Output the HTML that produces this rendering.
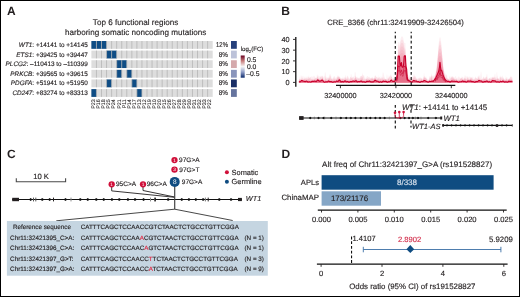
<!DOCTYPE html>
<html><head><meta charset="utf-8"><style>
html,body{margin:0;padding:0;background:#fff;}
body{width:520px;height:297px;overflow:hidden;}
svg{display:block;font-family:"Liberation Sans", sans-serif;}
svg{will-change:transform;}
text{text-rendering:geometricPrecision;}
</style></head><body>
<svg width="520" height="297" viewBox="0 0 520 297">
<rect x="0" y="0" width="520" height="297" fill="#fff"/>
<text x="7.00" y="15.30" font-size="12" text-anchor="start" fill="#231f20" font-weight="bold">A</text>
<text x="135.60" y="25.30" font-size="8.1" text-anchor="middle" fill="#231f20"  stroke="#231f20" stroke-width="0.14">Top 6 functional regions</text>
<text x="135.60" y="34.60" font-size="8.1" text-anchor="middle" fill="#231f20"  stroke="#231f20" stroke-width="0.14">harboring somatic noncoding mutations</text>
<text x="87.8" y="46.95" font-size="6.4" text-anchor="end" fill="#231f20" stroke="#231f20" stroke-width="0.14"><tspan font-style="italic">WT1</tspan>: +14141 to +14145</text>
<rect x="91.4" y="41.00" width="121.30" height="7.8" fill="#dddddd"/>
<rect x="91.40" y="41.00" width="5.05" height="7.8" fill="#0f4d85"/>
<rect x="96.45" y="41.00" width="5.05" height="7.8" fill="#0f4d85"/>
<rect x="101.51" y="41.00" width="5.05" height="7.8" fill="#0f4d85"/>
<line x1="96.45" y1="41.00" x2="96.45" y2="48.80" stroke="#b3b3b3" stroke-width="0.75"/>
<line x1="101.51" y1="41.00" x2="101.51" y2="48.80" stroke="#b3b3b3" stroke-width="0.75"/>
<line x1="106.56" y1="41.00" x2="106.56" y2="48.80" stroke="#b3b3b3" stroke-width="0.75"/>
<line x1="111.62" y1="41.00" x2="111.62" y2="48.80" stroke="#b3b3b3" stroke-width="0.75"/>
<line x1="116.67" y1="41.00" x2="116.67" y2="48.80" stroke="#b3b3b3" stroke-width="0.75"/>
<line x1="121.72" y1="41.00" x2="121.72" y2="48.80" stroke="#b3b3b3" stroke-width="0.75"/>
<line x1="126.78" y1="41.00" x2="126.78" y2="48.80" stroke="#b3b3b3" stroke-width="0.75"/>
<line x1="131.83" y1="41.00" x2="131.83" y2="48.80" stroke="#b3b3b3" stroke-width="0.75"/>
<line x1="136.89" y1="41.00" x2="136.89" y2="48.80" stroke="#b3b3b3" stroke-width="0.75"/>
<line x1="141.94" y1="41.00" x2="141.94" y2="48.80" stroke="#b3b3b3" stroke-width="0.75"/>
<line x1="146.99" y1="41.00" x2="146.99" y2="48.80" stroke="#b3b3b3" stroke-width="0.75"/>
<line x1="152.05" y1="41.00" x2="152.05" y2="48.80" stroke="#b3b3b3" stroke-width="0.75"/>
<line x1="157.10" y1="41.00" x2="157.10" y2="48.80" stroke="#b3b3b3" stroke-width="0.75"/>
<line x1="162.16" y1="41.00" x2="162.16" y2="48.80" stroke="#b3b3b3" stroke-width="0.75"/>
<line x1="167.21" y1="41.00" x2="167.21" y2="48.80" stroke="#b3b3b3" stroke-width="0.75"/>
<line x1="172.26" y1="41.00" x2="172.26" y2="48.80" stroke="#b3b3b3" stroke-width="0.75"/>
<line x1="177.32" y1="41.00" x2="177.32" y2="48.80" stroke="#b3b3b3" stroke-width="0.75"/>
<line x1="182.37" y1="41.00" x2="182.37" y2="48.80" stroke="#b3b3b3" stroke-width="0.75"/>
<line x1="187.43" y1="41.00" x2="187.43" y2="48.80" stroke="#b3b3b3" stroke-width="0.75"/>
<line x1="192.48" y1="41.00" x2="192.48" y2="48.80" stroke="#b3b3b3" stroke-width="0.75"/>
<line x1="197.53" y1="41.00" x2="197.53" y2="48.80" stroke="#b3b3b3" stroke-width="0.75"/>
<line x1="202.59" y1="41.00" x2="202.59" y2="48.80" stroke="#b3b3b3" stroke-width="0.75"/>
<line x1="207.64" y1="41.00" x2="207.64" y2="48.80" stroke="#b3b3b3" stroke-width="0.75"/>
<text x="227.90" y="46.95" font-size="7.1" text-anchor="end" fill="#231f20" textLength="11.8" lengthAdjust="spacingAndGlyphs" stroke="#231f20" stroke-width="0.14">12%</text>
<rect x="231" y="41.00" width="5.8" height="7.8" fill="#26407a"/>
<text x="87.8" y="56.57" font-size="6.4" text-anchor="end" fill="#231f20" stroke="#231f20" stroke-width="0.14"><tspan font-style="italic">ETS1</tspan>: +39425 to +39447</text>
<rect x="91.4" y="50.62" width="121.30" height="7.8" fill="#dddddd"/>
<rect x="106.56" y="50.62" width="5.05" height="7.8" fill="#0f4d85"/>
<rect x="111.62" y="50.62" width="5.05" height="7.8" fill="#0f4d85"/>
<line x1="96.45" y1="50.62" x2="96.45" y2="58.42" stroke="#b3b3b3" stroke-width="0.75"/>
<line x1="101.51" y1="50.62" x2="101.51" y2="58.42" stroke="#b3b3b3" stroke-width="0.75"/>
<line x1="106.56" y1="50.62" x2="106.56" y2="58.42" stroke="#b3b3b3" stroke-width="0.75"/>
<line x1="111.62" y1="50.62" x2="111.62" y2="58.42" stroke="#b3b3b3" stroke-width="0.75"/>
<line x1="116.67" y1="50.62" x2="116.67" y2="58.42" stroke="#b3b3b3" stroke-width="0.75"/>
<line x1="121.72" y1="50.62" x2="121.72" y2="58.42" stroke="#b3b3b3" stroke-width="0.75"/>
<line x1="126.78" y1="50.62" x2="126.78" y2="58.42" stroke="#b3b3b3" stroke-width="0.75"/>
<line x1="131.83" y1="50.62" x2="131.83" y2="58.42" stroke="#b3b3b3" stroke-width="0.75"/>
<line x1="136.89" y1="50.62" x2="136.89" y2="58.42" stroke="#b3b3b3" stroke-width="0.75"/>
<line x1="141.94" y1="50.62" x2="141.94" y2="58.42" stroke="#b3b3b3" stroke-width="0.75"/>
<line x1="146.99" y1="50.62" x2="146.99" y2="58.42" stroke="#b3b3b3" stroke-width="0.75"/>
<line x1="152.05" y1="50.62" x2="152.05" y2="58.42" stroke="#b3b3b3" stroke-width="0.75"/>
<line x1="157.10" y1="50.62" x2="157.10" y2="58.42" stroke="#b3b3b3" stroke-width="0.75"/>
<line x1="162.16" y1="50.62" x2="162.16" y2="58.42" stroke="#b3b3b3" stroke-width="0.75"/>
<line x1="167.21" y1="50.62" x2="167.21" y2="58.42" stroke="#b3b3b3" stroke-width="0.75"/>
<line x1="172.26" y1="50.62" x2="172.26" y2="58.42" stroke="#b3b3b3" stroke-width="0.75"/>
<line x1="177.32" y1="50.62" x2="177.32" y2="58.42" stroke="#b3b3b3" stroke-width="0.75"/>
<line x1="182.37" y1="50.62" x2="182.37" y2="58.42" stroke="#b3b3b3" stroke-width="0.75"/>
<line x1="187.43" y1="50.62" x2="187.43" y2="58.42" stroke="#b3b3b3" stroke-width="0.75"/>
<line x1="192.48" y1="50.62" x2="192.48" y2="58.42" stroke="#b3b3b3" stroke-width="0.75"/>
<line x1="197.53" y1="50.62" x2="197.53" y2="58.42" stroke="#b3b3b3" stroke-width="0.75"/>
<line x1="202.59" y1="50.62" x2="202.59" y2="58.42" stroke="#b3b3b3" stroke-width="0.75"/>
<line x1="207.64" y1="50.62" x2="207.64" y2="58.42" stroke="#b3b3b3" stroke-width="0.75"/>
<text x="227.90" y="56.57" font-size="7.1" text-anchor="end" fill="#231f20" textLength="9.1" lengthAdjust="spacingAndGlyphs" stroke="#231f20" stroke-width="0.14">8%</text>
<rect x="231" y="50.62" width="5.8" height="7.8" fill="#bcc2d9"/>
<text x="87.8" y="66.19" font-size="6.4" text-anchor="end" fill="#231f20" stroke="#231f20" stroke-width="0.14"><tspan font-style="italic">PLCG2</tspan>: –110413 to –110399</text>
<rect x="91.4" y="60.24" width="121.30" height="7.8" fill="#dddddd"/>
<rect x="116.67" y="60.24" width="5.05" height="7.8" fill="#0f4d85"/>
<rect x="121.72" y="60.24" width="5.05" height="7.8" fill="#0f4d85"/>
<line x1="96.45" y1="60.24" x2="96.45" y2="68.04" stroke="#b3b3b3" stroke-width="0.75"/>
<line x1="101.51" y1="60.24" x2="101.51" y2="68.04" stroke="#b3b3b3" stroke-width="0.75"/>
<line x1="106.56" y1="60.24" x2="106.56" y2="68.04" stroke="#b3b3b3" stroke-width="0.75"/>
<line x1="111.62" y1="60.24" x2="111.62" y2="68.04" stroke="#b3b3b3" stroke-width="0.75"/>
<line x1="116.67" y1="60.24" x2="116.67" y2="68.04" stroke="#b3b3b3" stroke-width="0.75"/>
<line x1="121.72" y1="60.24" x2="121.72" y2="68.04" stroke="#b3b3b3" stroke-width="0.75"/>
<line x1="126.78" y1="60.24" x2="126.78" y2="68.04" stroke="#b3b3b3" stroke-width="0.75"/>
<line x1="131.83" y1="60.24" x2="131.83" y2="68.04" stroke="#b3b3b3" stroke-width="0.75"/>
<line x1="136.89" y1="60.24" x2="136.89" y2="68.04" stroke="#b3b3b3" stroke-width="0.75"/>
<line x1="141.94" y1="60.24" x2="141.94" y2="68.04" stroke="#b3b3b3" stroke-width="0.75"/>
<line x1="146.99" y1="60.24" x2="146.99" y2="68.04" stroke="#b3b3b3" stroke-width="0.75"/>
<line x1="152.05" y1="60.24" x2="152.05" y2="68.04" stroke="#b3b3b3" stroke-width="0.75"/>
<line x1="157.10" y1="60.24" x2="157.10" y2="68.04" stroke="#b3b3b3" stroke-width="0.75"/>
<line x1="162.16" y1="60.24" x2="162.16" y2="68.04" stroke="#b3b3b3" stroke-width="0.75"/>
<line x1="167.21" y1="60.24" x2="167.21" y2="68.04" stroke="#b3b3b3" stroke-width="0.75"/>
<line x1="172.26" y1="60.24" x2="172.26" y2="68.04" stroke="#b3b3b3" stroke-width="0.75"/>
<line x1="177.32" y1="60.24" x2="177.32" y2="68.04" stroke="#b3b3b3" stroke-width="0.75"/>
<line x1="182.37" y1="60.24" x2="182.37" y2="68.04" stroke="#b3b3b3" stroke-width="0.75"/>
<line x1="187.43" y1="60.24" x2="187.43" y2="68.04" stroke="#b3b3b3" stroke-width="0.75"/>
<line x1="192.48" y1="60.24" x2="192.48" y2="68.04" stroke="#b3b3b3" stroke-width="0.75"/>
<line x1="197.53" y1="60.24" x2="197.53" y2="68.04" stroke="#b3b3b3" stroke-width="0.75"/>
<line x1="202.59" y1="60.24" x2="202.59" y2="68.04" stroke="#b3b3b3" stroke-width="0.75"/>
<line x1="207.64" y1="60.24" x2="207.64" y2="68.04" stroke="#b3b3b3" stroke-width="0.75"/>
<text x="227.90" y="66.19" font-size="7.1" text-anchor="end" fill="#231f20" textLength="9.1" lengthAdjust="spacingAndGlyphs" stroke="#231f20" stroke-width="0.14">8%</text>
<rect x="231" y="60.24" width="5.8" height="7.8" fill="#d4a9ac"/>
<text x="87.8" y="75.81" font-size="6.4" text-anchor="end" fill="#231f20" stroke="#231f20" stroke-width="0.14"><tspan font-style="italic">PRKCB</tspan>: +39565 to +39615</text>
<rect x="91.4" y="69.86" width="121.30" height="7.8" fill="#dddddd"/>
<rect x="116.67" y="69.86" width="5.05" height="7.8" fill="#0f4d85"/>
<rect x="126.78" y="69.86" width="5.05" height="7.8" fill="#0f4d85"/>
<line x1="96.45" y1="69.86" x2="96.45" y2="77.66" stroke="#b3b3b3" stroke-width="0.75"/>
<line x1="101.51" y1="69.86" x2="101.51" y2="77.66" stroke="#b3b3b3" stroke-width="0.75"/>
<line x1="106.56" y1="69.86" x2="106.56" y2="77.66" stroke="#b3b3b3" stroke-width="0.75"/>
<line x1="111.62" y1="69.86" x2="111.62" y2="77.66" stroke="#b3b3b3" stroke-width="0.75"/>
<line x1="116.67" y1="69.86" x2="116.67" y2="77.66" stroke="#b3b3b3" stroke-width="0.75"/>
<line x1="121.72" y1="69.86" x2="121.72" y2="77.66" stroke="#b3b3b3" stroke-width="0.75"/>
<line x1="126.78" y1="69.86" x2="126.78" y2="77.66" stroke="#b3b3b3" stroke-width="0.75"/>
<line x1="131.83" y1="69.86" x2="131.83" y2="77.66" stroke="#b3b3b3" stroke-width="0.75"/>
<line x1="136.89" y1="69.86" x2="136.89" y2="77.66" stroke="#b3b3b3" stroke-width="0.75"/>
<line x1="141.94" y1="69.86" x2="141.94" y2="77.66" stroke="#b3b3b3" stroke-width="0.75"/>
<line x1="146.99" y1="69.86" x2="146.99" y2="77.66" stroke="#b3b3b3" stroke-width="0.75"/>
<line x1="152.05" y1="69.86" x2="152.05" y2="77.66" stroke="#b3b3b3" stroke-width="0.75"/>
<line x1="157.10" y1="69.86" x2="157.10" y2="77.66" stroke="#b3b3b3" stroke-width="0.75"/>
<line x1="162.16" y1="69.86" x2="162.16" y2="77.66" stroke="#b3b3b3" stroke-width="0.75"/>
<line x1="167.21" y1="69.86" x2="167.21" y2="77.66" stroke="#b3b3b3" stroke-width="0.75"/>
<line x1="172.26" y1="69.86" x2="172.26" y2="77.66" stroke="#b3b3b3" stroke-width="0.75"/>
<line x1="177.32" y1="69.86" x2="177.32" y2="77.66" stroke="#b3b3b3" stroke-width="0.75"/>
<line x1="182.37" y1="69.86" x2="182.37" y2="77.66" stroke="#b3b3b3" stroke-width="0.75"/>
<line x1="187.43" y1="69.86" x2="187.43" y2="77.66" stroke="#b3b3b3" stroke-width="0.75"/>
<line x1="192.48" y1="69.86" x2="192.48" y2="77.66" stroke="#b3b3b3" stroke-width="0.75"/>
<line x1="197.53" y1="69.86" x2="197.53" y2="77.66" stroke="#b3b3b3" stroke-width="0.75"/>
<line x1="202.59" y1="69.86" x2="202.59" y2="77.66" stroke="#b3b3b3" stroke-width="0.75"/>
<line x1="207.64" y1="69.86" x2="207.64" y2="77.66" stroke="#b3b3b3" stroke-width="0.75"/>
<text x="227.90" y="75.81" font-size="7.1" text-anchor="end" fill="#231f20" textLength="9.1" lengthAdjust="spacingAndGlyphs" stroke="#231f20" stroke-width="0.14">8%</text>
<rect x="231" y="69.86" width="5.8" height="7.8" fill="#8a95bb"/>
<text x="87.8" y="85.43" font-size="6.4" text-anchor="end" fill="#231f20" stroke="#231f20" stroke-width="0.14"><tspan font-style="italic">PDGFA</tspan>: +51941 to +51950</text>
<rect x="91.4" y="79.48" width="121.30" height="7.8" fill="#dddddd"/>
<rect x="106.56" y="79.48" width="5.05" height="7.8" fill="#0f4d85"/>
<rect x="131.83" y="79.48" width="5.05" height="7.8" fill="#0f4d85"/>
<line x1="96.45" y1="79.48" x2="96.45" y2="87.28" stroke="#b3b3b3" stroke-width="0.75"/>
<line x1="101.51" y1="79.48" x2="101.51" y2="87.28" stroke="#b3b3b3" stroke-width="0.75"/>
<line x1="106.56" y1="79.48" x2="106.56" y2="87.28" stroke="#b3b3b3" stroke-width="0.75"/>
<line x1="111.62" y1="79.48" x2="111.62" y2="87.28" stroke="#b3b3b3" stroke-width="0.75"/>
<line x1="116.67" y1="79.48" x2="116.67" y2="87.28" stroke="#b3b3b3" stroke-width="0.75"/>
<line x1="121.72" y1="79.48" x2="121.72" y2="87.28" stroke="#b3b3b3" stroke-width="0.75"/>
<line x1="126.78" y1="79.48" x2="126.78" y2="87.28" stroke="#b3b3b3" stroke-width="0.75"/>
<line x1="131.83" y1="79.48" x2="131.83" y2="87.28" stroke="#b3b3b3" stroke-width="0.75"/>
<line x1="136.89" y1="79.48" x2="136.89" y2="87.28" stroke="#b3b3b3" stroke-width="0.75"/>
<line x1="141.94" y1="79.48" x2="141.94" y2="87.28" stroke="#b3b3b3" stroke-width="0.75"/>
<line x1="146.99" y1="79.48" x2="146.99" y2="87.28" stroke="#b3b3b3" stroke-width="0.75"/>
<line x1="152.05" y1="79.48" x2="152.05" y2="87.28" stroke="#b3b3b3" stroke-width="0.75"/>
<line x1="157.10" y1="79.48" x2="157.10" y2="87.28" stroke="#b3b3b3" stroke-width="0.75"/>
<line x1="162.16" y1="79.48" x2="162.16" y2="87.28" stroke="#b3b3b3" stroke-width="0.75"/>
<line x1="167.21" y1="79.48" x2="167.21" y2="87.28" stroke="#b3b3b3" stroke-width="0.75"/>
<line x1="172.26" y1="79.48" x2="172.26" y2="87.28" stroke="#b3b3b3" stroke-width="0.75"/>
<line x1="177.32" y1="79.48" x2="177.32" y2="87.28" stroke="#b3b3b3" stroke-width="0.75"/>
<line x1="182.37" y1="79.48" x2="182.37" y2="87.28" stroke="#b3b3b3" stroke-width="0.75"/>
<line x1="187.43" y1="79.48" x2="187.43" y2="87.28" stroke="#b3b3b3" stroke-width="0.75"/>
<line x1="192.48" y1="79.48" x2="192.48" y2="87.28" stroke="#b3b3b3" stroke-width="0.75"/>
<line x1="197.53" y1="79.48" x2="197.53" y2="87.28" stroke="#b3b3b3" stroke-width="0.75"/>
<line x1="202.59" y1="79.48" x2="202.59" y2="87.28" stroke="#b3b3b3" stroke-width="0.75"/>
<line x1="207.64" y1="79.48" x2="207.64" y2="87.28" stroke="#b3b3b3" stroke-width="0.75"/>
<text x="227.90" y="85.43" font-size="7.1" text-anchor="end" fill="#231f20" textLength="9.1" lengthAdjust="spacingAndGlyphs" stroke="#231f20" stroke-width="0.14">8%</text>
<rect x="231" y="79.48" width="5.8" height="7.8" fill="#1a2f66"/>
<text x="87.8" y="95.05" font-size="6.4" text-anchor="end" fill="#231f20" stroke="#231f20" stroke-width="0.14"><tspan font-style="italic">CD247</tspan>: +83274 to +83313</text>
<rect x="91.4" y="89.10" width="121.30" height="7.8" fill="#dddddd"/>
<rect x="91.40" y="89.10" width="5.05" height="7.8" fill="#0f4d85"/>
<rect x="136.89" y="89.10" width="5.05" height="7.8" fill="#0f4d85"/>
<line x1="96.45" y1="89.10" x2="96.45" y2="96.90" stroke="#b3b3b3" stroke-width="0.75"/>
<line x1="101.51" y1="89.10" x2="101.51" y2="96.90" stroke="#b3b3b3" stroke-width="0.75"/>
<line x1="106.56" y1="89.10" x2="106.56" y2="96.90" stroke="#b3b3b3" stroke-width="0.75"/>
<line x1="111.62" y1="89.10" x2="111.62" y2="96.90" stroke="#b3b3b3" stroke-width="0.75"/>
<line x1="116.67" y1="89.10" x2="116.67" y2="96.90" stroke="#b3b3b3" stroke-width="0.75"/>
<line x1="121.72" y1="89.10" x2="121.72" y2="96.90" stroke="#b3b3b3" stroke-width="0.75"/>
<line x1="126.78" y1="89.10" x2="126.78" y2="96.90" stroke="#b3b3b3" stroke-width="0.75"/>
<line x1="131.83" y1="89.10" x2="131.83" y2="96.90" stroke="#b3b3b3" stroke-width="0.75"/>
<line x1="136.89" y1="89.10" x2="136.89" y2="96.90" stroke="#b3b3b3" stroke-width="0.75"/>
<line x1="141.94" y1="89.10" x2="141.94" y2="96.90" stroke="#b3b3b3" stroke-width="0.75"/>
<line x1="146.99" y1="89.10" x2="146.99" y2="96.90" stroke="#b3b3b3" stroke-width="0.75"/>
<line x1="152.05" y1="89.10" x2="152.05" y2="96.90" stroke="#b3b3b3" stroke-width="0.75"/>
<line x1="157.10" y1="89.10" x2="157.10" y2="96.90" stroke="#b3b3b3" stroke-width="0.75"/>
<line x1="162.16" y1="89.10" x2="162.16" y2="96.90" stroke="#b3b3b3" stroke-width="0.75"/>
<line x1="167.21" y1="89.10" x2="167.21" y2="96.90" stroke="#b3b3b3" stroke-width="0.75"/>
<line x1="172.26" y1="89.10" x2="172.26" y2="96.90" stroke="#b3b3b3" stroke-width="0.75"/>
<line x1="177.32" y1="89.10" x2="177.32" y2="96.90" stroke="#b3b3b3" stroke-width="0.75"/>
<line x1="182.37" y1="89.10" x2="182.37" y2="96.90" stroke="#b3b3b3" stroke-width="0.75"/>
<line x1="187.43" y1="89.10" x2="187.43" y2="96.90" stroke="#b3b3b3" stroke-width="0.75"/>
<line x1="192.48" y1="89.10" x2="192.48" y2="96.90" stroke="#b3b3b3" stroke-width="0.75"/>
<line x1="197.53" y1="89.10" x2="197.53" y2="96.90" stroke="#b3b3b3" stroke-width="0.75"/>
<line x1="202.59" y1="89.10" x2="202.59" y2="96.90" stroke="#b3b3b3" stroke-width="0.75"/>
<line x1="207.64" y1="89.10" x2="207.64" y2="96.90" stroke="#b3b3b3" stroke-width="0.75"/>
<text x="227.90" y="95.05" font-size="7.1" text-anchor="end" fill="#231f20" textLength="9.1" lengthAdjust="spacingAndGlyphs" stroke="#231f20" stroke-width="0.14">8%</text>
<rect x="231" y="89.10" width="5.8" height="7.8" fill="#66749e"/>
<text transform="translate(95.23,99.3) rotate(-90)" font-size="5.3" text-anchor="end" fill="#231f20" stroke="#231f20" stroke-width="0.08">P23</text>
<text transform="translate(100.28,99.3) rotate(-90)" font-size="5.3" text-anchor="end" fill="#231f20" stroke="#231f20" stroke-width="0.08">P16</text>
<text transform="translate(105.34,99.3) rotate(-90)" font-size="5.3" text-anchor="end" fill="#231f20" stroke="#231f20" stroke-width="0.08">P18</text>
<text transform="translate(110.39,99.3) rotate(-90)" font-size="5.3" text-anchor="end" fill="#231f20" stroke="#231f20" stroke-width="0.08">P25</text>
<text transform="translate(115.44,99.3) rotate(-90)" font-size="5.3" text-anchor="end" fill="#231f20" stroke="#231f20" stroke-width="0.08">P24</text>
<text transform="translate(120.50,99.3) rotate(-90)" font-size="5.3" text-anchor="end" fill="#231f20" stroke="#231f20" stroke-width="0.08">P21</text>
<text transform="translate(125.55,99.3) rotate(-90)" font-size="5.3" text-anchor="end" fill="#231f20" stroke="#231f20" stroke-width="0.08">P11</text>
<text transform="translate(130.61,99.3) rotate(-90)" font-size="5.3" text-anchor="end" fill="#231f20" stroke="#231f20" stroke-width="0.08">P14</text>
<text transform="translate(135.66,99.3) rotate(-90)" font-size="5.3" text-anchor="end" fill="#231f20" stroke="#231f20" stroke-width="0.08">P17</text>
<text transform="translate(140.71,99.3) rotate(-90)" font-size="5.3" text-anchor="end" fill="#231f20" stroke="#231f20" stroke-width="0.08">P13</text>
<text transform="translate(145.77,99.3) rotate(-90)" font-size="5.3" text-anchor="end" fill="#231f20" stroke="#231f20" stroke-width="0.08">P12</text>
<text transform="translate(150.82,99.3) rotate(-90)" font-size="5.3" text-anchor="end" fill="#231f20" stroke="#231f20" stroke-width="0.08">P19</text>
<text transform="translate(155.88,99.3) rotate(-90)" font-size="5.3" text-anchor="end" fill="#231f20" stroke="#231f20" stroke-width="0.08">P10</text>
<text transform="translate(160.93,99.3) rotate(-90)" font-size="5.3" text-anchor="end" fill="#231f20" stroke="#231f20" stroke-width="0.08">P20</text>
<text transform="translate(165.98,99.3) rotate(-90)" font-size="5.3" text-anchor="end" fill="#231f20" stroke="#231f20" stroke-width="0.08">P15</text>
<text transform="translate(171.04,99.3) rotate(-90)" font-size="5.3" text-anchor="end" fill="#231f20" stroke="#231f20" stroke-width="0.08">P26</text>
<text transform="translate(176.09,99.3) rotate(-90)" font-size="5.3" text-anchor="end" fill="#231f20" stroke="#231f20" stroke-width="0.08">P27</text>
<text transform="translate(181.15,99.3) rotate(-90)" font-size="5.3" text-anchor="end" fill="#231f20" stroke="#231f20" stroke-width="0.08">P28</text>
<text transform="translate(186.20,99.3) rotate(-90)" font-size="5.3" text-anchor="end" fill="#231f20" stroke="#231f20" stroke-width="0.08">P29</text>
<text transform="translate(191.25,99.3) rotate(-90)" font-size="5.3" text-anchor="end" fill="#231f20" stroke="#231f20" stroke-width="0.08">P30</text>
<text transform="translate(196.31,99.3) rotate(-90)" font-size="5.3" text-anchor="end" fill="#231f20" stroke="#231f20" stroke-width="0.08">P31</text>
<text transform="translate(201.36,99.3) rotate(-90)" font-size="5.3" text-anchor="end" fill="#231f20" stroke="#231f20" stroke-width="0.08">P32</text>
<text transform="translate(206.42,99.3) rotate(-90)" font-size="5.3" text-anchor="end" fill="#231f20" stroke="#231f20" stroke-width="0.08">P33</text>
<text transform="translate(211.47,99.3) rotate(-90)" font-size="5.3" text-anchor="end" fill="#231f20" stroke="#231f20" stroke-width="0.08">P22</text>
<text x="240.7" y="51.4" font-size="6.1" fill="#231f20" stroke="#231f20" stroke-width="0.14">log<tspan font-size="4.2" dy="1.3">2</tspan><tspan dy="-1.3">(FC)</tspan></text>
<defs><linearGradient id="cb" x1="0" y1="0" x2="0" y2="1"><stop offset="0" stop-color="#67001f"/><stop offset="0.25" stop-color="#c9807f"/><stop offset="0.5" stop-color="#f7f7f7"/><stop offset="0.75" stop-color="#8e9cc6"/><stop offset="1" stop-color="#0c2a6b"/></linearGradient></defs>
<rect x="240.7" y="55.5" width="4" height="22.2" fill="url(#cb)"/>
<text x="246.90" y="61.60" font-size="6.8" text-anchor="start" fill="#231f20"  stroke="#231f20" stroke-width="0.14">0.5</text>
<text x="246.90" y="69.00" font-size="6.8" text-anchor="start" fill="#231f20"  stroke="#231f20" stroke-width="0.14">0.0</text>
<text x="246.30" y="76.40" font-size="6.8" text-anchor="start" fill="#231f20"  stroke="#231f20" stroke-width="0.14">–0.5</text>
<text x="281.30" y="15.30" font-size="12" text-anchor="start" fill="#231f20" font-weight="bold">B</text>
<text x="327.20" y="24.50" font-size="7.7" text-anchor="start" fill="#231f20"  stroke="#231f20" stroke-width="0.14">CRE_8366 (chr11:32419909-32426504)</text>
<line x1="295.8" y1="37" x2="295.8" y2="86.7" stroke="#111" stroke-width="1.3"/>
<line x1="293" y1="82.40" x2="295.8" y2="82.40" stroke="#231f20" stroke-width="0.9"/>
<text x="289.50" y="85.00" font-size="7.3" text-anchor="end" fill="#231f20"  stroke="#231f20" stroke-width="0.14">0</text>
<line x1="293" y1="71.65" x2="295.8" y2="71.65" stroke="#231f20" stroke-width="0.9"/>
<text x="289.50" y="74.25" font-size="7.3" text-anchor="end" fill="#231f20"  stroke="#231f20" stroke-width="0.14">10</text>
<line x1="293" y1="60.90" x2="295.8" y2="60.90" stroke="#231f20" stroke-width="0.9"/>
<text x="289.50" y="63.50" font-size="7.3" text-anchor="end" fill="#231f20"  stroke="#231f20" stroke-width="0.14">20</text>
<line x1="293" y1="50.15" x2="295.8" y2="50.15" stroke="#231f20" stroke-width="0.9"/>
<text x="289.50" y="52.75" font-size="7.3" text-anchor="end" fill="#231f20"  stroke="#231f20" stroke-width="0.14">30</text>
<line x1="293" y1="39.40" x2="295.8" y2="39.40" stroke="#231f20" stroke-width="0.9"/>
<text x="289.50" y="42.00" font-size="7.3" text-anchor="end" fill="#231f20"  stroke="#231f20" stroke-width="0.14">40</text>
<line x1="336" y1="85.4" x2="455.3" y2="85.4" stroke="#111" stroke-width="1.2"/>
<line x1="340.4" y1="85.5" x2="340.4" y2="88.2" stroke="#231f20" stroke-width="0.9"/>
<text x="340.40" y="97.60" font-size="7.3" text-anchor="middle" fill="#231f20"  stroke="#231f20" stroke-width="0.14">32400000</text>
<line x1="395.9" y1="85.5" x2="395.9" y2="88.2" stroke="#231f20" stroke-width="0.9"/>
<text x="395.90" y="97.60" font-size="7.3" text-anchor="middle" fill="#231f20"  stroke="#231f20" stroke-width="0.14">32420000</text>
<line x1="451.3" y1="85.5" x2="451.3" y2="88.2" stroke="#231f20" stroke-width="0.9"/>
<text x="451.30" y="97.60" font-size="7.3" text-anchor="middle" fill="#231f20"  stroke="#231f20" stroke-width="0.14">32440000</text>
<polygon points="298.9,82.70 298.90,81.58 299.15,81.56 299.40,81.49 299.65,81.46 299.90,81.39 300.15,81.38 300.40,81.39 300.65,81.37 300.90,81.30 301.15,81.14 301.40,80.88 301.65,80.75 301.90,80.67 302.15,80.78 302.40,81.02 302.65,81.32 302.90,81.56 303.15,81.58 303.40,81.55 303.65,81.47 303.90,81.40 304.15,81.40 304.40,81.49 304.65,81.53 304.90,81.58 305.15,81.60 305.40,81.54 305.65,81.44 305.90,81.35 306.15,81.35 306.40,81.42 306.65,81.55 306.90,81.72 307.15,81.75 307.40,81.74 307.65,81.70 307.90,81.62 308.15,81.66 308.40,81.80 308.65,81.86 308.90,81.91 309.15,81.91 309.40,81.84 309.65,81.80 309.90,81.79 310.15,81.86 310.40,81.96 310.65,81.99 310.90,82.03 311.15,81.95 311.40,81.76 311.65,81.57 311.90,81.42 312.15,81.39 312.40,81.45 312.65,81.57 312.90,81.68 313.15,81.64 313.40,81.49 313.65,81.33 313.90,81.14 314.15,81.10 314.40,81.20 314.65,81.27 314.90,81.39 315.15,81.41 315.40,81.33 315.65,81.27 315.90,81.16 316.15,81.16 316.40,81.13 316.65,81.06 316.90,80.93 317.15,80.72 317.40,80.44 317.65,80.29 317.90,80.19 318.15,80.22 318.40,80.37 318.65,80.56 318.90,80.67 319.15,80.81 319.40,80.89 319.65,80.90 319.90,80.86 320.15,80.90 320.40,80.87 320.65,80.84 320.90,80.77 321.15,80.76 321.40,80.68 321.65,80.66 321.90,80.66 322.15,80.64 322.40,80.59 322.65,80.61 322.90,80.68 323.15,80.91 323.40,81.23 323.65,81.58 323.90,81.89 324.15,81.98 324.40,81.98 324.65,81.94 324.90,81.83 325.15,81.80 325.40,81.82 325.65,81.82 325.90,81.85 326.15,81.83 326.40,81.73 326.65,81.63 326.90,81.58 327.15,81.58 327.40,81.64 327.65,81.67 327.90,81.69 328.15,81.36 328.40,80.88 328.65,80.47 328.90,80.07 329.15,80.25 329.40,80.76 329.65,81.26 329.90,81.70 330.15,81.83 330.40,81.70 330.65,81.57 330.90,81.45 331.15,81.46 331.40,81.56 331.65,81.70 331.90,81.81 332.15,81.88 332.40,81.90 332.65,81.89 332.90,81.80 333.15,81.74 333.40,81.68 333.65,81.55 333.90,81.44 334.15,81.30 334.40,81.13 334.65,80.99 334.90,80.89 335.15,81.00 335.40,81.19 335.65,81.32 335.90,81.43 336.15,81.37 336.40,81.18 336.65,81.05 336.90,81.03 337.15,81.06 337.40,81.20 337.65,81.35 337.90,81.41 338.15,81.34 338.40,81.19 338.65,80.96 338.90,80.72 339.15,80.62 339.40,80.61 339.65,80.77 339.90,81.03 340.15,81.36 340.40,81.67 340.65,81.91 340.90,82.03 341.15,81.88 341.40,81.49 341.65,81.05 341.90,80.66 342.15,80.73 342.40,81.06 342.65,81.44 342.90,81.85 343.15,81.96 343.40,81.81 343.65,81.63 343.90,81.38 344.15,81.25 344.40,81.28 344.65,81.32 344.90,81.39 345.15,81.42 345.40,81.45 345.65,81.48 345.90,81.55 346.15,81.67 346.40,81.81 346.65,81.84 346.90,81.82 347.15,81.65 347.40,81.44 347.65,81.25 347.90,81.11 348.15,81.21 348.40,81.36 348.65,81.46 348.90,81.53 349.15,81.52 349.40,81.41 349.65,81.31 349.90,81.19 350.15,81.12 350.40,81.07 350.65,81.04 350.90,81.05 351.15,81.21 351.40,81.36 351.65,81.53 351.90,81.71 352.15,81.62 352.40,81.37 352.65,81.12 352.90,80.89 353.15,80.88 353.40,80.99 353.65,81.13 353.90,81.35 354.15,81.51 354.40,81.54 354.65,81.59 354.90,81.61 355.15,81.49 355.40,81.35 355.65,81.27 355.90,81.19 356.15,81.23 356.40,81.39 356.65,81.55 356.90,81.73 357.15,81.78 357.40,81.66 357.65,81.52 357.90,81.32 358.15,81.27 358.40,81.34 358.65,81.46 358.90,81.56 359.15,81.58 359.40,81.47 359.65,81.35 359.90,81.16 360.15,81.19 360.40,81.23 360.65,81.30 360.90,81.39 361.15,81.38 361.40,81.31 361.65,81.29 361.90,81.30 362.15,81.47 362.40,81.66 362.65,81.82 362.90,81.95 363.15,81.95 363.40,81.89 363.65,81.90 363.90,81.88 364.15,81.83 364.40,81.78 364.65,81.77 364.90,81.72 365.15,81.71 365.40,81.68 365.65,81.58 365.90,81.41 366.15,81.31 366.40,81.23 366.65,81.17 366.90,81.22 367.15,81.30 367.40,81.44 367.65,81.60 367.90,81.74 368.15,81.71 368.40,81.56 368.65,81.38 368.90,81.17 369.15,81.05 369.40,80.97 369.65,80.94 369.90,81.00 370.15,81.10 370.40,81.16 370.65,81.21 370.90,81.28 371.15,81.36 371.40,81.48 371.65,81.62 371.90,81.75 372.15,81.78 372.40,81.74 372.65,81.74 372.90,81.70 373.15,81.52 373.40,81.10 373.65,80.68 373.90,80.23 374.15,80.15 374.40,80.30 374.65,80.56 374.90,80.83 375.15,80.85 375.40,80.76 375.65,80.70 375.90,80.62 376.15,80.75 376.40,80.89 376.65,80.98 376.90,81.08 377.15,81.14 377.40,81.15 377.65,81.18 377.90,81.30 378.15,81.39 378.40,81.48 378.65,81.60 378.90,81.70 379.15,81.71 379.40,81.73 379.65,81.73 379.90,81.64 380.15,81.62 380.40,81.67 380.65,81.79 380.90,81.91 381.15,81.94 381.40,81.79 381.65,81.65 381.90,81.42 382.15,81.34 382.40,81.31 382.65,81.34 382.90,81.39 383.15,81.38 383.40,81.34 383.65,81.40 383.90,81.46 384.15,81.50 384.40,81.49 384.65,81.46 384.90,81.39 385.15,81.41 385.40,81.39 385.65,81.41 385.90,81.51 386.15,81.59 386.40,81.59 386.65,81.71 386.90,81.74 387.15,81.75 387.40,81.66 387.65,81.56 387.90,81.34 388.15,81.37 388.40,81.50 388.65,81.61 388.90,81.78 389.15,81.82 389.40,81.71 389.65,81.56 389.90,81.37 390.15,81.16 390.40,80.95 390.65,80.70 390.90,80.51 391.15,80.32 391.40,80.20 391.65,80.15 391.90,80.21 392.15,80.42 392.40,80.78 392.65,81.03 392.90,81.26 393.15,81.33 393.40,81.29 393.65,81.20 393.90,81.22 394.15,81.21 394.40,81.21 394.65,80.94 394.90,80.72 395.15,80.62 395.40,79.75 395.65,78.22 395.90,76.77 396.15,75.40 396.40,74.13 396.65,72.93 396.90,71.82 397.15,70.78 397.40,69.82 397.65,68.94 397.90,68.13 398.15,66.29 398.40,66.37 398.65,66.12 398.90,65.58 399.15,65.10 399.40,64.68 399.65,64.31 399.90,64.00 400.15,63.74 400.40,63.53 400.65,63.37 400.90,63.24 401.15,63.15 401.40,63.09 401.65,63.06 401.90,63.05 402.15,63.05 402.40,63.07 402.65,63.10 402.90,63.16 403.15,63.26 403.40,63.40 403.65,63.57 403.90,63.79 404.15,64.06 404.40,64.38 404.65,64.76 404.90,65.19 405.15,65.68 405.40,66.23 405.65,66.85 405.90,67.53 406.15,68.29 406.40,69.11 406.65,70.01 406.90,70.98 407.15,72.03 407.40,73.16 407.65,74.38 407.90,75.67 408.15,77.05 408.40,78.52 408.65,80.07 408.90,80.76 409.15,80.77 409.40,80.83 409.65,80.90 409.90,80.96 410.15,81.31 410.40,81.44 410.65,81.56 410.90,81.76 411.15,81.80 411.40,81.68 411.65,81.61 411.90,81.46 412.15,81.37 412.40,81.28 412.65,81.16 412.90,80.98 413.15,80.81 413.40,80.63 413.65,80.54 413.90,80.51 414.15,80.65 414.40,80.87 414.65,81.11 414.90,81.30 415.15,81.38 415.40,81.31 415.65,81.23 415.90,81.19 416.15,81.19 416.40,81.23 416.65,81.34 416.90,81.46 417.15,81.50 417.40,81.51 417.65,81.50 417.90,81.45 418.15,81.42 418.40,81.53 418.65,81.64 418.90,81.80 419.15,81.97 419.40,82.13 419.65,82.21 419.90,82.33 420.15,82.27 420.40,82.10 420.65,81.95 420.90,81.81 421.15,81.59 421.40,81.38 421.65,81.22 421.90,81.07 422.15,81.10 422.40,81.28 422.65,81.43 422.90,81.54 423.15,81.48 423.40,81.36 423.65,81.19 423.90,81.07 424.15,80.93 424.40,80.82 424.65,80.72 424.90,80.67 425.15,80.71 425.40,80.85 425.65,80.97 425.90,81.09 426.15,81.13 426.40,81.14 426.65,81.08 426.90,81.10 427.15,81.15 427.40,81.25 427.65,81.38 427.90,81.51 428.15,81.50 428.40,81.47 428.65,81.42 428.90,81.29 429.15,81.21 429.40,81.13 429.65,81.16 429.90,81.17 430.15,81.27 430.40,81.38 430.65,81.50 430.90,81.60 431.15,81.55 431.40,81.40 431.65,81.23 431.90,81.12 432.15,81.02 432.40,80.97 432.65,80.98 432.90,81.08 433.15,81.11 433.40,81.12 433.65,81.13 433.90,81.15 434.15,80.91 434.40,80.28 434.65,79.04 434.90,77.88 435.15,76.77 435.40,75.74 435.65,74.77 435.90,73.86 436.15,73.02 436.40,72.24 436.65,71.53 436.90,70.87 437.15,70.28 437.40,69.74 437.65,69.26 437.90,68.84 438.15,68.48 438.40,68.17 438.65,67.92 438.90,67.71 439.15,67.55 439.40,67.44 439.65,67.38 439.90,67.35 440.15,67.35 440.40,67.39 440.65,67.46 440.90,67.58 441.15,67.75 441.40,67.96 441.65,68.23 441.90,68.55 442.15,68.92 442.40,69.35 442.65,69.84 442.90,70.39 443.15,71.00 443.40,71.66 443.65,72.39 443.90,73.18 444.15,74.04 444.40,74.96 444.65,75.94 444.90,76.99 445.15,78.10 445.40,79.29 445.65,80.08 445.90,80.41 446.15,80.60 446.40,80.69 446.65,80.78 446.90,80.88 447.15,81.19 447.40,81.32 447.65,81.42 447.90,81.53 448.15,81.55 448.40,81.60 448.65,81.65 448.90,81.72 449.15,81.81 449.40,81.90 449.65,81.93 449.90,81.93 450.15,81.85 450.40,81.63 450.65,81.33 450.90,81.05 451.15,80.96 451.40,81.02 451.65,81.11 451.90,81.27 452.15,81.35 452.40,81.38 452.65,81.42 452.90,81.45 453.15,81.37 453.40,81.22 453.65,81.07 453.90,80.91 454.15,80.86 454.40,80.90 454.65,80.94 454.90,81.05 455.15,81.23 455.40,81.42 455.65,81.57 455.90,81.78 456.15,81.75 456.40,81.64 456.65,81.55 456.90,81.51 457.15,81.50 457.40,81.59 457.65,81.68 457.90,81.83 458.15,81.91 458.40,81.91 458.65,81.84 458.90,81.76 459.15,81.59 459.40,81.45 459.65,81.37 459.90,81.30 460.15,81.28 460.40,81.31 460.65,81.28 460.90,81.30 461.15,81.41 461.40,81.54 461.65,81.63 461.90,81.71 462.15,81.56 462.40,81.32 462.65,81.14 462.90,81.02 463.15,81.14 463.40,81.41 463.65,81.67 463.90,81.84 464.15,81.87 464.40,81.70 464.65,81.55 464.90,81.42 465.15,81.48 465.40,81.61 465.65,81.78 465.90,81.93 466.15,82.00 466.40,81.97 466.65,81.86 466.90,81.72 467.15,81.59 467.40,81.46 467.65,81.33 467.90,81.32 468.15,81.35 468.40,81.39 468.65,81.42 468.90,81.49 469.15,81.43 469.40,81.33 469.65,81.22 469.90,81.12 470.15,81.07 470.40,81.17 470.65,81.31 470.90,81.50 471.15,81.62 471.40,81.74 471.65,81.85 471.90,81.92 472.15,81.82 472.40,81.64 472.65,81.51 472.90,81.37 473.15,81.32 473.40,81.39 473.65,81.49 473.90,81.61 474.15,81.69 474.40,81.79 474.65,81.86 474.90,81.92 475.15,81.75 475.40,81.58 475.65,81.38 475.90,81.22 476.15,81.06 476.40,80.94 476.65,80.84 476.90,80.73 477.15,80.83 477.40,81.06 477.65,81.28 477.90,81.42 478.15,81.37 478.40,81.15 478.65,80.99 478.90,80.86 479.15,80.78 479.40,80.69 479.65,80.71 479.90,80.69 480.15,80.80 480.40,80.92 480.65,81.06 480.90,81.15 481.15,81.16 481.40,81.12 481.65,81.13 481.90,81.23 482.15,81.40 482.40,81.52 482.65,81.63 482.90,81.73 483.15,81.72 483.40,81.69 483.65,81.69 483.90,81.69 484.15,81.57 484.40,81.47 484.65,81.37 484.90,81.29 485.15,81.25 485.40,81.29 485.65,81.23 485.90,81.20 486.15,81.17 486.40,81.16 486.65,81.12 486.90,81.20 487.15,81.25 487.40,81.29 487.65,81.39 487.90,81.47 488.15,81.57 488.40,81.63 488.65,81.63 488.90,81.65 489.15,81.69 489.40,81.67 489.65,81.69 489.90,81.83 490.15,81.90 490.40,81.98 490.65,82.00 490.90,82.03 491.15,81.85 491.40,81.56 491.65,81.26 491.90,80.99 492.15,80.82 492.40,80.84 492.65,80.96 492.90,81.07 493.15,81.15 493.40,81.22 493.65,81.30 493.90,81.28 494.15,81.29 494.40,81.31 494.65,81.29 494.90,81.33 495.15,81.42 495.40,81.52 495.65,81.60 495.90,81.72 496.15,81.74 496.40,81.71 496.65,81.64 496.90,81.55 497.15,81.44 497.40,81.36 497.65,81.24 497.90,81.17 498.15,81.24 498.40,81.43 498.65,81.60 498.90,81.80 499.15,81.84 499.40,81.74 499.65,81.57 499.90,81.40 500.15,81.31 500.40,81.26 500.65,81.29 500.90,81.40 501.15,81.44 501.40,81.42 501.65,81.45 501.90,81.37 502.15,81.35 502.40,81.33 502.65,81.38 502.90,81.43 503.15,81.53 503.40,81.61 503.65,81.74 503.90,81.87 504.15,81.89 504.40,81.82 504.65,81.72 504.90,81.58 505.15,81.52 505.40,81.49 505.65,81.49 505.90,81.55 506.15,81.56 506.40,81.63 506.65,81.71 506.90,81.79 507.15,81.77 507.40,81.77 507.65,81.69 507.90,81.58 508.15,81.45 508.40,81.30 508.65,81.16 508.90,81.08 509.15,81.10 509.40,81.16 509.65,81.31 509.90,81.45 510.15,81.43 510.40,81.33 510.65,81.22 510.90,81.13 511.15,81.11 511.40,81.22 511.65,81.36 511.90,81.56 512.15,81.52 512.40,81.41 512.5,82.70" fill="#e0304f" fill-opacity="0.07"/>
<polygon points="298.9,82.70 298.90,80.49 299.15,80.42 299.40,80.46 299.65,80.55 299.90,80.59 300.15,80.71 300.40,80.87 300.65,80.99 300.90,81.06 301.15,81.01 301.40,80.84 301.65,80.82 301.90,80.86 302.15,80.78 302.40,80.64 302.65,80.56 302.90,80.42 303.15,80.48 303.40,80.79 303.65,81.04 303.90,81.30 304.15,81.28 304.40,81.14 304.65,80.94 304.90,80.75 305.15,80.65 305.40,80.56 305.65,80.43 305.90,80.30 306.15,80.25 306.40,80.25 306.65,80.34 306.90,80.47 307.15,80.55 307.40,80.64 307.65,80.71 307.90,80.72 308.15,80.46 308.40,80.79 308.65,80.46 308.90,80.40 309.15,80.72 309.40,80.76 309.65,80.84 309.90,80.96 310.15,81.05 310.40,81.08 310.65,81.05 310.90,81.02 311.15,80.92 311.40,80.73 311.65,80.55 311.90,80.43 312.15,80.49 312.40,80.69 312.65,80.96 312.90,81.22 313.15,81.36 313.40,81.41 313.65,81.44 313.90,81.45 314.15,81.41 314.40,81.41 314.65,81.37 314.90,81.40 315.15,81.46 315.40,81.51 315.65,81.60 315.90,81.63 316.15,81.53 316.40,81.25 316.65,80.92 316.90,80.53 317.15,79.92 317.40,79.17 317.65,78.57 317.90,78.02 318.15,78.21 318.40,78.93 318.65,79.70 318.90,80.37 319.15,80.70 319.40,80.69 319.65,80.61 319.90,80.47 320.15,80.53 320.40,80.60 320.65,80.67 320.90,80.69 321.15,80.52 321.40,80.12 321.65,79.78 321.90,79.23 322.15,79.22 322.40,79.39 322.65,79.87 322.90,79.95 323.15,80.59 323.40,81.04 323.65,81.51 323.90,81.95 324.15,81.99 324.40,81.81 324.65,81.58 324.90,81.28 325.15,80.77 325.40,81.27 325.65,80.87 325.90,81.37 326.15,81.41 326.40,81.37 326.65,81.34 326.90,81.36 327.15,80.99 327.40,80.38 327.65,79.74 327.90,79.09 328.15,79.01 328.40,79.43 328.65,79.92 328.90,80.43 329.15,80.68 329.40,80.70 329.65,80.69 329.90,80.63 330.15,80.45 330.40,80.80 330.65,80.91 330.90,81.03 331.15,81.03 331.40,80.97 331.65,80.97 331.90,80.92 332.15,81.05 332.40,81.27 332.65,81.45 332.90,81.54 333.15,81.54 333.40,81.44 333.65,81.27 333.90,81.11 334.15,81.13 334.40,81.24 334.65,81.39 334.90,81.58 335.15,81.65 335.40,81.59 335.65,81.43 335.90,81.26 336.15,81.15 336.40,81.05 336.65,81.02 336.90,81.12 337.15,81.00 337.40,80.81 337.65,80.64 337.90,80.36 338.15,80.19 338.40,80.09 338.65,79.90 338.90,79.70 339.15,79.67 339.40,79.76 339.65,79.77 339.90,80.42 340.15,80.52 340.40,81.03 340.65,81.19 340.90,81.22 341.15,80.95 341.40,80.44 341.65,79.88 341.90,79.36 342.15,79.38 342.40,79.72 342.65,79.64 342.90,80.52 343.15,80.92 343.40,81.23 343.65,81.07 343.90,81.73 344.15,81.68 344.40,81.55 344.65,81.42 344.90,81.35 345.15,81.15 345.40,80.92 345.65,80.69 345.90,80.07 346.15,80.13 346.40,80.32 346.65,80.40 346.90,80.84 347.15,80.74 347.40,80.61 347.65,80.51 347.90,80.47 348.15,80.67 348.40,80.91 348.65,81.09 348.90,81.24 349.15,81.26 349.40,81.14 349.65,81.04 349.90,80.91 350.15,80.84 350.40,80.78 350.65,80.74 350.90,80.75 351.15,80.82 351.40,80.81 351.65,80.81 351.90,80.83 352.15,80.74 352.40,80.61 352.65,80.47 352.90,80.36 353.15,80.23 353.40,80.06 353.65,79.91 353.90,79.86 354.15,79.96 354.40,80.04 354.65,80.15 354.90,79.75 355.15,79.77 355.40,80.33 355.65,79.98 355.90,80.62 356.15,80.65 356.40,80.64 356.65,80.63 356.90,80.64 357.15,80.86 357.40,81.12 357.65,81.36 357.90,81.52 358.15,81.48 358.40,81.34 358.65,81.25 358.90,81.14 359.15,81.17 359.40,81.20 359.65,81.21 359.90,81.14 360.15,81.01 360.40,80.69 360.65,80.40 360.90,80.13 361.15,80.03 361.40,80.06 361.65,80.15 361.90,79.86 362.15,80.47 362.40,80.63 362.65,80.75 362.90,80.84 363.15,80.78 363.40,80.66 363.65,80.61 363.90,80.53 364.15,80.75 364.40,81.15 364.65,81.62 364.90,82.04 365.15,82.12 365.40,81.92 365.65,81.64 365.90,81.28 366.15,80.98 366.40,80.66 366.65,80.38 366.90,80.21 367.15,80.28 367.40,80.53 367.65,80.82 367.90,81.08 368.15,81.10 368.40,80.97 368.65,80.81 368.90,80.61 369.15,80.55 369.40,80.57 369.65,80.66 369.90,80.84 370.15,80.97 370.40,81.00 370.65,81.02 370.90,81.06 371.15,80.98 371.40,80.85 371.65,80.76 371.90,80.64 372.15,80.61 372.40,80.61 372.65,80.67 372.90,80.69 373.15,80.93 373.40,81.17 373.65,81.40 373.90,81.61 374.15,81.49 374.40,81.13 374.65,80.90 374.90,80.68 375.15,80.62 375.40,80.72 375.65,80.85 375.90,80.96 376.15,81.01 376.40,80.86 376.65,80.67 376.90,80.48 377.15,80.39 377.40,80.34 377.65,80.31 377.90,80.17 378.15,80.66 378.40,80.85 378.65,81.04 378.90,81.95 379.15,81.67 379.40,81.43 379.65,81.43 379.90,81.06 380.15,80.82 380.40,80.69 380.65,80.66 380.90,80.61 381.15,80.71 381.40,80.75 381.65,80.80 381.90,80.74 382.15,80.64 382.40,80.47 382.65,80.36 382.90,80.27 383.15,80.23 383.40,80.22 383.65,80.31 383.90,80.41 384.15,80.62 384.40,80.86 384.65,81.07 384.90,81.24 385.15,81.34 385.40,81.27 385.65,81.26 385.90,81.34 386.15,81.39 386.40,81.33 386.65,81.41 386.90,81.39 387.15,81.48 387.40,81.53 387.65,81.57 387.90,81.49 388.15,81.45 388.40,81.37 388.65,81.28 388.90,81.25 389.15,81.35 389.40,81.45 389.65,81.51 389.90,81.54 390.15,81.36 390.40,81.06 390.65,80.73 390.90,80.46 391.15,80.25 391.40,80.16 391.65,80.14 391.90,80.25 392.15,80.45 392.40,80.76 392.65,80.94 392.90,81.10 393.15,81.02 393.40,80.78 393.65,80.48 393.90,80.32 394.15,80.35 394.40,80.57 394.65,80.22 394.90,80.17 395.15,80.43 395.40,80.43 395.65,79.55 395.90,77.66 396.15,75.88 396.40,74.20 396.65,72.64 396.90,71.18 397.15,69.83 397.40,68.58 397.65,67.42 397.90,66.36 398.15,63.57 398.40,63.33 398.65,63.08 398.90,62.83 399.15,62.39 399.40,61.85 399.65,61.37 399.90,60.97 400.15,60.63 400.40,60.35 400.65,60.13 400.90,59.97 401.15,59.85 401.40,59.77 401.65,59.73 401.90,59.72 402.15,59.72 402.40,59.74 402.65,59.78 402.90,59.87 403.15,59.99 403.40,60.17 403.65,60.40 403.90,60.69 404.15,61.04 404.40,61.46 404.65,61.95 404.90,62.51 405.15,63.16 405.40,63.82 405.65,64.69 405.90,65.58 406.15,66.57 406.40,67.64 406.65,68.82 406.90,70.09 407.15,71.47 407.40,72.95 407.65,74.53 407.90,76.22 408.15,78.03 408.40,79.95 408.65,80.28 408.90,80.06 409.15,80.07 409.40,80.24 409.65,80.40 409.90,80.57 410.15,80.87 410.40,80.79 410.65,80.68 410.90,80.68 411.15,80.78 411.40,80.89 411.65,81.07 411.90,81.15 412.15,81.18 412.40,81.16 412.65,81.09 412.90,80.95 413.15,80.75 413.40,80.49 413.65,80.33 413.90,80.24 414.15,80.37 414.40,80.62 414.65,80.89 414.90,81.10 415.15,81.05 415.40,80.72 415.65,80.40 415.90,80.11 416.15,80.11 416.40,80.29 416.65,80.56 416.90,80.85 417.15,81.01 417.40,81.10 417.65,81.17 417.90,81.19 418.15,81.18 418.40,81.29 418.65,81.39 418.90,81.54 419.15,81.58 419.40,81.51 419.65,81.34 419.90,81.22 420.15,81.25 420.40,81.38 420.65,81.52 420.90,81.69 421.15,81.52 421.40,81.19 421.65,80.92 421.90,80.67 422.15,80.62 422.40,80.74 422.65,80.84 422.90,80.88 423.15,80.71 423.40,80.46 423.65,79.83 423.90,79.89 424.15,79.87 424.40,80.04 424.65,80.22 424.90,80.46 425.15,80.66 425.40,80.88 425.65,81.07 425.90,80.93 426.15,81.04 426.40,81.46 426.65,81.47 426.90,81.23 427.15,81.59 427.40,81.60 427.65,81.65 427.90,81.69 428.15,81.64 428.40,81.59 428.65,81.52 428.90,81.36 429.15,81.03 429.40,80.55 429.65,80.19 429.90,79.81 430.15,79.93 430.40,80.32 430.65,80.73 430.90,81.11 431.15,81.14 431.40,80.55 431.65,80.34 431.90,80.19 432.15,80.61 432.40,80.81 432.65,81.07 432.90,81.44 433.15,81.40 433.40,81.13 433.65,80.85 433.90,80.57 434.15,80.13 434.40,79.56 434.65,79.00 434.90,78.43 435.15,77.03 435.40,75.56 435.65,74.17 435.90,72.88 436.15,71.68 436.40,70.57 436.65,69.54 436.90,68.61 437.15,67.76 437.40,67.00 437.65,66.32 437.90,65.72 438.15,65.20 438.40,64.76 438.65,64.39 438.90,64.10 439.15,63.88 439.40,63.72 439.65,63.63 439.90,63.59 440.15,63.59 440.40,63.64 440.65,63.75 440.90,63.92 441.15,64.15 441.40,64.46 441.65,64.84 441.90,65.30 442.15,65.83 442.40,66.45 442.65,67.14 442.90,67.92 443.15,68.79 443.40,69.74 443.65,70.78 443.90,71.91 444.15,73.13 444.40,74.44 444.65,75.84 444.90,77.34 445.15,78.93 445.40,79.62 445.65,80.18 445.90,80.74 446.15,80.96 446.40,80.94 446.65,80.93 446.90,80.91 447.15,81.01 447.40,80.81 447.65,80.58 447.90,80.36 448.15,80.31 448.40,80.46 448.65,80.63 448.90,80.81 449.15,80.88 449.40,80.86 449.65,80.78 449.90,80.65 450.15,80.77 450.40,80.96 450.65,81.04 450.90,81.15 451.15,81.15 451.40,81.11 451.65,81.11 451.90,81.18 452.15,81.05 452.40,80.79 452.65,80.53 452.90,80.28 453.15,80.38 453.40,80.71 453.65,81.05 453.90,81.38 454.15,81.44 454.40,81.34 454.65,81.24 454.90,81.21 455.15,81.11 455.40,80.91 455.65,80.68 455.90,80.50 456.15,80.56 456.40,80.86 456.65,81.18 456.90,81.56 457.15,81.56 457.40,81.39 457.65,81.22 457.90,81.12 458.15,81.06 458.40,81.00 458.65,80.86 458.90,80.71 459.15,80.73 459.40,80.98 459.65,81.28 459.90,81.60 460.15,81.55 460.40,81.28 460.65,80.93 460.90,80.63 461.15,80.66 461.40,80.86 461.65,81.00 461.90,81.14 462.15,80.99 462.40,80.72 462.65,80.53 462.90,80.40 463.15,80.54 463.40,80.82 463.65,81.10 463.90,81.28 464.15,81.41 464.40,81.02 464.65,81.44 464.90,81.49 465.15,81.59 465.40,81.64 465.65,81.74 465.90,81.82 466.15,81.90 466.40,81.91 466.65,81.84 466.90,81.72 467.15,81.62 467.40,81.49 467.65,81.37 467.90,81.39 468.15,81.13 468.40,80.68 468.65,80.22 468.90,79.81 469.15,79.85 469.40,80.27 469.65,80.67 469.90,81.07 470.15,81.00 470.40,80.72 470.65,80.48 470.90,80.31 471.15,80.45 471.40,80.86 471.65,81.26 471.90,81.60 472.15,81.70 472.40,81.66 472.65,81.68 472.90,81.69 473.15,81.52 473.40,81.29 473.65,81.11 473.90,80.94 474.15,80.98 474.40,81.18 474.65,81.36 474.90,81.51 475.15,81.35 475.40,81.14 475.65,80.88 475.90,80.67 476.15,80.62 476.40,80.71 476.65,80.81 476.90,80.91 477.15,81.02 477.40,81.14 477.65,81.24 477.90,81.25 478.15,81.06 478.40,80.68 478.65,80.36 478.90,80.08 479.15,80.12 479.40,80.34 479.65,80.67 479.90,80.97 480.15,81.12 480.40,81.11 480.65,81.12 480.90,81.07 481.15,81.09 481.40,81.16 481.65,81.28 481.90,81.52 482.15,81.58 482.40,81.44 482.65,81.28 482.90,81.10 483.15,81.08 483.40,80.92 483.65,81.40 483.90,81.58 484.15,81.55 484.40,81.51 484.65,81.46 484.90,81.45 485.15,81.46 485.40,81.56 485.65,81.54 485.90,81.56 486.15,81.51 486.40,81.45 486.65,81.35 486.90,81.38 487.15,81.30 487.40,81.15 487.65,81.07 487.90,80.96 488.15,81.03 488.40,81.13 488.65,81.18 488.90,81.25 489.15,81.33 489.40,81.33 489.65,81.38 489.90,81.57 490.15,81.65 490.40,81.71 490.65,81.72 490.90,81.72 491.15,81.44 491.40,81.00 491.65,80.55 491.90,80.14 492.15,80.00 492.40,80.20 492.65,80.51 492.90,80.81 493.15,80.81 493.40,80.63 493.65,80.45 493.90,80.17 494.15,80.09 494.40,80.13 494.65,80.14 494.90,80.21 495.15,80.03 495.40,79.67 495.65,79.28 495.90,78.94 496.15,79.24 496.40,79.97 496.65,80.21 496.90,80.87 497.15,81.61 497.40,81.26 497.65,81.76 497.90,81.86 498.15,81.81 498.40,81.69 498.65,81.54 498.90,81.43 499.15,81.41 499.40,81.44 499.65,81.38 499.90,81.11 500.15,81.05 500.40,81.20 500.65,81.01 500.90,81.14 501.15,81.44 501.40,81.50 501.65,81.61 501.90,81.61 502.15,81.40 502.40,81.03 502.65,80.74 502.90,80.46 503.15,80.53 503.40,80.80 503.65,81.12 503.90,81.45 504.15,81.69 504.40,81.83 504.65,81.95 504.90,82.02 505.15,81.90 505.40,81.64 505.65,81.41 505.90,81.25 506.15,81.23 506.40,81.41 506.65,81.60 506.90,81.80 507.15,81.72 507.40,81.57 507.65,81.32 507.90,81.04 508.15,80.87 508.40,80.78 508.65,80.70 508.90,80.69 509.15,80.82 509.40,81.01 509.65,81.30 509.90,81.58 510.15,81.58 510.40,81.41 510.65,81.24 510.90,81.08 511.15,81.04 511.40,81.17 511.65,81.33 511.90,81.57 512.15,81.56 512.40,81.49 512.5,82.70" fill="#e0304f" fill-opacity="0.07"/>
<polygon points="298.9,82.70 298.90,81.14 299.15,80.97 299.40,80.67 299.65,80.42 299.90,80.11 300.15,80.15 300.40,80.40 300.65,80.60 300.90,80.74 301.15,80.62 301.40,80.28 301.65,80.12 301.90,80.02 302.15,80.08 302.40,80.27 302.65,80.54 302.90,80.73 303.15,80.66 303.40,80.55 303.65,80.36 303.90,80.18 304.15,80.16 304.40,80.31 304.65,80.38 304.90,80.47 305.15,80.54 305.40,80.53 305.65,80.46 305.90,80.41 306.15,80.37 306.40,80.35 306.65,80.42 306.90,80.55 307.15,80.76 307.40,81.10 307.65,81.40 307.90,81.63 308.15,81.17 308.40,81.21 308.65,81.14 308.90,81.63 309.15,81.53 309.40,81.37 309.65,81.24 309.90,81.16 310.15,81.24 310.40,81.39 310.65,81.46 310.90,81.54 311.15,81.41 311.40,81.09 311.65,80.79 311.90,80.54 312.15,80.38 312.40,80.31 312.65,80.31 312.90,80.30 313.15,80.30 313.40,80.28 313.65,80.24 313.90,80.17 314.15,80.06 314.40,79.99 314.65,79.87 314.90,79.84 315.15,79.96 315.40,80.14 315.65,80.36 315.90,80.52 316.15,80.59 316.40,80.47 316.65,80.29 316.90,80.04 317.15,79.87 317.40,79.76 317.65,79.81 317.90,79.93 318.15,79.98 318.40,80.01 318.65,80.12 318.90,80.09 319.15,80.00 319.40,79.73 319.65,79.39 319.90,78.97 320.15,78.95 320.40,79.06 320.65,79.16 320.90,79.22 321.15,79.29 321.40,79.25 321.65,79.28 321.90,78.89 322.15,79.51 322.40,79.71 322.65,80.00 322.90,79.91 323.15,80.66 323.40,80.90 323.65,81.17 323.90,81.40 324.15,81.55 324.40,81.70 324.65,81.81 324.90,80.96 325.15,80.68 325.40,80.21 325.65,80.58 325.90,80.11 326.15,80.25 326.40,80.73 326.65,81.22 326.90,81.76 327.15,81.77 327.40,81.45 327.65,81.09 327.90,80.72 328.15,80.58 328.40,80.71 328.65,80.92 328.90,81.15 329.15,81.08 329.40,80.23 329.65,80.36 329.90,79.93 330.15,80.02 330.40,80.42 330.65,80.81 330.90,81.22 331.15,81.34 331.40,81.30 331.65,81.31 331.90,81.28 332.15,81.25 332.40,81.21 332.65,81.13 332.90,80.94 333.15,80.79 333.40,80.62 333.65,80.36 333.90,80.12 334.15,80.08 334.40,80.14 334.65,80.24 334.90,80.39 335.15,80.46 335.40,80.43 335.65,80.29 335.90,80.13 336.15,79.98 336.40,79.79 336.65,79.69 336.90,79.73 337.15,79.70 337.40,79.72 337.65,79.76 337.90,79.68 338.15,79.25 338.40,78.59 338.65,77.84 338.90,77.07 339.15,77.08 339.40,77.62 339.65,78.37 339.90,78.72 340.15,79.25 340.40,79.43 340.65,79.53 340.90,80.00 341.15,80.14 341.40,80.36 341.65,80.51 341.90,80.72 342.15,80.69 342.40,80.45 342.65,80.27 342.90,80.13 343.15,79.39 343.40,79.65 343.65,80.79 343.90,80.93 344.15,80.80 344.40,80.59 344.65,80.39 344.90,80.24 345.15,80.29 345.40,80.51 345.65,80.74 345.90,81.01 346.15,80.25 346.40,81.07 346.65,80.90 346.90,80.66 347.15,80.59 347.40,80.67 347.65,80.79 347.90,80.99 348.15,81.06 348.40,80.91 348.65,80.70 348.90,80.46 349.15,80.47 349.40,80.59 349.65,80.74 349.90,80.84 350.15,80.90 350.40,80.91 350.65,80.93 350.90,81.02 351.15,81.03 351.40,80.86 351.65,80.71 351.90,80.57 352.15,80.59 352.40,80.76 352.65,80.91 352.90,81.09 353.15,81.10 353.40,80.95 353.65,80.84 353.90,80.83 354.15,80.72 354.40,80.42 354.65,80.15 354.90,78.87 355.15,78.81 355.40,79.98 355.65,79.28 355.90,80.53 356.15,80.39 356.40,79.99 356.65,79.61 356.90,79.25 357.15,79.43 357.40,79.85 357.65,80.25 357.90,80.56 358.15,80.49 358.40,80.20 358.65,79.98 358.90,79.74 359.15,79.85 359.40,80.09 359.65,80.32 359.90,80.45 360.15,80.53 360.40,80.40 360.65,80.29 360.90,80.22 361.15,80.15 361.40,80.11 361.65,80.14 361.90,79.38 362.15,80.47 362.40,79.92 362.65,81.00 362.90,81.20 363.15,81.21 363.40,81.12 363.65,81.12 363.90,81.08 364.15,81.00 364.40,80.90 364.65,80.86 364.90,80.76 365.15,80.96 365.40,81.30 365.65,81.55 365.90,81.72 366.15,81.59 366.40,81.25 366.65,80.92 366.90,80.73 367.15,80.61 367.40,80.56 367.65,80.54 367.90,80.50 368.15,80.32 368.40,80.06 368.65,79.76 368.90,79.41 369.15,79.43 369.40,79.66 369.65,79.96 369.90,80.37 370.15,80.48 370.40,80.31 370.65,80.13 370.90,79.96 371.15,80.02 371.40,80.25 371.65,80.52 371.90,80.77 372.15,80.97 372.40,81.14 372.65,81.35 372.90,81.53 373.15,81.37 373.40,80.84 373.65,80.29 373.90,79.72 374.15,79.46 374.40,79.41 374.65,79.51 374.90,79.61 375.15,79.54 375.40,79.42 375.65,79.34 375.90,79.23 376.15,79.37 376.40,79.49 376.65,79.56 376.90,79.65 377.15,79.67 377.40,79.60 377.65,79.13 377.90,79.21 378.15,80.00 378.40,80.54 378.65,81.12 378.90,81.66 379.15,81.19 379.40,81.00 379.65,81.30 379.90,80.95 380.15,80.89 380.40,81.01 380.65,81.25 380.90,81.47 381.15,81.55 381.40,81.36 381.65,81.19 381.90,80.89 382.15,80.77 382.40,80.70 382.65,80.69 382.90,80.72 383.15,80.41 383.40,79.87 383.65,79.46 383.90,79.05 384.15,79.09 384.40,79.39 384.65,79.66 384.90,79.88 385.15,79.83 385.40,79.47 385.65,79.16 385.90,78.95 386.15,79.10 386.40,79.37 386.65,79.80 386.90,80.12 387.15,80.38 387.40,80.48 387.65,80.57 387.90,80.52 388.15,80.57 388.40,80.60 388.65,80.62 388.90,80.72 389.15,80.88 389.40,80.99 389.65,81.06 389.90,81.09 390.15,80.86 390.40,80.47 390.65,80.05 390.90,79.69 391.15,79.49 391.40,79.47 391.65,79.54 391.90,79.76 392.15,80.11 392.40,80.60 392.65,80.95 392.90,81.27 393.15,81.17 393.40,80.79 393.65,80.35 393.90,80.06 394.15,80.17 394.40,80.62 394.65,80.18 394.90,80.33 395.15,80.66 395.40,79.69 395.65,79.78 395.90,79.33 396.15,77.17 396.40,75.02 396.65,73.01 396.90,71.13 397.15,69.39 397.40,67.78 397.65,66.29 397.90,64.24 398.15,59.97 398.40,60.32 398.65,60.66 398.90,60.63 399.15,59.83 399.40,59.12 399.65,58.51 399.90,57.99 400.15,57.55 400.40,57.20 400.65,56.92 400.90,56.70 401.15,56.55 401.40,56.46 401.65,56.40 401.90,56.39 402.15,56.39 402.40,56.41 402.65,56.47 402.90,56.58 403.15,56.74 403.40,56.97 403.65,57.26 403.90,57.63 404.15,58.09 404.40,58.63 404.65,59.26 404.90,59.85 405.15,59.71 405.40,59.68 405.65,62.78 405.90,63.93 406.15,65.19 406.40,66.58 406.65,68.09 406.90,69.73 407.15,71.50 407.40,73.40 407.65,75.44 407.90,77.61 408.15,79.93 408.40,79.98 408.65,79.69 408.90,79.33 409.15,79.22 409.40,79.28 409.65,79.34 409.90,79.40 410.15,79.95 410.40,80.31 410.65,80.64 410.90,81.08 411.15,81.12 411.40,80.81 411.65,80.57 411.90,80.24 412.15,80.02 412.40,79.85 412.65,79.63 412.90,79.34 413.15,79.29 413.40,79.39 413.65,79.61 413.90,79.90 414.15,80.17 414.40,80.39 414.65,80.63 414.90,80.81 415.15,80.70 415.40,80.29 415.65,79.89 415.90,79.51 416.15,79.44 416.40,79.55 416.65,79.76 416.90,79.99 417.15,80.30 417.40,80.69 417.65,81.05 417.90,81.35 418.15,81.38 418.40,81.41 418.65,81.42 418.90,81.50 419.15,81.61 419.40,81.70 419.65,81.69 419.90,81.73 420.15,81.71 420.40,81.65 420.65,81.60 420.90,81.59 421.15,81.39 421.40,81.17 421.65,81.01 421.90,80.87 422.15,80.93 422.40,81.16 422.65,81.36 422.90,81.50 423.15,80.55 423.40,79.98 423.65,79.96 423.90,78.78 424.15,78.72 424.40,79.68 424.65,80.02 424.90,80.44 425.15,80.64 425.40,80.73 425.65,80.81 425.90,80.21 426.15,80.36 426.40,81.26 426.65,80.72 426.90,81.64 427.15,81.67 427.40,81.59 427.65,81.56 427.90,81.51 428.15,81.30 428.40,81.06 428.65,80.80 428.90,80.44 429.15,80.38 429.40,80.49 429.65,80.72 429.90,80.94 430.15,81.13 430.40,81.23 430.65,81.35 430.90,81.44 431.15,81.18 431.40,79.89 431.65,79.38 431.90,79.72 432.15,79.74 432.40,80.13 432.65,80.59 432.90,81.17 433.15,81.06 433.40,80.52 433.65,79.98 433.90,79.44 434.15,78.99 434.40,78.59 434.65,78.20 434.90,77.80 435.15,77.49 435.40,76.36 435.65,74.44 435.90,72.66 436.15,71.00 436.40,69.47 436.65,68.05 436.90,66.76 437.15,65.59 437.40,64.54 437.65,63.60 437.90,62.77 438.15,62.05 438.40,61.44 438.65,60.94 438.90,60.54 439.15,60.23 439.40,60.01 439.65,59.88 439.90,59.83 440.15,59.83 440.40,59.90 440.65,60.05 440.90,60.28 441.15,60.61 441.40,61.03 441.65,61.56 441.90,62.19 442.15,62.93 442.40,63.78 442.65,64.74 442.90,65.82 443.15,67.01 443.40,68.33 443.65,69.76 443.90,71.32 444.15,73.01 444.40,74.82 444.65,76.75 444.90,78.09 445.15,78.38 445.40,78.69 445.65,79.01 445.90,79.32 446.15,79.64 446.40,79.95 446.65,80.27 446.90,80.59 447.15,81.05 447.40,81.19 447.65,81.30 447.90,81.41 448.15,81.15 448.40,80.73 448.65,80.33 448.90,79.95 449.15,79.96 449.40,80.20 449.65,80.38 449.90,80.51 450.15,80.65 450.40,80.66 450.65,80.58 450.90,80.50 451.15,80.39 451.40,80.29 451.65,80.21 451.90,80.22 452.15,80.41 452.40,80.72 452.65,81.02 452.90,81.33 453.15,81.38 453.40,81.26 453.65,81.14 453.90,81.01 454.15,80.81 454.40,80.56 454.65,80.31 454.90,80.15 455.15,80.22 455.40,80.41 455.65,80.56 455.90,80.77 456.15,80.65 456.40,80.42 456.65,80.21 456.90,80.07 457.15,79.98 457.40,80.02 457.65,80.07 457.90,80.19 458.15,80.22 458.40,80.14 458.65,79.97 458.90,79.79 459.15,79.74 459.40,79.89 459.65,80.11 459.90,80.34 460.15,80.53 460.40,80.69 460.65,80.78 460.90,80.93 461.15,80.89 461.40,80.68 461.65,80.40 461.90,80.13 462.15,79.85 462.40,79.67 462.65,79.57 462.90,79.54 463.15,79.71 463.40,79.96 463.65,80.21 463.90,80.34 464.15,80.58 464.40,80.78 464.65,80.22 464.90,80.46 465.15,80.46 465.40,80.99 465.65,80.78 465.90,80.55 466.15,80.60 466.40,80.77 466.65,80.84 466.90,80.86 467.15,80.84 467.40,80.77 467.65,80.72 467.90,80.81 468.15,80.66 468.40,80.34 468.65,80.00 468.90,79.71 469.15,79.63 469.40,79.77 469.65,79.89 469.90,80.01 470.15,79.89 470.40,79.75 470.65,79.65 470.90,79.62 471.15,79.70 471.40,79.92 471.65,80.12 471.90,80.27 472.15,80.36 472.40,80.46 472.65,80.61 472.90,80.76 473.15,80.53 473.40,80.13 473.65,79.77 473.90,79.43 474.15,79.48 474.40,79.82 474.65,80.14 474.90,80.43 475.15,80.63 475.40,80.95 475.65,81.22 475.90,81.55 476.15,81.32 476.40,80.77 476.65,80.24 476.90,79.70 477.15,79.78 477.40,80.27 477.65,80.74 477.90,81.10 478.15,81.12 478.40,80.85 478.65,80.65 478.90,80.49 479.15,80.27 479.40,79.98 479.65,79.81 479.90,79.60 480.15,79.61 480.40,79.69 480.65,79.77 480.90,79.80 481.15,79.81 481.40,79.81 481.65,79.87 481.90,80.06 482.15,80.43 482.40,80.82 482.65,81.19 482.90,81.54 483.15,81.35 483.40,80.86 483.65,79.79 483.90,79.33 484.15,79.09 484.40,79.72 484.65,79.75 484.90,79.80 485.15,79.86 485.40,79.99 485.65,79.98 485.90,80.02 486.15,79.99 486.40,79.96 486.65,79.88 486.90,79.96 487.15,80.23 487.40,80.63 487.65,81.12 487.90,81.57 488.15,81.71 488.40,81.54 488.65,81.31 488.90,81.10 489.15,80.85 489.40,80.49 489.65,80.18 489.90,80.02 490.15,79.77 490.40,79.52 490.65,79.20 490.90,78.88 491.15,78.86 491.40,79.07 491.65,79.27 491.90,79.51 492.15,79.49 492.40,79.47 492.65,79.57 492.90,79.67 493.15,79.75 493.40,79.84 493.65,79.93 493.90,79.91 494.15,80.03 494.40,80.21 494.65,80.36 494.90,80.58 495.15,80.72 495.40,80.80 495.65,80.86 495.90,80.97 496.15,81.12 496.40,81.31 496.65,81.45 496.90,80.69 497.15,80.70 497.40,80.70 497.65,80.64 497.90,81.54 498.15,81.40 498.40,81.19 498.65,80.95 498.90,80.77 499.15,80.84 499.40,81.07 499.65,81.19 499.90,80.90 500.15,81.21 500.40,80.94 500.65,80.76 500.90,80.70 501.15,80.72 501.40,80.81 501.65,80.95 501.90,80.97 502.15,80.72 502.40,80.29 502.65,79.94 502.90,79.60 503.15,79.63 503.40,79.87 503.65,80.16 503.90,80.46 504.15,80.59 504.40,80.56 504.65,80.51 504.90,80.41 505.15,80.32 505.40,80.24 505.65,80.18 505.90,80.20 506.15,80.22 506.40,80.35 506.65,80.11 506.90,80.64 507.15,80.72 507.40,80.88 507.65,80.93 507.90,80.94 508.15,80.73 508.40,80.36 508.65,80.02 508.90,79.75 509.15,79.85 509.40,80.13 509.65,80.53 509.90,80.93 510.15,81.06 510.40,81.07 510.65,81.07 510.90,81.08 511.15,81.00 511.40,80.95 511.65,80.94 511.90,81.02 512.15,80.87 512.40,80.68 512.5,82.70" fill="#e0304f" fill-opacity="0.07"/>
<polygon points="298.9,82.70 298.90,79.72 299.15,80.00 299.40,80.28 299.65,80.61 299.90,80.88 300.15,81.05 300.40,81.15 300.65,81.19 300.90,81.16 301.15,80.73 301.40,80.01 301.65,79.47 301.90,79.00 302.15,79.13 302.40,79.68 302.65,80.31 302.90,80.86 303.15,80.93 303.40,80.82 303.65,80.62 303.90,80.44 304.15,80.39 304.40,80.49 304.65,80.50 304.90,80.54 305.15,80.50 305.40,80.32 305.65,80.10 305.90,79.88 306.15,79.95 306.40,80.22 306.65,80.60 306.90,81.04 307.15,80.94 307.40,80.56 307.65,80.15 307.90,79.66 308.15,78.96 308.40,79.54 308.65,80.02 308.90,81.32 309.15,81.47 309.40,81.36 309.65,81.28 309.90,81.26 310.15,81.20 310.40,81.07 310.65,80.85 310.90,80.64 311.15,80.50 311.40,80.36 311.65,80.24 311.90,80.17 312.15,80.22 312.40,80.37 312.65,80.60 312.90,80.81 313.15,80.97 313.40,81.05 313.65,81.11 313.90,81.14 314.15,80.87 314.40,80.49 314.65,80.06 314.90,79.72 315.15,79.75 315.40,79.98 315.65,80.26 315.90,80.47 316.15,80.51 316.40,80.30 316.65,80.03 316.90,79.69 317.15,79.34 317.40,78.99 317.65,78.84 317.90,78.75 318.15,78.73 318.40,78.79 318.65,78.92 318.90,78.91 319.15,78.94 319.40,78.86 319.65,78.70 319.90,78.44 320.15,78.79 320.40,79.37 320.65,79.95 320.90,80.48 321.15,80.51 321.40,80.08 321.65,79.72 321.90,79.39 322.15,78.39 322.40,78.73 322.65,77.79 322.90,78.30 323.15,78.50 323.40,78.90 323.65,79.34 323.90,79.74 324.15,79.91 324.40,79.99 324.65,80.03 324.90,79.96 325.15,78.81 325.40,80.41 325.65,79.37 325.90,80.98 326.15,81.25 326.40,81.45 326.65,81.66 326.90,81.93 327.15,81.86 327.40,81.60 327.65,81.28 327.90,80.96 328.15,80.50 328.40,80.09 328.65,79.77 328.90,79.47 329.15,79.41 329.40,79.41 329.65,79.38 329.90,79.29 330.15,79.26 330.40,79.23 330.65,79.18 330.90,79.16 331.15,79.16 331.40,79.20 331.65,79.30 331.90,79.35 332.15,79.78 332.40,80.43 332.65,81.03 332.90,81.52 333.15,81.63 333.40,81.45 333.65,81.15 333.90,80.89 334.15,80.67 334.40,80.44 334.65,80.26 334.90,80.14 335.15,80.35 335.40,80.72 335.65,80.97 335.90,81.21 336.15,80.95 336.40,80.32 336.65,79.78 336.90,79.40 337.15,78.95 337.40,78.55 337.65,78.18 337.90,77.67 338.15,77.90 338.40,78.64 338.65,79.27 338.90,79.89 339.15,79.76 339.40,79.14 339.65,77.96 339.90,78.51 340.15,78.70 340.40,78.25 340.65,79.30 340.90,79.37 341.15,79.68 341.40,80.06 341.65,80.38 341.90,80.76 342.15,80.87 342.40,80.75 342.65,79.33 342.90,80.67 343.15,80.66 343.40,80.56 343.65,79.08 343.90,80.18 344.15,80.15 344.40,80.36 344.65,80.59 344.90,80.88 345.15,80.71 345.40,80.30 345.65,79.89 345.90,79.53 346.15,78.30 346.40,79.88 346.65,78.74 346.90,80.10 347.15,80.01 347.40,79.87 347.65,79.76 347.90,79.74 348.15,80.15 348.40,80.70 348.65,81.17 348.90,81.61 349.15,81.60 349.40,81.20 349.65,80.83 349.90,80.42 350.15,80.11 350.40,79.84 350.65,79.58 350.90,79.40 351.15,79.75 351.40,80.29 351.65,80.86 351.90,81.44 352.15,81.52 352.40,81.30 352.65,81.08 352.90,80.88 353.15,80.51 353.40,79.98 353.65,79.48 353.90,79.09 354.15,79.37 354.40,79.95 354.65,80.56 354.90,79.67 355.15,80.86 355.40,80.13 355.65,78.03 355.90,78.86 356.15,78.87 356.40,79.35 356.65,79.85 356.90,80.38 357.15,80.80 357.40,81.04 357.65,81.25 357.90,81.36 358.15,81.23 358.40,80.96 358.65,80.76 358.90,80.54 359.15,80.45 359.40,80.33 359.65,80.19 359.90,79.96 360.15,80.00 360.40,80.04 360.65,80.11 360.90,80.21 361.15,80.03 361.40,79.69 361.65,79.42 361.90,77.95 362.15,78.37 362.40,80.33 362.65,81.02 362.90,81.65 363.15,81.69 363.40,81.36 363.65,81.12 363.90,80.85 364.15,80.70 364.40,80.62 364.65,80.62 364.90,80.55 365.15,80.38 365.40,80.07 365.65,79.66 365.90,79.16 366.15,78.90 366.40,78.78 366.65,78.68 366.90,78.74 367.15,78.59 367.40,78.34 367.65,78.13 367.90,77.89 368.15,78.06 368.40,78.49 368.65,78.88 368.90,79.22 369.15,79.51 369.40,79.73 369.65,80.03 369.90,80.45 370.15,80.77 370.40,80.92 370.65,81.07 370.90,81.23 371.15,81.15 371.40,80.93 371.65,80.75 371.90,80.56 372.15,79.97 372.40,79.12 372.65,78.32 372.90,77.48 373.15,77.57 373.40,78.12 373.65,78.64 373.90,79.14 374.15,79.14 374.40,78.80 374.65,78.62 374.90,78.45 375.15,78.45 375.40,78.65 375.65,78.89 375.90,79.10 376.15,79.51 376.40,79.86 376.65,80.15 376.90,80.45 377.15,80.32 377.40,79.87 377.65,79.46 377.90,79.17 378.15,79.21 378.40,78.06 378.65,79.17 378.90,80.14 379.15,80.16 379.40,80.10 379.65,80.02 379.90,79.79 380.15,79.77 380.40,79.89 380.65,80.14 380.90,80.37 381.15,80.68 381.40,80.86 381.65,81.05 381.90,81.11 382.15,80.99 382.40,80.71 382.65,80.49 382.90,80.31 383.15,80.24 383.40,80.23 383.65,80.35 383.90,80.50 384.15,80.33 384.40,79.93 384.65,79.49 384.90,78.99 385.15,79.05 385.40,79.35 385.65,79.71 385.90,80.18 386.15,80.54 386.40,80.72 386.65,81.07 386.90,81.30 387.15,81.12 387.40,80.55 387.65,79.95 387.90,79.20 388.15,79.18 388.40,79.54 388.65,79.89 388.90,80.31 389.15,80.50 389.40,80.40 389.65,80.25 389.90,80.05 390.15,79.98 390.40,79.99 390.65,79.96 390.90,80.02 391.15,79.93 391.40,79.84 391.65,79.85 391.90,80.02 392.15,80.04 392.40,80.00 392.65,79.82 392.90,79.59 393.15,79.39 393.40,79.21 393.65,78.95 393.90,78.87 394.15,78.85 394.40,78.96 394.65,78.67 394.90,77.66 395.15,77.79 395.40,78.95 395.65,79.32 395.90,79.69 396.15,79.48 396.40,76.75 396.65,74.19 396.90,71.81 397.15,69.59 397.40,67.54 397.65,65.66 397.90,63.31 398.15,58.44 398.40,58.38 398.65,58.33 398.90,58.28 399.15,57.43 399.40,56.53 399.65,55.76 399.90,55.09 400.15,54.54 400.40,54.09 400.65,53.73 400.90,53.46 401.15,53.27 401.40,53.14 401.65,53.08 401.90,53.05 402.15,53.06 402.40,53.08 402.65,53.16 402.90,53.30 403.15,53.51 403.40,53.79 403.65,54.17 403.90,54.64 404.15,55.22 404.40,55.90 404.65,56.70 404.90,57.63 405.15,58.44 405.40,57.97 405.65,61.18 405.90,62.64 406.15,64.26 406.40,66.02 406.65,67.94 406.90,70.02 407.15,72.27 407.40,74.69 407.65,77.28 407.90,77.51 408.15,77.95 408.40,78.86 408.65,79.66 408.90,80.39 409.15,80.39 409.40,79.92 409.65,79.44 409.90,78.96 410.15,79.47 410.40,80.02 410.65,80.55 410.90,81.21 411.15,81.39 411.40,81.16 411.65,81.02 411.90,80.76 412.15,80.51 412.40,80.24 412.65,79.92 412.90,79.51 413.15,79.40 413.40,79.47 413.65,79.68 413.90,79.97 414.15,79.97 414.40,79.73 414.65,79.51 414.90,79.22 415.15,79.30 415.40,79.48 415.65,79.68 415.90,79.90 416.15,80.08 416.40,80.20 416.65,80.44 416.90,80.69 417.15,80.46 417.40,79.94 417.65,79.38 417.90,78.76 418.15,78.77 418.40,79.39 418.65,79.99 418.90,80.66 419.15,80.94 419.40,80.92 419.65,80.78 419.90,80.70 420.15,80.21 420.40,79.45 420.65,78.70 420.90,77.99 421.15,77.96 421.40,78.49 421.65,79.09 421.90,79.71 422.15,80.19 422.40,80.62 422.65,81.01 422.90,81.33 423.15,80.09 423.40,79.44 423.65,78.71 423.90,78.07 424.15,78.06 424.40,79.46 424.65,79.94 424.90,80.50 425.15,80.76 425.40,80.86 425.65,80.92 425.90,81.00 426.15,81.09 426.40,80.22 426.65,80.26 426.90,80.42 427.15,81.38 427.40,81.24 427.65,81.15 427.90,81.06 428.15,80.86 428.40,80.70 428.65,80.52 428.90,80.22 429.15,80.00 429.40,79.81 429.65,79.75 429.90,79.68 430.15,79.85 430.40,80.11 430.65,80.39 430.90,80.64 431.15,80.70 431.40,79.44 431.65,79.35 431.90,80.52 432.15,80.27 432.40,79.93 432.65,79.67 432.90,79.54 433.15,79.51 433.40,79.58 433.65,79.64 433.90,79.71 434.15,79.27 434.40,78.50 434.65,77.73 434.90,76.95 435.15,76.77 435.40,76.97 435.65,75.88 435.90,73.46 436.15,71.21 436.40,69.13 436.65,67.22 436.90,65.47 437.15,63.88 437.40,62.45 437.65,61.18 437.90,60.06 438.15,59.08 438.40,58.26 438.65,57.57 438.90,57.03 439.15,56.61 439.40,56.32 439.65,56.14 439.90,56.07 440.15,56.07 440.40,56.17 440.65,56.37 440.90,56.68 441.15,57.12 441.40,57.70 441.65,58.41 441.90,59.27 442.15,60.27 442.40,61.42 442.65,62.72 442.90,64.19 443.15,65.81 443.40,67.59 443.65,69.54 443.90,71.65 444.15,73.93 444.40,76.39 444.65,76.70 444.90,76.85 445.15,77.41 445.40,78.26 445.65,79.11 445.90,79.95 446.15,80.12 446.40,79.84 446.65,79.56 446.90,79.28 447.15,79.34 447.40,79.17 447.65,78.96 447.90,78.76 448.15,78.94 448.40,79.49 448.65,80.06 448.90,80.65 449.15,80.88 449.40,80.86 449.65,80.76 449.90,80.61 450.15,80.67 450.40,80.74 450.65,80.69 450.90,80.65 451.15,80.48 451.40,80.24 451.65,80.03 451.90,79.93 452.15,79.74 452.40,79.50 452.65,79.25 452.90,79.02 453.15,78.97 453.40,79.06 453.65,79.15 453.90,79.22 454.15,79.30 454.40,79.38 454.65,79.47 454.90,79.65 455.15,79.67 455.40,79.53 455.65,79.35 455.90,79.23 456.15,79.23 456.40,79.41 456.65,79.62 456.90,79.90 457.15,79.86 457.40,79.70 457.65,79.56 457.90,79.49 458.15,79.66 458.40,79.92 458.65,80.08 458.90,80.24 459.15,80.32 459.40,80.49 459.65,80.74 459.90,81.00 460.15,81.04 460.40,80.95 460.65,80.76 460.90,80.64 461.15,80.69 461.40,80.79 461.65,80.83 461.90,80.86 462.15,80.55 462.40,80.13 462.65,79.79 462.90,79.54 463.15,79.40 463.40,79.30 463.65,79.19 463.90,78.95 464.15,79.06 464.40,79.27 464.65,78.33 464.90,79.78 465.15,78.69 465.40,79.75 465.65,79.69 465.90,79.60 466.15,79.87 466.40,80.31 466.65,80.62 466.90,80.89 467.15,80.65 467.40,80.03 467.65,79.42 467.90,78.98 468.15,79.06 468.40,79.48 468.65,79.88 468.90,80.34 469.15,80.23 469.40,79.83 469.65,79.40 469.90,78.97 470.15,78.78 470.40,78.89 470.65,79.06 470.90,79.29 471.15,79.54 471.40,79.87 471.65,80.19 471.90,80.44 472.15,80.29 472.40,79.92 472.65,79.61 472.90,79.30 473.15,79.16 473.40,79.24 473.65,79.37 473.90,79.52 474.15,79.63 474.40,79.77 474.65,79.88 474.90,79.97 475.15,80.08 475.40,80.42 475.65,80.70 475.90,81.04 476.15,80.81 476.40,80.25 476.65,79.70 476.90,79.15 477.15,79.32 477.40,79.97 477.65,80.60 477.90,81.11 478.15,80.40 478.40,78.80 478.65,77.28 478.90,75.80 479.15,76.00 479.40,77.27 479.65,78.68 479.90,80.04 480.15,80.69 480.40,80.78 480.65,80.89 480.90,80.92 481.15,80.70 481.40,80.31 481.65,80.00 481.90,79.82 482.15,80.06 482.40,80.45 482.65,80.82 482.90,81.18 483.15,80.11 483.40,79.70 483.65,79.33 483.90,78.96 484.15,78.43 484.40,78.87 484.65,78.39 484.90,77.94 485.15,78.00 485.40,78.47 485.65,78.79 485.90,79.16 486.15,79.54 486.40,79.97 486.65,80.36 486.90,80.92 487.15,81.11 487.40,81.07 487.65,81.13 487.90,81.14 488.15,80.86 488.40,80.27 488.65,79.61 488.90,78.98 489.15,79.06 489.40,79.53 489.65,80.06 489.90,80.76 490.15,81.16 490.40,81.43 490.65,81.63 490.90,81.83 491.15,81.73 491.40,81.46 491.65,81.18 491.90,80.96 492.15,80.62 492.40,80.41 492.65,80.34 492.90,80.26 493.15,80.31 493.40,80.50 493.65,80.68 493.90,80.72 494.15,80.59 494.40,80.31 494.65,79.99 494.90,79.74 495.15,79.81 495.40,80.07 495.65,80.31 495.90,80.60 496.15,80.53 496.40,80.25 496.65,78.58 496.90,79.54 497.15,78.31 497.40,78.76 497.65,80.50 497.90,80.97 498.15,80.91 498.40,80.53 498.65,80.11 498.90,79.75 499.15,79.88 499.40,80.30 499.65,80.62 499.90,80.30 500.15,80.32 500.40,80.15 500.65,80.72 500.90,80.14 501.15,80.92 501.40,81.12 501.65,81.38 501.90,81.50 502.15,81.31 502.40,80.89 502.65,80.56 502.90,80.25 503.15,79.88 503.40,79.42 503.65,79.03 503.90,78.64 504.15,78.80 504.40,79.27 504.65,79.71 504.90,80.10 505.15,80.23 505.40,80.18 505.65,80.15 505.90,80.22 506.15,80.04 506.40,79.24 506.65,79.03 506.90,79.41 507.15,79.39 507.40,79.63 507.65,79.74 507.90,79.82 508.15,79.92 508.40,80.02 508.65,80.15 508.90,80.37 509.15,80.20 509.40,79.71 509.65,79.36 509.90,79.00 510.15,79.06 510.40,79.44 510.65,79.80 510.90,80.18 511.15,80.37 511.40,80.54 511.65,80.75 511.90,81.05 512.15,81.18 512.40,81.33 512.5,82.70" fill="#e0304f" fill-opacity="0.07"/>
<polygon points="298.9,82.70 298.90,80.51 299.15,80.42 299.40,80.18 299.65,80.00 299.90,79.74 300.15,79.72 300.40,79.83 300.65,79.89 300.90,79.87 301.15,79.60 301.40,79.11 301.65,78.83 301.90,78.63 302.15,78.82 302.40,79.30 302.65,79.87 302.90,80.35 303.15,80.23 303.40,79.87 303.65,79.42 303.90,78.99 304.15,78.89 304.40,79.08 304.65,79.17 304.90,79.28 305.15,79.65 305.40,80.10 305.65,80.49 305.90,80.89 306.15,80.86 306.40,80.53 306.65,80.31 306.90,80.17 307.15,80.12 307.40,80.21 307.65,80.26 307.90,80.23 308.15,79.74 308.40,78.94 308.65,76.89 308.90,77.08 309.15,76.12 309.40,78.09 309.65,78.98 309.90,79.93 310.15,80.18 310.40,79.92 310.65,79.57 310.90,79.22 311.15,79.19 311.40,79.33 311.65,79.48 311.90,79.70 312.15,79.76 312.40,79.75 312.65,79.82 312.90,79.88 313.15,79.89 313.40,79.83 313.65,79.74 313.90,79.62 314.15,79.41 314.40,79.22 314.65,78.98 314.90,78.84 315.15,78.63 315.40,78.33 315.65,78.08 315.90,77.75 316.15,77.90 316.40,78.21 316.65,78.46 316.90,78.62 317.15,78.40 317.40,77.91 317.65,77.64 317.90,77.44 318.15,77.76 318.40,78.47 318.65,79.26 318.90,79.90 319.15,79.99 319.40,79.56 319.65,79.03 319.90,78.41 320.15,78.63 320.40,79.21 320.65,79.79 320.90,80.32 321.15,80.21 321.40,79.54 321.65,78.95 321.90,78.40 322.15,77.28 322.40,78.14 322.65,78.21 322.90,78.37 323.15,78.74 323.40,79.22 323.65,79.73 323.90,80.19 324.15,80.28 324.40,80.19 324.65,80.05 324.90,79.79 325.15,77.96 325.40,79.69 325.65,79.64 325.90,79.65 326.15,79.59 326.40,79.43 326.65,79.29 326.90,79.20 327.15,79.42 327.40,79.88 327.65,80.28 327.90,80.67 328.15,79.99 328.40,78.75 328.65,77.60 328.90,76.48 329.15,76.82 329.40,78.03 329.65,78.21 329.90,79.32 330.15,80.75 330.40,80.66 330.65,80.56 330.90,80.49 331.15,80.20 331.40,79.80 331.65,79.47 331.90,79.08 332.15,79.20 332.40,79.64 332.65,80.02 332.90,80.27 333.15,80.61 333.40,80.94 333.65,81.16 333.90,81.41 334.15,81.11 334.40,80.41 334.65,79.76 334.90,79.17 335.15,78.97 335.40,78.95 335.65,78.80 335.90,78.63 336.15,78.81 336.40,79.17 336.65,79.64 336.90,80.28 337.15,80.36 337.40,80.17 337.65,80.02 337.90,79.71 338.15,79.48 338.40,79.31 338.65,79.01 338.90,78.70 339.15,78.43 339.40,78.20 339.65,78.22 339.90,77.35 340.15,77.68 340.40,79.02 340.65,79.21 340.90,79.19 341.15,79.11 341.40,78.90 341.65,78.62 341.90,78.41 342.15,78.83 342.40,79.61 342.65,78.65 342.90,81.35 343.15,79.72 343.40,79.29 343.65,78.83 343.90,80.04 344.15,79.59 344.40,79.35 344.65,79.14 344.90,78.98 345.15,79.13 345.40,79.55 345.65,78.26 345.90,78.74 346.15,80.74 346.40,80.85 346.65,79.08 346.90,80.66 347.15,80.27 347.40,79.77 347.65,79.31 347.90,78.95 348.15,79.18 348.40,79.67 348.65,80.07 348.90,80.43 349.15,80.56 349.40,80.44 349.65,80.35 349.90,80.22 350.15,80.34 350.40,80.59 350.65,80.86 350.90,81.22 351.15,80.68 351.40,79.37 351.65,78.08 351.90,76.81 352.15,76.96 352.40,78.10 352.65,79.23 352.90,80.40 353.15,80.82 353.40,80.71 353.65,80.63 353.90,80.68 354.15,80.58 354.40,80.22 354.65,77.95 354.90,79.54 355.15,77.29 355.40,77.16 355.65,77.12 355.90,79.05 356.15,79.04 356.40,79.08 356.65,79.13 356.90,79.22 357.15,79.63 357.40,80.12 357.65,80.57 357.90,80.92 358.15,81.01 358.40,80.95 358.65,80.98 358.90,80.98 359.15,81.04 359.40,81.03 359.65,81.00 359.90,80.85 360.15,80.87 360.40,80.79 360.65,80.75 360.90,80.74 361.15,80.31 361.40,79.62 361.65,79.01 361.90,76.80 362.15,76.88 362.40,77.27 362.65,77.61 362.90,79.56 363.15,79.45 363.40,79.11 363.65,78.89 363.90,78.62 364.15,78.96 364.40,79.71 364.65,80.55 364.90,81.31 365.15,80.93 365.40,79.73 365.65,78.42 365.90,77.00 366.15,76.99 366.40,77.88 366.65,78.79 366.90,79.87 367.15,80.16 367.40,79.96 367.65,79.80 367.90,79.61 368.15,79.51 368.40,79.47 368.65,79.38 368.90,79.24 369.15,78.97 369.40,78.60 369.65,78.30 369.90,78.15 370.15,78.28 370.40,78.50 370.65,78.72 370.90,78.95 371.15,79.03 371.40,79.03 371.65,79.08 371.90,79.12 372.15,79.05 372.40,78.91 372.65,78.83 372.90,78.70 373.15,78.85 373.40,78.98 373.65,79.09 373.90,79.17 374.15,79.03 374.40,78.74 374.65,78.62 374.90,78.52 375.15,78.53 375.40,78.72 375.65,78.95 375.90,79.14 376.15,79.43 376.40,79.57 376.65,79.64 376.90,79.72 377.15,79.93 377.40,80.17 377.65,80.46 377.90,80.00 378.15,80.25 378.40,80.41 378.65,81.51 378.90,81.68 379.15,80.19 379.40,79.42 379.65,79.66 379.90,78.70 380.15,78.52 380.40,78.87 380.65,79.36 380.90,79.83 381.15,80.27 381.40,80.50 381.65,80.75 381.90,80.84 382.15,80.67 382.40,80.27 382.65,79.95 382.90,79.66 383.15,79.73 383.40,80.01 383.65,80.46 383.90,80.91 384.15,80.76 384.40,80.14 384.65,79.49 384.90,78.77 385.15,78.66 385.40,78.78 385.65,78.97 385.90,79.28 386.15,79.75 386.40,80.19 386.65,80.83 386.90,81.33 387.15,81.22 387.40,80.57 387.65,79.90 387.90,79.05 388.15,79.08 388.40,79.60 388.65,80.09 388.90,80.68 389.15,81.09 389.40,81.24 389.65,81.34 389.90,81.39 390.15,80.72 390.40,79.60 390.65,78.43 390.90,77.35 391.15,76.87 391.40,76.90 391.65,77.04 391.90,77.35 392.15,78.09 392.40,79.18 392.65,80.09 392.90,80.97 393.15,81.09 393.40,80.70 393.65,80.23 393.90,79.95 394.15,79.70 394.40,79.55 394.65,78.96 394.90,77.38 395.15,78.06 395.40,77.76 395.65,77.46 395.90,77.16 396.15,77.27 396.40,77.64 396.65,76.43 396.90,73.41 397.15,70.62 397.40,68.03 397.65,65.64 397.90,62.21 398.15,56.41 398.40,55.80 398.65,55.19 398.90,54.58 399.15,54.18 399.40,53.92 399.65,53.13 399.90,52.30 400.15,51.60 400.40,51.03 400.65,50.57 400.90,50.23 401.15,49.99 401.40,49.83 401.65,49.75 401.90,49.72 402.15,49.72 402.40,49.76 402.65,49.86 402.90,50.03 403.15,50.29 403.40,50.66 403.65,51.13 403.90,51.73 404.15,52.45 404.40,53.32 404.65,54.33 404.90,55.50 405.15,56.23 405.40,56.08 405.65,59.99 405.90,61.84 406.15,63.87 406.40,66.10 406.65,67.48 406.90,71.16 407.15,74.00 407.40,76.63 407.65,78.07 407.90,79.02 408.15,79.20 408.40,78.86 408.65,78.41 408.90,77.87 409.15,77.91 409.40,78.35 409.65,78.80 409.90,79.24 410.15,80.03 410.40,80.39 410.65,80.73 410.90,81.21 411.15,81.47 411.40,81.49 411.65,81.60 411.90,81.59 412.15,81.30 412.40,80.78 412.65,80.20 412.90,79.53 413.15,79.28 413.40,79.30 413.65,79.46 413.90,79.72 414.15,79.94 414.40,80.10 414.65,80.27 414.90,80.37 415.15,80.44 415.40,80.34 415.65,80.25 415.90,80.20 416.15,80.11 416.40,79.95 416.65,79.93 416.90,79.92 417.15,80.20 417.40,80.68 417.65,81.13 417.90,81.52 418.15,81.32 418.40,80.94 418.65,80.55 418.90,80.24 419.15,80.21 419.40,80.32 419.65,80.30 419.90,80.35 420.15,80.43 420.40,80.54 420.65,80.66 420.90,80.83 421.15,80.81 421.40,80.78 421.65,80.84 421.90,80.91 422.15,81.02 422.40,81.20 422.65,81.34 422.90,81.40 423.15,79.76 423.40,79.15 423.65,79.68 423.90,79.07 424.15,77.36 424.40,78.30 424.65,78.00 424.90,77.79 425.15,77.93 425.40,78.35 425.65,78.74 425.90,79.14 426.15,77.98 426.40,79.43 426.65,78.07 426.90,79.54 427.15,79.56 427.40,79.57 427.65,79.63 427.90,79.68 428.15,79.86 428.40,80.22 428.65,80.56 428.90,80.77 429.15,80.02 429.40,78.59 429.65,77.32 429.90,76.03 430.15,76.10 430.40,77.01 430.65,77.93 430.90,78.82 431.15,77.69 431.40,79.45 431.65,78.02 431.90,78.25 432.15,79.84 432.40,79.75 432.65,79.76 432.90,79.91 433.15,80.01 433.40,80.13 433.65,80.24 433.90,80.36 434.15,79.99 434.40,79.31 434.65,78.63 434.90,77.95 435.15,77.65 435.40,77.61 435.65,77.47 435.90,75.67 436.15,72.65 436.40,69.85 436.65,67.28 436.90,64.93 437.15,62.80 437.40,60.88 437.65,59.17 437.90,57.66 438.15,56.36 438.40,55.25 438.65,54.33 438.90,53.59 439.15,53.03 439.40,52.64 439.65,52.40 439.90,52.31 440.15,52.32 440.40,52.44 440.65,52.71 440.90,53.13 441.15,53.73 441.40,54.50 441.65,55.45 441.90,56.60 442.15,57.95 442.40,59.49 442.65,61.25 442.90,63.21 443.15,65.39 443.40,67.78 443.65,70.39 443.90,73.23 444.15,74.67 444.40,75.37 444.65,76.07 444.90,76.78 445.15,77.25 445.40,77.57 445.65,77.89 445.90,78.21 446.15,78.35 446.40,78.36 446.65,78.37 446.90,78.38 447.15,78.75 447.40,78.83 447.65,78.87 447.90,78.92 448.15,79.17 448.40,79.66 448.65,80.17 448.90,80.71 449.15,80.77 449.40,80.50 449.65,80.14 449.90,79.73 450.15,79.90 450.40,80.33 450.65,80.63 450.90,80.94 451.15,80.52 451.40,79.64 451.65,78.80 451.90,78.07 452.15,77.92 452.40,78.18 452.65,78.43 452.90,78.68 453.15,78.73 453.40,78.64 453.65,78.55 453.90,78.45 454.15,78.61 454.40,78.96 454.65,79.31 454.90,79.77 455.15,79.81 455.40,79.52 455.65,79.18 455.90,78.92 456.15,78.98 456.40,79.37 456.65,79.79 456.90,80.29 457.15,80.37 457.40,80.27 457.65,80.18 457.90,80.19 458.15,80.48 458.40,80.91 458.65,81.22 458.90,81.53 459.15,81.14 459.40,80.45 459.65,79.83 459.90,79.23 460.15,78.98 460.40,78.97 460.65,78.87 460.90,78.83 461.15,79.16 461.40,79.65 461.65,80.07 461.90,80.49 462.15,80.49 462.40,80.34 462.65,80.28 462.90,80.31 463.15,80.09 463.40,79.67 463.65,79.23 463.90,78.66 464.15,78.55 464.40,77.05 464.65,78.73 464.90,78.86 465.15,79.00 465.40,77.46 465.65,79.14 465.90,79.20 466.15,79.34 466.40,79.44 466.65,79.41 466.90,79.33 467.15,79.09 467.40,78.72 467.65,78.36 467.90,78.19 468.15,78.56 468.40,79.29 468.65,79.99 468.90,80.76 469.15,80.62 469.40,79.95 469.65,79.26 469.90,78.57 470.15,78.30 470.40,78.47 470.65,78.70 470.90,79.01 471.15,78.77 471.40,78.25 471.65,77.72 471.90,77.11 472.15,77.52 472.40,78.66 472.65,79.87 472.90,81.08 473.15,81.14 473.40,80.52 473.65,79.96 473.90,79.42 474.15,79.33 474.40,79.59 474.65,79.81 474.90,80.00 475.15,80.03 475.40,80.16 475.65,80.24 475.90,80.39 476.15,80.41 476.40,80.42 476.65,80.44 476.90,80.46 477.15,80.30 477.40,80.01 477.65,79.71 477.90,79.27 478.15,79.26 478.40,79.46 478.65,79.75 478.90,80.09 479.15,79.93 479.40,79.39 479.65,79.01 479.90,78.58 480.15,78.51 480.40,78.61 480.65,78.72 480.90,78.74 481.15,79.06 481.40,79.57 481.65,80.17 481.90,80.91 482.15,81.43 482.40,81.66 482.65,81.87 482.90,82.06 483.15,81.91 483.40,80.41 483.65,80.18 483.90,81.15 484.15,80.57 484.40,79.90 484.65,79.24 484.90,78.61 485.15,78.72 485.40,79.39 485.65,79.90 485.90,80.47 486.15,80.39 486.40,79.93 486.65,79.42 486.90,79.10 487.15,79.15 487.40,79.45 487.65,79.86 487.90,80.22 488.15,80.16 488.40,79.71 488.65,79.19 488.90,78.69 489.15,78.46 489.40,78.32 489.65,78.25 489.90,78.37 490.15,78.54 490.40,78.82 490.65,79.03 490.90,79.22 491.15,79.08 491.40,78.74 491.65,78.38 491.90,78.09 492.15,77.69 492.40,77.45 492.65,77.36 492.90,77.27 493.15,77.39 493.40,77.69 493.65,77.98 493.90,78.13 494.15,78.43 494.40,78.80 494.65,79.12 494.90,79.53 495.15,79.71 495.40,79.70 495.65,79.67 495.90,79.69 496.15,79.79 496.40,79.96 496.65,80.07 496.90,80.14 497.15,79.89 497.40,77.70 497.65,79.00 497.90,78.60 498.15,78.61 498.40,78.96 498.65,79.25 498.90,79.61 499.15,79.79 499.40,79.81 499.65,79.72 499.90,79.63 500.15,78.44 500.40,77.95 500.65,78.43 500.90,77.34 501.15,78.28 501.40,78.58 501.65,78.96 501.90,79.17 502.15,79.32 502.40,79.40 502.65,79.58 502.90,79.77 503.15,79.77 503.40,79.58 503.65,79.45 503.90,79.34 504.15,79.50 504.40,79.80 504.65,80.06 504.90,80.26 505.15,80.01 505.40,79.45 505.65,78.92 505.90,77.72 506.15,78.37 506.40,78.59 506.65,78.83 506.90,79.07 507.15,79.25 507.40,79.55 507.65,79.72 507.90,79.84 508.15,79.67 508.40,79.30 508.65,78.95 508.90,78.71 509.15,78.65 509.40,78.65 509.65,78.80 509.90,78.94 510.15,79.30 510.40,79.87 510.65,80.42 510.90,80.99 511.15,81.09 511.40,80.99 511.65,80.94 511.90,80.99 512.15,80.56 512.40,79.94 512.5,82.70" fill="#e0304f" fill-opacity="0.07"/>
<polygon points="298.9,82.70 298.90,79.58 299.15,79.37 299.40,79.27 299.65,79.24 299.90,79.13 300.15,79.16 300.40,79.28 300.65,79.33 300.90,79.30 301.15,79.21 301.40,79.03 301.65,79.08 301.90,79.22 302.15,79.02 302.40,78.63 302.65,78.34 302.90,77.96 303.15,78.17 303.40,78.94 303.65,79.62 303.90,80.32 304.15,80.26 304.40,79.79 304.65,79.22 304.90,78.66 305.15,78.36 305.40,78.13 305.65,77.83 305.90,77.55 306.15,77.50 306.40,77.60 306.65,77.82 306.90,78.12 307.15,78.38 307.40,78.69 307.65,78.96 307.90,79.14 308.15,78.13 308.40,78.71 308.65,80.57 308.90,79.57 309.15,79.41 309.40,80.21 309.65,79.65 309.90,79.14 310.15,79.29 310.40,79.82 310.65,80.25 310.90,80.68 311.15,80.56 311.40,80.01 311.65,79.48 311.90,79.02 312.15,79.00 312.40,79.30 312.65,79.69 312.90,80.07 313.15,80.28 313.40,80.33 313.65,80.36 313.90,80.35 314.15,79.97 314.40,79.45 314.65,78.86 314.90,78.38 315.15,78.22 315.40,78.22 315.65,78.27 315.90,78.23 316.15,78.24 316.40,78.13 316.65,77.94 316.90,77.65 317.15,77.26 317.40,76.79 317.65,76.56 317.90,76.40 318.15,76.99 318.40,78.11 318.65,79.32 318.90,80.37 319.15,80.86 319.40,80.82 319.65,80.68 319.90,80.43 320.15,80.47 320.40,80.49 320.65,80.50 320.90,80.46 321.15,80.06 321.40,79.27 321.65,78.56 321.90,76.77 322.15,76.90 322.40,77.51 322.65,78.23 322.90,79.06 323.15,80.70 323.40,80.95 323.65,81.25 323.90,81.49 324.15,81.28 324.40,80.83 324.65,80.34 324.90,77.54 325.15,77.42 325.40,77.63 325.65,79.95 325.90,80.17 326.15,80.40 326.40,80.57 326.65,80.75 326.90,81.00 327.15,81.00 327.40,80.86 327.65,80.66 327.90,80.45 328.15,79.85 328.40,79.15 328.65,78.56 328.90,78.00 329.15,78.42 329.40,79.40 329.65,79.09 329.90,79.95 330.15,81.55 330.40,81.49 330.65,81.42 330.90,81.38 331.15,81.15 331.40,80.83 331.65,80.57 331.90,80.26 332.15,80.11 332.40,80.03 332.65,79.90 332.90,79.62 333.15,79.53 333.40,79.50 333.65,79.34 333.90,79.23 334.15,79.25 334.40,79.35 334.65,79.50 334.90,79.72 335.15,80.02 335.40,80.28 335.65,80.41 335.90,80.52 336.15,79.96 336.40,78.92 336.65,77.99 336.90,77.26 337.15,76.99 337.40,77.14 337.65,77.33 337.90,77.36 338.15,77.19 338.40,76.90 338.65,76.48 338.90,76.05 339.15,76.10 339.40,76.50 339.65,77.17 339.90,78.02 340.15,78.78 340.40,78.01 340.65,79.77 340.90,79.99 341.15,79.90 341.40,79.52 341.65,79.06 341.90,78.67 342.15,78.80 342.40,79.20 342.65,79.67 342.90,77.95 343.15,78.19 343.40,80.37 343.65,78.02 343.90,80.02 344.15,79.84 344.40,79.84 344.65,79.85 344.90,79.93 345.15,79.82 345.40,79.66 345.65,77.36 345.90,77.26 346.15,79.68 346.40,78.01 346.65,80.45 346.90,80.66 347.15,80.67 347.40,80.61 347.65,80.60 347.90,80.69 348.15,80.72 348.40,80.54 348.65,80.26 348.90,79.94 349.15,79.52 349.40,78.95 349.65,78.42 349.90,77.82 350.15,77.57 350.40,77.50 350.65,77.45 350.90,77.49 351.15,77.75 351.40,77.95 351.65,78.19 351.90,78.44 352.15,78.84 352.40,79.39 352.65,79.93 352.90,80.50 353.15,80.79 353.40,80.81 353.65,80.88 353.90,81.10 354.15,80.82 354.40,80.06 354.65,76.90 354.90,76.12 355.15,75.89 355.40,76.17 355.65,78.99 355.90,79.38 356.15,79.70 356.40,80.02 356.65,80.36 356.90,80.73 357.15,80.50 357.40,79.72 357.65,78.90 357.90,77.97 358.15,78.09 358.40,78.96 358.65,79.92 358.90,80.85 359.15,81.13 359.40,80.85 359.65,80.55 359.90,80.12 360.15,79.69 360.40,79.03 360.65,78.40 360.90,77.81 361.15,78.04 361.40,78.85 361.65,79.75 361.90,78.63 362.15,79.14 362.40,81.30 362.65,79.27 362.90,81.32 363.15,81.01 363.40,80.55 363.65,80.21 363.90,79.82 364.15,79.45 364.40,79.08 364.65,78.81 364.90,78.45 365.15,78.65 365.40,79.14 365.65,79.51 365.90,79.76 366.15,79.96 366.40,80.08 366.65,80.23 366.90,80.57 367.15,80.44 367.40,80.04 367.65,79.69 367.90,79.30 368.15,79.33 368.40,79.64 368.65,79.89 368.90,80.09 369.15,80.26 369.40,80.38 369.65,80.60 369.90,80.96 370.15,80.84 370.40,80.30 370.65,79.74 370.90,79.21 371.15,78.78 371.40,78.46 371.65,78.20 371.90,77.91 372.15,77.93 372.40,78.14 372.65,78.43 372.90,78.66 373.15,78.76 373.40,78.56 373.65,78.33 373.90,78.07 374.15,77.91 374.40,77.80 374.65,77.88 374.90,77.98 375.15,78.00 375.40,78.06 375.65,78.16 375.90,78.23 376.15,78.83 376.40,79.55 376.65,80.20 376.90,80.86 377.15,80.65 377.40,79.80 377.65,77.88 377.90,77.23 378.15,78.64 378.40,78.49 378.65,79.33 378.90,81.59 379.15,80.31 379.40,79.79 379.65,80.54 379.90,79.82 380.15,79.62 380.40,79.77 380.65,80.07 380.90,80.35 381.15,80.29 381.40,79.78 381.65,79.29 381.90,78.63 382.15,78.38 382.40,78.34 382.65,78.39 382.90,78.48 383.15,78.72 383.40,79.07 383.65,79.58 383.90,80.10 384.15,80.30 384.40,80.22 384.65,80.11 384.90,79.92 385.15,79.72 385.40,79.32 385.65,79.00 385.90,78.81 386.15,79.13 386.40,79.63 386.65,80.35 386.90,80.92 387.15,81.01 387.40,80.62 387.65,80.20 387.90,79.60 388.15,79.30 388.40,79.09 388.65,78.87 388.90,78.74 389.15,79.16 389.40,79.81 389.65,80.40 389.90,80.94 390.15,80.96 390.40,80.64 390.65,80.28 390.90,80.01 391.15,79.63 391.40,79.27 391.65,79.04 391.90,78.99 392.15,78.94 392.40,78.93 392.65,78.75 392.90,78.51 393.15,78.44 393.40,78.46 393.65,78.40 393.90,78.55 394.15,78.74 394.40,79.04 394.65,78.86 394.90,78.77 395.15,76.96 395.40,77.54 395.65,76.80 395.90,76.06 396.15,76.13 396.40,76.73 396.65,76.78 396.90,76.21 397.15,72.68 397.40,69.43 397.65,64.72 397.90,56.92 398.15,50.98 398.40,51.61 398.65,52.23 398.90,52.85 399.15,52.83 399.40,51.92 399.65,50.69 399.90,49.63 400.15,48.75 400.40,48.03 400.65,47.46 400.90,47.03 401.15,46.73 401.40,46.53 401.65,46.42 401.90,46.39 402.15,46.39 402.40,46.44 402.65,46.56 402.90,46.78 403.15,47.11 403.40,47.56 403.65,48.16 403.90,48.91 404.15,49.83 404.40,50.92 404.65,51.32 404.90,51.59 405.15,51.72 405.40,51.76 405.65,57.93 405.90,61.64 406.15,64.20 406.40,65.40 406.65,67.06 406.90,72.39 407.15,75.69 407.40,77.64 407.65,78.78 407.90,79.38 408.15,79.76 408.40,80.01 408.65,80.13 408.90,80.15 409.15,79.85 409.40,79.32 409.65,78.80 409.90,78.28 410.15,78.46 410.40,78.39 410.65,78.30 410.90,78.35 411.15,78.66 411.40,79.04 411.65,79.52 411.90,79.86 412.15,79.70 412.40,79.18 412.65,78.59 412.90,77.90 413.15,76.86 413.40,75.56 413.65,74.42 413.90,73.38 414.15,73.86 414.40,75.29 414.65,76.75 414.90,78.13 415.15,78.76 415.40,78.75 415.65,78.74 415.90,78.78 416.15,78.80 416.40,78.79 416.65,78.92 416.90,79.07 417.15,79.48 417.40,80.08 417.65,80.65 417.90,81.14 418.15,80.93 418.40,80.49 418.65,80.02 418.90,79.65 419.15,79.26 419.40,78.81 419.65,78.22 419.90,77.70 420.15,78.08 420.40,79.07 420.65,80.07 420.90,81.12 421.15,80.90 421.40,79.98 421.65,79.14 421.90,78.32 422.15,78.45 422.40,79.25 422.65,80.00 422.90,80.68 423.15,80.71 423.40,80.42 423.65,78.47 423.90,79.74 424.15,78.10 424.40,79.78 424.65,79.91 424.90,80.15 425.15,80.03 425.40,79.73 425.65,79.40 425.90,77.39 426.15,79.28 426.40,79.87 426.65,78.67 426.90,79.29 427.15,80.78 427.40,80.11 427.65,79.50 427.90,78.88 428.15,79.00 428.40,79.73 428.65,80.43 428.90,81.00 429.15,81.02 429.40,80.63 429.65,80.42 429.90,80.17 430.15,80.25 430.40,80.44 430.65,80.66 430.90,78.87 431.15,78.33 431.40,77.31 431.65,76.27 431.90,77.29 432.15,77.49 432.40,78.54 432.65,79.68 432.90,80.97 433.15,81.21 433.40,80.79 433.65,80.37 433.90,79.95 434.15,79.26 434.40,78.39 434.65,77.53 434.90,76.66 435.15,76.19 435.40,75.98 435.65,75.66 435.90,75.27 436.15,74.68 436.40,72.04 436.65,68.60 436.90,65.45 437.15,62.60 437.40,60.02 437.65,57.73 437.90,55.72 438.15,53.97 438.40,52.49 438.65,51.25 438.90,50.27 439.15,49.52 439.40,48.99 439.65,48.68 439.90,48.55 440.15,48.56 440.40,48.72 440.65,49.08 440.90,49.65 441.15,50.45 441.40,51.48 441.65,52.76 441.90,54.30 442.15,56.10 442.40,58.17 442.65,60.52 442.90,63.14 443.15,66.06 443.40,69.26 443.65,72.22 443.90,72.80 444.15,73.48 444.40,74.24 444.65,74.99 444.90,75.75 445.15,76.51 445.40,77.27 445.65,78.04 445.90,78.80 446.15,79.19 446.40,79.34 446.65,79.48 446.90,79.63 447.15,79.96 447.40,79.86 447.65,79.72 447.90,79.58 448.15,79.32 448.40,79.10 448.65,78.90 448.90,78.73 449.15,78.73 449.40,78.81 449.65,78.80 449.90,78.72 450.15,78.61 450.40,78.32 450.65,77.88 450.90,77.46 451.15,77.62 451.40,78.18 451.65,78.79 451.90,79.51 452.15,79.51 452.40,79.04 452.65,78.57 452.90,78.09 453.15,77.84 453.40,77.72 453.65,77.60 453.90,77.47 454.15,77.77 454.40,78.38 454.65,79.00 454.90,79.73 455.15,79.79 455.40,79.34 455.65,78.84 455.90,78.42 456.15,78.14 456.40,78.08 456.65,78.05 456.90,78.11 457.15,78.57 457.40,79.41 457.65,80.26 457.90,81.21 458.15,81.54 458.40,81.38 458.65,81.11 458.90,80.83 459.15,80.51 459.40,80.34 459.65,80.26 459.90,80.20 460.15,79.81 460.40,79.22 460.65,78.53 460.90,77.91 461.15,77.94 461.40,78.32 461.65,78.62 461.90,78.91 462.15,78.87 462.40,78.73 462.65,78.69 462.90,78.76 463.15,79.00 463.40,79.32 463.65,79.63 463.90,79.78 464.15,79.70 464.40,79.28 464.65,78.92 464.90,76.60 465.15,78.95 465.40,77.71 465.65,80.50 465.90,81.27 466.15,81.51 466.40,81.32 466.65,80.98 466.90,80.59 467.15,80.46 467.40,80.48 467.65,80.51 467.90,80.75 468.15,80.46 468.40,79.81 468.65,79.13 468.90,78.52 469.15,78.56 469.40,79.12 469.65,79.64 469.90,80.18 470.15,79.94 470.40,79.36 470.65,78.84 470.90,78.41 471.15,78.27 471.40,78.41 471.65,78.53 471.90,78.58 472.15,78.83 472.40,79.27 472.65,79.79 472.90,80.30 473.15,80.64 473.40,80.96 473.65,81.35 473.90,81.76 474.15,81.82 474.40,81.72 474.65,81.57 474.90,81.39 475.15,80.63 475.40,79.73 475.65,78.76 475.90,77.87 476.15,77.72 476.40,78.14 476.65,78.57 476.90,79.00 477.15,79.13 477.40,79.07 477.65,78.99 477.90,78.76 478.15,78.73 478.40,78.74 478.65,78.85 478.90,79.02 479.15,78.96 479.40,78.69 479.65,78.60 479.90,78.44 480.15,78.74 480.40,79.24 480.65,79.76 480.90,80.19 481.15,80.17 481.40,79.84 481.65,79.60 481.90,79.52 482.15,79.56 482.40,79.53 482.65,79.49 482.90,79.42 483.15,79.18 483.40,77.39 483.65,77.19 483.90,78.50 484.15,78.75 484.40,79.47 484.65,80.19 484.90,80.95 485.15,81.03 485.40,80.73 485.65,80.26 485.90,79.85 486.15,79.56 486.40,79.39 486.65,79.16 486.90,79.15 487.15,79.43 487.40,79.92 487.65,80.52 487.90,81.07 488.15,81.24 488.40,81.04 488.65,80.74 488.90,80.48 489.15,80.56 489.40,80.77 489.65,81.05 489.90,81.53 490.15,81.64 490.40,81.60 490.65,81.47 490.90,81.32 491.15,80.70 491.40,79.79 491.65,78.86 491.90,78.01 492.15,77.48 492.40,77.42 492.65,77.53 492.90,77.63 493.15,77.60 493.40,77.53 493.65,77.45 493.90,77.21 494.15,77.27 494.40,77.49 494.65,77.66 494.90,77.93 495.15,78.16 495.40,78.35 495.65,78.50 495.90,78.72 496.15,79.21 496.40,79.90 496.65,78.30 496.90,81.11 497.15,80.74 497.40,77.59 497.65,78.81 497.90,77.90 498.15,77.77 498.40,78.25 498.65,78.66 498.90,79.15 499.15,79.63 499.40,80.06 499.65,80.36 499.90,79.62 500.15,80.80 500.40,79.74 500.65,79.87 500.90,81.21 501.15,81.28 501.40,81.20 501.65,81.21 501.90,81.04 502.15,80.72 502.40,80.29 502.65,79.97 502.90,79.66 503.15,79.76 503.40,80.08 503.65,80.47 503.90,80.87 504.15,81.09 504.40,81.12 504.65,81.11 504.90,81.04 505.15,80.76 505.40,80.32 505.65,79.91 505.90,78.66 506.15,78.69 506.40,79.08 506.65,80.46 506.90,80.87 507.15,80.95 507.40,80.98 507.65,80.85 507.90,80.68 508.15,80.18 508.40,79.46 508.65,78.76 508.90,78.18 509.15,78.33 509.40,78.91 509.65,79.65 509.90,80.38 510.15,80.49 510.40,80.24 510.65,79.97 510.90,79.73 511.15,79.39 511.40,79.10 511.65,78.88 511.90,78.77 512.15,78.52 512.40,78.33 512.5,82.70" fill="#e0304f" fill-opacity="0.07"/>
<polygon points="298.9,82.70 298.90,80.30 299.15,80.03 299.40,79.74 299.65,79.53 299.90,79.23 300.15,79.32 300.40,79.66 300.65,79.94 300.90,80.12 301.15,80.03 301.40,79.71 301.65,79.64 301.90,79.65 302.15,79.72 302.40,79.85 302.65,80.09 302.90,80.22 303.15,79.96 303.40,79.62 303.65,79.18 303.90,78.76 304.15,78.38 304.40,78.11 304.65,77.73 304.90,77.37 305.15,77.72 305.40,78.42 305.65,79.05 305.90,79.70 306.15,79.66 306.40,79.17 306.65,78.81 306.90,78.53 307.15,78.63 307.40,79.08 307.65,79.48 307.90,79.78 308.15,79.73 308.40,79.47 308.65,79.05 308.90,78.61 309.15,78.25 309.40,77.88 309.65,77.55 309.90,77.30 310.15,77.29 310.40,77.40 310.65,77.39 310.90,77.39 311.15,77.95 311.40,78.81 311.65,79.69 311.90,80.64 312.15,80.62 312.40,79.98 312.65,79.44 312.90,78.89 313.15,78.87 313.40,79.18 313.65,79.45 313.90,79.69 314.15,79.26 314.40,78.50 314.65,77.68 314.90,76.96 315.15,77.05 315.40,77.60 315.65,78.21 315.90,78.73 316.15,78.69 316.40,78.12 316.65,77.45 316.90,76.69 317.15,76.40 317.40,76.40 317.65,76.66 317.90,77.01 318.15,77.47 318.40,78.07 318.65,78.76 318.90,79.27 319.15,79.40 319.40,79.10 319.65,78.69 319.90,78.15 320.15,77.81 320.40,77.36 320.65,76.90 320.90,76.38 321.15,76.62 321.40,77.18 321.65,77.83 321.90,78.54 322.15,77.02 322.40,77.60 322.65,76.94 322.90,75.04 323.15,76.94 323.40,78.17 323.65,79.44 323.90,80.65 324.15,81.10 324.40,81.12 324.65,81.08 324.90,80.90 325.15,78.09 325.40,77.83 325.65,77.53 325.90,79.90 326.15,79.65 326.40,79.33 326.65,79.02 326.90,78.79 327.15,78.52 327.40,78.29 327.65,77.98 327.90,77.66 328.15,77.58 328.40,77.84 328.65,78.20 328.90,78.60 329.15,78.29 329.40,77.38 329.65,74.93 329.90,73.90 330.15,73.99 330.40,74.76 330.65,77.01 330.90,77.80 331.15,78.17 331.40,78.30 331.65,78.52 331.90,78.66 332.15,78.61 332.40,78.38 332.65,78.09 332.90,77.65 333.15,77.99 333.40,78.79 333.65,79.45 333.90,80.15 334.15,79.94 334.40,79.08 334.65,78.28 334.90,77.55 335.15,77.69 335.40,78.32 335.65,78.80 335.90,79.26 336.15,78.96 336.40,78.11 336.65,77.38 336.90,76.86 337.15,76.78 337.40,77.11 337.65,77.48 337.90,77.66 338.15,77.61 338.40,77.42 338.65,77.08 338.90,76.73 339.15,76.87 339.40,77.37 339.65,78.18 339.90,79.17 340.15,78.36 340.40,78.82 340.65,80.75 340.90,80.86 341.15,81.01 341.40,81.10 341.65,81.11 341.90,81.20 342.15,81.02 342.40,80.59 342.65,77.53 342.90,79.94 343.15,80.14 343.40,77.83 343.65,80.88 343.90,81.09 344.15,80.31 344.40,79.01 344.65,77.73 344.90,76.53 345.15,76.55 345.40,77.46 345.65,78.37 345.90,79.34 346.15,79.79 346.40,79.85 346.65,77.13 346.90,79.47 347.15,78.75 347.40,77.78 347.65,76.86 347.90,76.05 348.15,76.71 348.40,78.17 348.65,79.52 348.90,80.83 349.15,80.74 349.40,79.62 349.65,78.53 349.90,77.39 350.15,76.98 350.40,77.04 350.65,77.11 350.90,77.28 351.15,77.60 351.40,77.81 351.65,78.05 351.90,78.31 352.15,78.05 352.40,77.49 352.65,76.92 352.90,76.39 353.15,76.35 353.40,76.57 353.65,76.83 353.90,77.25 354.15,77.88 354.40,78.48 354.65,79.12 354.90,79.70 355.15,76.54 355.40,78.82 355.65,75.37 355.90,77.78 356.15,77.48 356.40,77.38 356.65,77.30 356.90,77.26 357.15,77.45 357.40,77.63 357.65,77.77 357.90,77.79 358.15,77.74 358.40,77.70 358.65,77.76 358.90,77.79 359.15,78.13 359.40,78.55 359.65,78.94 359.90,79.20 360.15,78.84 360.40,77.82 360.65,76.85 360.90,75.91 361.15,76.16 361.40,77.24 361.65,78.42 361.90,77.16 362.15,77.09 362.40,78.47 362.65,77.31 362.90,76.09 363.15,75.76 363.40,76.07 363.65,76.50 363.90,76.88 364.15,77.67 364.40,78.73 364.65,79.89 364.90,80.96 365.15,81.19 365.40,80.77 365.65,80.22 365.90,79.55 366.15,79.22 366.40,79.08 366.65,78.98 366.90,79.07 367.15,79.24 367.40,79.50 367.65,79.80 367.90,80.07 368.15,80.26 368.40,80.40 368.65,80.49 368.90,80.51 369.15,80.49 369.40,80.40 369.65,80.41 369.90,80.58 370.15,80.39 370.40,79.85 370.65,79.29 370.90,78.76 371.15,78.44 371.40,78.28 371.65,78.19 371.90,78.06 372.15,78.32 372.40,78.82 372.65,79.39 372.90,79.91 373.15,80.29 373.40,80.34 373.65,80.37 373.90,80.37 374.15,79.83 374.40,78.93 374.65,78.25 374.90,77.58 375.15,77.62 375.40,78.25 375.65,78.92 375.90,79.56 376.15,79.88 376.40,79.73 376.65,79.49 376.90,79.27 377.15,79.31 377.40,79.46 377.65,78.32 377.90,78.69 378.15,79.85 378.40,78.02 378.65,77.59 378.90,76.89 379.15,76.78 379.40,77.04 379.65,78.82 379.90,78.86 380.15,78.73 380.40,78.51 380.65,78.45 380.90,78.36 381.15,78.47 381.40,78.45 381.65,78.45 381.90,78.27 382.15,78.56 382.40,79.09 382.65,79.71 382.90,80.37 383.15,80.25 383.40,79.60 383.65,79.13 383.90,78.68 384.15,78.85 384.40,79.38 384.65,79.86 384.90,80.27 385.15,80.50 385.40,80.41 385.65,80.40 385.90,80.53 386.15,80.65 386.40,80.59 386.65,80.76 386.90,80.78 387.15,80.76 387.40,80.55 387.65,80.32 387.90,79.88 388.15,78.97 388.40,77.62 388.65,76.25 388.90,74.99 389.15,75.47 389.40,76.95 389.65,78.37 389.90,79.74 390.15,79.75 390.40,78.89 390.65,77.97 390.90,77.16 391.15,76.78 391.40,76.82 391.65,76.99 391.90,77.37 392.15,77.99 392.40,78.84 392.65,79.49 392.90,80.09 393.15,79.97 393.40,79.37 393.65,78.68 393.90,78.21 394.15,78.41 394.40,79.15 394.65,79.37 394.90,78.09 395.15,77.58 395.40,76.53 395.65,75.47 395.90,76.01 396.15,75.44 396.40,75.21 396.65,74.36 396.90,73.12 397.15,71.77 397.40,67.49 397.65,62.50 397.90,54.99 398.15,48.86 398.40,49.45 398.65,50.03 398.90,50.61 399.15,51.03 399.40,50.01 399.65,48.46 399.90,47.13 400.15,46.03 400.40,45.12 400.65,44.41 400.90,43.86 401.15,43.48 401.40,43.23 401.65,43.10 401.90,43.06 402.15,43.06 402.40,43.12 402.65,43.27 402.90,43.55 403.15,43.96 403.40,44.53 403.65,45.29 403.90,46.23 404.15,47.38 404.40,48.75 404.65,50.19 404.90,49.82 405.15,49.77 405.40,49.95 405.65,56.79 405.90,61.72 406.15,63.59 406.40,64.08 406.65,65.25 406.90,70.41 407.15,73.89 407.40,76.24 407.65,77.71 407.90,78.59 408.15,78.96 408.40,78.99 408.65,78.86 408.90,78.65 409.15,78.73 409.40,79.02 409.65,79.30 409.90,79.59 410.15,80.22 410.40,80.29 410.65,80.33 410.90,80.54 411.15,80.55 411.40,80.31 411.65,80.19 411.90,79.91 412.15,79.46 412.40,78.85 412.65,78.16 412.90,77.37 413.15,77.12 413.40,77.21 413.65,77.47 413.90,77.85 414.15,77.79 414.40,77.38 414.65,77.01 414.90,76.54 415.15,77.01 415.40,77.94 415.65,78.88 415.90,79.86 416.15,79.95 416.40,79.39 416.65,78.99 416.90,78.61 417.15,78.92 417.40,79.72 417.65,80.47 417.90,81.15 418.15,80.66 418.40,79.65 418.65,78.62 418.90,77.69 419.15,77.80 419.40,78.56 419.65,79.16 419.90,79.84 420.15,80.09 420.40,80.07 420.65,80.06 420.90,80.10 421.15,79.64 421.40,78.98 421.65,78.42 421.90,77.88 422.15,77.91 422.40,78.38 422.65,78.79 422.90,79.12 423.15,77.22 423.40,77.05 423.65,78.64 423.90,76.61 424.15,76.10 424.40,77.30 424.65,76.64 424.90,76.10 425.15,76.43 425.40,77.43 425.65,78.39 425.90,77.33 426.15,79.90 426.40,78.20 426.65,80.41 426.90,78.74 427.15,80.98 427.40,81.19 427.65,81.46 427.90,81.72 428.15,81.39 428.40,80.77 428.65,80.12 428.90,79.32 429.15,79.18 429.40,79.43 429.65,79.86 429.90,80.27 430.15,80.08 430.40,79.39 430.65,78.73 430.90,75.66 431.15,77.96 431.40,75.95 431.65,76.28 431.90,76.71 432.15,79.29 432.40,79.43 432.65,79.68 432.90,80.10 433.15,80.13 433.40,79.95 433.65,79.76 433.90,79.58 434.15,78.82 434.40,77.67 434.65,76.52 434.90,75.38 435.15,74.57 435.40,73.98 435.65,73.27 435.90,72.48 436.15,71.77 436.40,71.12 436.65,70.46 436.90,67.48 437.15,63.65 437.40,60.19 437.65,57.12 437.90,54.41 438.15,52.07 438.40,50.07 438.65,48.42 438.90,47.10 439.15,46.09 439.40,45.39 439.65,44.96 439.90,44.79 440.15,44.80 440.40,45.03 440.65,45.51 440.90,46.27 441.15,47.34 441.40,48.73 441.65,50.45 441.90,52.51 442.15,54.93 442.40,57.71 442.65,60.85 442.90,64.38 443.15,68.29 443.40,72.60 443.65,73.63 443.90,74.06 444.15,74.80 444.40,75.74 444.65,76.68 444.90,77.63 445.15,78.10 445.40,78.25 445.65,78.41 445.90,78.57 446.15,78.43 446.40,78.10 446.65,77.77 446.90,77.44 447.15,78.10 447.40,78.80 447.65,79.46 447.90,80.12 448.15,79.84 448.40,79.07 448.65,78.33 448.90,77.62 449.15,77.10 449.40,76.68 449.65,76.16 449.90,75.57 450.15,75.94 450.40,76.77 450.65,77.45 450.90,78.16 451.15,78.04 451.40,77.41 451.65,76.83 451.90,76.39 452.15,76.33 452.40,76.56 452.65,76.78 452.90,77.01 453.15,77.50 453.40,78.16 453.65,78.82 453.90,79.47 454.15,79.66 454.40,79.56 454.65,79.45 454.90,79.48 455.15,79.54 455.40,79.56 455.65,79.52 455.90,79.57 456.15,79.59 456.40,79.73 456.65,79.90 456.90,80.18 457.15,80.15 457.40,80.05 457.65,79.97 457.90,79.99 458.15,79.74 458.40,79.23 458.65,78.60 458.90,77.95 459.15,77.97 459.40,78.63 459.65,79.38 459.90,80.16 460.15,80.07 460.40,79.43 460.65,78.69 460.90,78.01 461.15,77.80 461.40,77.81 461.65,77.73 461.90,77.66 462.15,77.39 462.40,77.14 462.65,77.01 462.90,76.98 463.15,77.24 463.40,77.62 463.65,78.00 463.90,78.21 464.15,78.19 464.40,77.84 464.65,77.54 464.90,74.90 465.15,75.16 465.40,75.64 465.65,78.57 465.90,79.09 466.15,79.16 466.40,78.83 466.65,78.35 466.90,77.80 467.15,77.41 467.40,77.09 467.65,76.78 467.90,76.71 468.15,76.71 468.40,76.76 468.65,76.78 468.90,76.88 469.15,76.81 469.40,76.72 469.65,76.61 469.90,76.51 470.15,76.51 470.40,76.78 470.65,77.12 470.90,77.55 471.15,78.26 471.40,79.24 471.65,80.20 471.90,81.08 472.15,80.98 472.40,80.29 472.65,79.68 472.90,79.06 473.15,78.96 473.40,79.31 473.65,79.74 473.90,80.18 474.15,80.05 474.40,79.61 474.65,79.11 474.90,78.59 475.15,78.56 475.40,79.13 475.65,79.63 475.90,80.21 476.15,80.39 476.40,80.37 476.65,80.38 476.90,80.37 477.15,79.71 477.40,78.60 477.65,77.46 477.90,76.17 478.15,76.16 478.40,76.92 478.65,77.79 478.90,78.71 479.15,79.24 479.40,79.43 479.65,79.82 479.90,80.14 480.15,80.27 480.40,80.18 480.65,80.11 480.90,79.94 481.15,79.75 481.40,79.54 481.65,79.44 481.90,79.51 482.15,79.34 482.40,78.86 482.65,78.36 482.90,77.83 483.15,75.85 483.40,77.89 483.65,76.32 483.90,76.57 484.15,78.52 484.40,78.74 484.65,78.96 484.90,79.22 485.15,79.10 485.40,78.81 485.65,78.33 485.90,77.92 486.15,77.53 486.40,77.22 486.65,76.84 486.90,76.70 487.15,77.27 487.40,78.34 487.65,79.53 487.90,80.66 488.15,80.70 488.40,79.88 488.65,78.96 488.90,78.08 489.15,77.97 489.40,78.26 489.65,78.63 489.90,79.22 490.15,79.21 490.40,78.90 490.65,78.50 490.90,78.09 491.15,78.19 491.40,78.67 491.65,79.14 491.90,79.68 492.15,79.48 492.40,79.06 492.65,78.81 492.90,78.56 493.15,78.31 493.40,78.12 493.65,77.92 493.90,77.55 494.15,76.78 494.40,75.69 494.65,74.54 494.90,73.51 495.15,74.05 495.40,75.62 495.65,77.16 495.90,78.77 496.15,79.50 496.40,79.66 496.65,79.75 496.90,77.14 497.15,79.67 497.40,79.50 497.65,76.60 497.90,79.10 498.15,78.89 498.40,78.70 498.65,78.45 498.90,78.29 499.15,78.64 499.40,79.32 499.65,79.84 499.90,80.38 500.15,80.03 500.40,77.82 500.65,77.02 500.90,76.39 501.15,77.38 501.40,77.32 501.65,77.36 501.90,77.21 502.15,77.37 502.40,77.71 502.65,78.17 502.90,78.65 503.15,78.73 503.40,78.48 503.65,78.31 503.90,78.16 504.15,78.60 504.40,79.38 504.65,80.12 504.90,80.79 505.15,80.87 505.40,80.55 505.65,80.27 505.90,80.11 506.15,80.12 506.40,80.40 506.65,80.71 506.90,81.02 507.15,80.85 507.40,80.53 507.65,80.06 507.90,79.53 508.15,79.44 508.40,79.64 508.65,79.86 508.90,80.21 509.15,79.75 509.40,78.69 509.65,77.81 509.90,76.91 510.15,76.63 510.40,76.82 510.65,77.00 510.90,77.20 511.15,77.11 511.40,76.95 511.65,76.86 511.90,76.89 512.15,76.95 512.40,77.19 512.5,82.70" fill="#e0304f" fill-opacity="0.07"/>
<polygon points="298.9,82.70 298.90,79.33 299.15,79.38 299.40,79.18 299.65,79.06 299.90,78.84 300.15,78.96 300.40,79.28 300.65,79.52 300.90,79.67 301.15,78.95 301.40,77.59 301.65,76.51 301.90,75.51 302.15,75.93 302.40,77.30 302.65,78.80 302.90,80.18 303.15,80.32 303.40,79.82 303.65,79.21 303.90,78.62 304.15,78.53 304.40,78.88 304.65,79.11 304.90,79.36 305.15,79.49 305.40,79.41 305.65,79.26 305.90,79.12 306.15,78.54 306.40,77.67 306.65,76.94 306.90,76.30 307.15,76.51 307.40,77.38 307.65,78.20 307.90,78.93 308.15,79.30 308.40,77.48 308.65,77.49 308.90,77.47 309.15,79.16 309.40,78.59 309.65,78.08 309.90,77.64 310.15,77.90 310.40,78.57 310.65,79.11 310.90,79.67 311.15,79.79 311.40,79.57 311.65,79.36 311.90,79.23 312.15,78.99 312.40,78.69 312.65,78.50 312.90,78.30 313.15,78.41 313.40,78.70 313.65,78.95 313.90,79.17 314.15,79.29 314.40,79.47 314.65,79.58 314.90,79.81 315.15,80.15 315.40,80.49 315.65,80.89 315.90,81.19 316.15,81.24 316.40,80.93 316.65,80.53 316.90,80.02 317.15,79.52 317.40,79.02 317.65,78.79 317.90,78.66 318.15,78.82 318.40,79.23 318.65,79.75 318.90,80.08 319.15,79.84 319.40,79.02 319.65,78.09 319.90,77.03 320.15,76.57 320.40,76.24 320.65,75.92 320.90,75.53 321.15,75.58 321.40,75.76 321.65,76.04 321.90,76.37 322.15,75.38 322.40,77.68 322.65,76.95 322.90,79.51 323.15,79.87 323.40,79.78 323.65,79.74 323.90,79.63 324.15,79.35 324.40,79.04 324.65,78.65 324.90,75.09 325.15,78.14 325.40,75.49 325.65,75.81 325.90,79.23 326.15,79.06 326.40,78.45 326.65,77.85 326.90,77.34 327.15,77.22 327.40,77.43 327.65,77.57 327.90,77.69 328.15,78.04 328.40,78.73 328.65,79.55 328.90,80.40 329.15,80.26 329.40,77.60 329.65,78.38 329.90,77.33 330.15,77.09 330.40,75.56 330.65,77.52 330.90,77.75 331.15,78.28 331.40,79.02 331.65,79.86 331.90,80.62 332.15,80.68 332.40,80.23 332.65,79.71 332.90,79.02 333.15,78.43 333.40,77.85 333.65,77.11 333.90,76.42 334.15,76.17 334.40,76.18 334.65,76.25 334.90,76.41 335.15,76.99 335.40,77.76 335.65,78.37 335.90,78.96 336.15,79.19 336.40,79.14 336.65,79.21 336.90,79.52 337.15,79.01 337.40,78.09 337.65,77.22 337.90,76.15 338.15,76.21 338.40,77.05 338.65,77.71 338.90,78.37 339.15,78.54 339.40,78.41 339.65,78.61 339.90,79.02 340.15,77.31 340.40,77.12 340.65,78.65 340.90,78.06 341.15,77.98 341.40,78.14 341.65,78.20 341.90,78.34 342.15,78.87 342.40,79.58 342.65,77.21 342.90,78.07 343.15,77.87 343.40,79.96 343.65,78.87 343.90,77.61 344.15,77.14 344.40,77.34 344.65,77.57 344.90,77.88 345.15,77.95 345.40,77.95 345.65,74.96 345.90,78.03 346.15,78.36 346.40,78.81 346.65,79.05 346.90,79.18 347.15,78.77 347.40,78.06 347.65,77.41 347.90,76.88 348.15,77.17 348.40,77.81 348.65,78.34 348.90,78.83 349.15,79.31 349.40,79.67 349.65,80.09 349.90,80.44 350.15,79.46 350.40,77.57 350.65,75.69 350.90,73.91 351.15,73.89 351.40,74.80 351.65,75.74 351.90,76.70 352.15,77.59 352.40,78.51 352.65,79.40 352.90,80.35 353.15,80.41 353.40,79.82 353.65,79.28 353.90,78.90 354.15,78.72 354.40,78.48 354.65,78.29 354.90,78.03 355.15,77.83 355.40,77.81 355.65,74.50 355.90,78.03 356.15,77.75 356.40,77.25 356.65,76.76 356.90,76.32 357.15,76.59 357.40,77.16 357.65,77.69 357.90,78.08 358.15,78.32 358.40,78.51 358.65,78.80 358.90,79.05 359.15,78.84 359.40,78.17 359.65,77.47 359.90,76.62 360.15,76.40 360.40,76.34 360.65,76.31 360.90,76.33 361.15,76.21 361.40,76.01 361.65,75.92 361.90,75.89 362.15,73.74 362.40,74.83 362.65,75.87 362.90,79.73 363.15,80.05 363.40,79.98 363.65,80.05 363.90,80.06 364.15,80.22 364.40,80.48 364.65,80.84 364.90,81.10 365.15,81.02 365.40,80.60 365.65,80.04 365.90,79.34 366.15,78.57 366.40,77.68 366.65,76.83 366.90,76.20 367.15,75.94 367.40,76.01 367.65,76.11 367.90,76.19 368.15,76.82 368.40,77.82 368.65,78.76 368.90,79.64 369.15,79.60 369.40,78.93 369.65,78.37 369.90,77.98 370.15,78.01 370.40,78.20 370.65,78.38 370.90,78.58 371.15,78.32 371.40,77.80 371.65,77.34 371.90,76.86 372.15,76.76 372.40,76.93 372.65,77.17 372.90,77.36 373.15,77.91 373.40,78.46 373.65,78.98 373.90,79.47 374.15,78.89 374.40,77.58 374.65,76.51 374.90,75.45 375.15,75.16 375.40,75.51 375.65,75.91 375.90,76.26 376.15,76.66 376.40,76.79 376.65,76.83 376.90,76.89 377.15,77.45 377.40,78.28 377.65,79.17 377.90,80.24 378.15,78.69 378.40,77.80 378.65,77.46 378.90,78.39 379.15,76.30 379.40,78.19 379.65,78.26 379.90,78.11 380.15,78.23 380.40,78.54 380.65,79.03 380.90,79.49 381.15,79.41 381.40,78.71 381.65,78.03 381.90,77.16 382.15,77.08 382.40,77.44 382.65,77.91 382.90,78.42 383.15,78.27 383.40,77.66 383.65,77.24 383.90,76.84 384.15,77.06 384.40,77.63 384.65,78.15 384.90,78.59 385.15,78.81 385.40,78.68 385.65,78.64 385.90,78.75 386.15,78.90 386.40,78.92 386.65,79.18 386.90,79.27 387.15,79.19 387.40,78.83 387.65,78.44 387.90,77.82 388.15,77.65 388.40,77.66 388.65,77.64 388.90,77.73 389.15,77.60 389.40,77.15 389.65,76.63 389.90,76.05 390.15,75.78 390.40,75.73 390.65,75.63 390.90,75.65 391.15,75.66 391.40,75.82 391.65,76.11 391.90,76.63 392.15,77.34 392.40,78.26 392.65,78.96 392.90,79.61 393.15,80.02 393.40,80.27 393.65,80.42 393.90,80.81 394.15,80.94 394.40,81.00 394.65,78.65 394.90,80.10 395.15,78.62 395.40,76.42 395.65,74.22 395.90,72.02 396.15,71.74 396.40,72.75 396.65,73.11 396.90,73.04 397.15,71.94 397.40,67.07 397.65,61.42 397.90,53.06 398.15,45.81 398.40,45.53 398.65,45.24 398.90,44.96 399.15,45.51 399.40,46.61 399.65,46.52 399.90,44.85 400.15,43.46 400.40,42.32 400.65,41.42 400.90,40.74 401.15,40.26 401.40,39.95 401.65,39.78 401.90,39.73 402.15,39.73 402.40,39.80 402.65,40.00 402.90,40.34 403.15,40.86 403.40,41.58 403.65,42.53 403.90,43.72 404.15,45.17 404.40,46.89 404.65,47.93 404.90,48.23 405.15,48.38 405.40,48.42 405.65,55.65 405.90,60.83 406.15,62.59 406.40,62.79 406.65,63.74 406.90,68.98 407.15,72.14 407.40,73.90 407.65,74.72 407.90,74.89 408.15,75.40 408.40,76.13 408.65,76.69 408.90,77.16 409.15,77.49 409.40,77.75 409.65,78.00 409.90,78.26 410.15,78.50 410.40,77.89 410.65,77.25 410.90,76.78 411.15,76.91 411.40,77.31 411.65,77.83 411.90,78.19 412.15,78.56 412.40,78.91 412.65,79.18 412.90,79.32 413.15,78.72 413.40,77.57 413.65,76.61 413.90,75.78 414.15,75.52 414.40,75.58 414.65,75.68 414.90,75.67 415.15,75.93 415.40,76.18 415.65,76.43 415.90,76.74 416.15,77.17 416.40,77.66 416.65,78.31 416.90,78.98 417.15,79.50 417.40,79.94 417.65,80.34 417.90,80.65 418.15,80.35 418.40,79.91 418.65,79.45 418.90,79.10 419.15,79.23 419.40,79.64 419.65,79.89 419.90,80.21 420.15,79.86 420.40,79.07 420.65,78.30 420.90,77.58 421.15,77.63 421.40,78.34 421.65,79.16 421.90,80.00 422.15,80.18 422.40,79.99 422.65,79.74 422.90,79.40 423.15,76.37 423.40,77.46 423.65,76.25 423.90,73.00 424.15,72.86 424.40,75.61 424.65,76.20 424.90,76.91 425.15,77.43 425.40,77.89 425.65,78.31 425.90,76.38 426.15,78.72 426.40,78.45 426.65,75.69 426.90,77.81 427.15,78.22 427.40,79.13 427.65,80.11 427.90,81.08 428.15,80.94 428.40,80.18 428.65,79.38 428.90,78.43 429.15,77.69 429.40,77.04 429.65,76.59 429.90,76.12 430.15,76.50 430.40,77.35 430.65,78.22 430.90,76.29 431.15,76.29 431.40,75.74 431.65,75.17 431.90,74.70 432.15,77.05 432.40,76.76 432.65,76.59 432.90,76.60 433.15,76.77 433.40,77.10 433.65,77.43 433.90,77.76 434.15,77.70 434.40,77.36 434.65,77.02 434.90,76.69 435.15,76.35 435.40,76.01 435.65,75.53 435.90,74.97 436.15,74.01 436.40,72.78 436.65,71.55 436.90,70.32 437.15,66.54 437.40,61.87 437.65,57.71 437.90,54.05 438.15,50.88 438.40,48.18 438.65,45.95 438.90,44.16 439.15,42.80 439.40,41.84 439.65,41.27 439.90,41.03 440.15,41.05 440.40,41.35 440.65,42.00 440.90,43.03 441.15,44.48 441.40,46.36 441.65,48.68 441.90,51.47 442.15,54.74 442.40,58.50 442.65,62.76 442.90,67.54 443.15,70.21 443.40,70.35 443.65,70.50 443.90,70.64 444.15,70.96 444.40,71.40 444.65,71.84 444.90,72.28 445.15,72.84 445.40,73.49 445.65,74.13 445.90,74.78 446.15,74.91 446.40,74.71 446.65,74.51 446.90,74.31 447.15,75.48 447.40,76.90 447.65,78.28 447.90,79.66 448.15,80.20 448.40,80.31 448.65,80.44 448.90,80.61 449.15,80.69 449.40,80.69 449.65,80.58 449.90,80.40 450.15,80.19 450.40,79.79 450.65,79.22 450.90,78.68 451.15,77.93 451.40,77.08 451.65,76.28 451.90,75.63 452.15,75.65 452.40,76.13 452.65,76.60 452.90,77.09 453.15,77.14 453.40,76.90 453.65,76.67 453.90,76.43 454.15,76.93 454.40,77.96 454.65,78.98 454.90,80.15 455.15,80.54 455.40,80.35 455.65,80.08 455.90,79.92 456.15,79.66 456.40,79.48 456.65,79.34 456.90,79.31 457.15,78.81 457.40,78.13 457.65,77.47 457.90,76.92 458.15,76.76 458.40,76.78 458.65,76.66 458.90,76.53 459.15,76.56 459.40,76.90 459.65,77.33 459.90,77.80 460.15,77.94 460.40,77.88 460.65,77.71 460.90,77.62 461.15,77.89 461.40,78.31 461.65,78.63 461.90,78.95 462.15,78.98 462.40,78.97 462.65,79.08 462.90,79.31 463.15,79.64 463.40,79.98 463.65,80.32 463.90,80.47 464.15,80.21 464.40,79.48 464.65,78.80 464.90,75.39 465.15,75.65 465.40,79.12 465.65,79.93 465.90,80.69 466.15,80.72 466.40,80.17 466.65,79.44 466.90,78.65 467.15,78.30 467.40,78.21 467.65,78.13 467.90,78.30 468.15,78.76 468.40,79.41 468.65,80.02 468.90,80.73 469.15,80.60 469.40,80.02 469.65,79.42 469.90,78.82 470.15,78.15 470.40,77.63 470.65,77.19 470.90,76.85 471.15,76.75 471.40,76.89 471.65,77.01 471.90,77.04 472.15,77.56 472.40,78.49 472.65,79.49 472.90,80.49 473.15,80.64 473.40,80.34 473.65,80.12 473.90,79.92 474.15,79.54 474.40,79.12 474.65,78.64 474.90,78.14 475.15,77.76 475.40,77.76 475.65,77.69 475.90,77.70 476.15,77.86 476.40,78.19 476.65,78.54 476.90,78.88 477.15,78.59 477.40,77.88 477.65,77.14 477.90,76.23 478.15,76.33 478.40,77.01 478.65,77.81 478.90,78.66 479.15,79.14 479.40,79.27 479.65,79.61 479.90,79.89 480.15,80.10 480.40,80.17 480.65,80.25 480.90,80.23 481.15,79.98 481.40,79.56 481.65,79.25 481.90,79.12 482.15,79.23 482.40,79.31 482.65,79.37 482.90,79.40 483.15,79.45 483.40,79.62 483.65,79.85 483.90,80.07 484.15,77.87 484.40,79.94 484.65,79.89 484.90,79.87 485.15,79.32 485.40,78.52 485.65,77.52 485.90,76.58 486.15,76.47 486.40,76.98 486.65,77.43 486.90,78.13 487.15,78.80 487.40,79.47 487.65,80.28 487.90,81.02 488.15,80.78 488.40,79.73 488.65,78.58 488.90,77.47 489.15,77.58 489.40,78.40 489.65,79.30 489.90,80.44 490.15,81.02 490.40,81.35 490.65,81.57 490.90,81.78 491.15,81.39 491.40,80.65 491.65,79.89 491.90,79.21 492.15,78.27 492.40,77.46 492.65,76.83 492.90,76.20 493.15,76.24 493.40,76.79 493.65,77.34 493.90,77.69 494.15,77.71 494.40,77.44 494.65,77.12 494.90,76.91 495.15,76.98 495.40,77.21 495.65,77.41 495.90,77.68 496.15,77.36 496.40,76.67 496.65,72.80 496.90,72.00 497.15,72.32 497.40,76.58 497.65,77.67 497.90,78.85 498.15,79.62 498.40,80.20 498.65,80.71 498.90,81.30 499.15,80.80 499.40,79.53 499.65,78.11 499.90,76.70 500.15,76.58 500.40,77.33 500.65,76.75 500.90,77.83 501.15,79.81 501.40,79.92 501.65,80.13 501.90,80.13 502.15,79.63 502.40,78.77 502.65,78.04 502.90,77.31 503.15,77.56 503.40,78.40 503.65,79.31 503.90,80.24 504.15,80.44 504.40,80.08 504.65,79.68 504.90,79.20 505.15,78.60 505.40,77.90 505.65,77.24 505.90,75.36 506.15,76.81 506.40,77.51 506.65,76.89 506.90,78.96 507.15,79.43 507.40,79.93 507.65,80.25 507.90,80.52 508.15,80.23 508.40,79.56 508.65,78.91 508.90,78.40 509.15,78.40 509.40,78.66 509.65,79.11 509.90,79.54 510.15,79.20 510.40,78.43 510.65,77.62 510.90,76.85 511.15,77.00 511.40,77.92 511.65,78.90 511.90,80.01 512.15,80.40 512.40,80.49 512.5,82.70" fill="#e0304f" fill-opacity="0.07"/>
<polygon points="298.9,82.70 298.90,75.88 299.15,76.41 299.40,77.19 299.65,78.06 299.90,78.83 300.15,78.52 300.40,77.46 300.65,76.32 300.90,75.08 301.15,75.14 301.40,76.01 301.65,77.17 301.90,78.43 302.15,78.31 302.40,77.32 302.65,76.45 302.90,75.46 303.15,75.57 303.40,76.62 303.65,77.54 303.90,78.50 304.15,78.42 304.40,77.75 304.65,76.96 304.90,76.19 305.15,76.55 305.40,77.53 305.65,78.42 305.90,79.34 306.15,79.49 306.40,79.13 306.65,78.92 306.90,78.81 307.15,78.37 307.40,77.83 307.65,77.22 307.90,76.51 308.15,74.43 308.40,77.53 308.65,75.92 308.90,76.55 309.15,78.79 309.40,78.23 309.65,77.73 309.90,77.32 310.15,77.14 310.40,77.07 310.65,76.87 310.90,76.67 311.15,76.58 311.40,76.47 311.65,76.38 311.90,76.39 312.15,76.41 312.40,76.47 312.65,76.66 312.90,76.83 313.15,76.75 313.40,76.46 313.65,76.12 313.90,75.75 314.15,75.73 314.40,76.07 314.65,76.34 314.90,76.73 315.15,77.41 315.40,78.21 315.65,79.07 315.90,79.82 316.15,79.42 316.40,78.05 316.65,76.57 316.90,74.98 317.15,74.41 317.40,74.50 317.65,74.89 317.90,75.38 318.15,75.56 318.40,75.58 318.65,75.72 318.90,75.66 319.15,75.95 319.40,76.27 319.65,76.47 319.90,76.52 320.15,76.78 320.40,76.91 320.65,77.02 320.90,77.07 321.15,77.28 321.40,77.40 321.65,77.63 321.90,76.10 322.15,76.10 322.40,75.88 322.65,75.80 322.90,75.84 323.15,77.50 323.40,77.16 323.65,76.87 323.90,76.51 324.15,76.32 324.40,76.31 324.65,76.24 324.90,72.54 325.15,72.49 325.40,72.56 325.65,72.57 325.90,76.12 326.15,76.49 326.40,76.97 326.65,77.46 326.90,78.05 327.15,78.65 327.40,79.31 327.65,79.90 327.90,80.48 328.15,79.81 328.40,78.53 328.65,77.38 328.90,76.27 329.15,76.06 329.40,74.32 329.65,76.52 329.90,74.63 330.15,76.48 330.40,74.09 330.65,75.67 330.90,75.29 331.15,75.75 331.40,76.79 331.65,77.94 331.90,79.00 332.15,79.33 332.40,79.13 332.65,78.85 332.90,78.40 333.15,78.01 333.40,77.57 333.65,76.98 333.90,76.44 334.15,76.68 334.40,77.41 334.65,78.21 334.90,79.09 335.15,79.74 335.40,80.14 335.65,80.36 335.90,80.55 336.15,79.89 336.40,78.59 336.65,77.43 336.90,76.52 337.15,75.93 337.40,75.71 337.65,75.53 337.90,75.14 338.15,75.28 338.40,75.78 338.65,76.10 338.90,76.41 339.15,76.85 339.40,77.38 339.65,76.16 339.90,77.27 340.15,80.25 340.40,78.66 340.65,81.16 340.90,81.26 341.15,80.97 341.40,80.30 341.65,79.52 341.90,78.85 342.15,78.77 342.40,79.01 342.65,75.74 342.90,79.75 343.15,76.19 343.40,79.43 343.65,79.02 343.90,78.45 344.15,78.27 344.40,78.52 344.65,78.80 344.90,79.16 345.15,79.08 345.40,78.81 345.65,75.10 345.90,74.90 346.15,78.05 346.40,77.66 346.65,77.04 346.90,76.31 347.15,75.91 347.40,75.82 347.65,75.78 347.90,75.87 348.15,76.68 348.40,77.77 348.65,78.73 348.90,79.65 349.15,79.77 349.40,79.24 349.65,78.76 349.90,78.21 350.15,78.39 350.40,79.02 350.65,79.66 350.90,80.42 351.15,80.58 351.40,80.10 351.65,79.66 351.90,79.23 352.15,78.65 352.40,78.03 352.65,77.39 352.90,76.81 353.15,76.90 353.40,77.38 353.65,77.91 353.90,78.62 354.15,78.53 354.40,77.71 354.65,73.03 354.90,72.19 355.15,71.99 355.40,72.40 355.65,72.94 355.90,77.39 356.15,77.79 356.40,78.15 356.65,78.52 356.90,78.95 357.15,79.48 357.40,79.90 357.65,80.27 357.90,80.49 358.15,79.99 358.40,79.06 358.65,78.24 358.90,77.38 359.15,77.41 359.40,77.87 359.65,78.30 359.90,78.57 360.15,78.35 360.40,77.51 360.65,76.72 360.90,75.98 361.15,75.68 361.40,75.70 361.65,75.84 361.90,76.04 362.15,72.77 362.40,72.52 362.65,75.52 362.90,75.13 363.15,74.99 363.40,75.06 363.65,75.28 363.90,75.44 364.15,75.84 364.40,76.40 364.65,77.08 364.90,77.65 365.15,78.16 365.40,78.51 365.65,78.72 365.90,78.77 366.15,78.93 366.40,79.08 366.65,79.27 366.90,79.70 367.15,79.40 367.40,78.67 367.65,77.99 367.90,77.27 368.15,76.98 368.40,76.97 368.65,76.91 368.90,76.76 369.15,76.70 369.40,76.66 369.65,76.73 369.90,76.99 370.15,77.40 370.40,77.78 370.65,78.15 370.90,78.55 371.15,78.62 371.40,78.51 371.65,78.47 371.90,78.40 372.15,78.40 372.40,78.45 372.65,78.58 372.90,78.66 373.15,79.08 373.40,79.47 373.65,79.82 373.90,80.14 374.15,79.46 374.40,78.10 374.65,76.99 374.90,75.89 375.15,75.53 375.40,75.78 375.65,76.09 375.90,76.35 376.15,76.77 376.40,76.98 376.65,77.11 376.90,77.25 377.15,77.44 377.40,77.59 377.65,76.02 377.90,78.21 378.15,76.59 378.40,74.57 378.65,78.52 378.90,78.57 379.15,76.63 379.40,76.94 379.65,79.28 379.90,79.34 380.15,78.74 380.40,77.71 380.65,76.87 380.90,76.01 381.15,76.19 381.40,76.78 381.65,77.39 381.90,77.79 382.15,77.02 382.40,75.38 382.65,73.85 382.90,72.37 383.15,72.20 383.40,72.88 383.65,73.77 383.90,74.68 384.15,75.79 384.40,76.97 384.65,78.09 384.90,79.14 385.15,79.64 385.40,79.55 385.65,79.57 385.90,79.74 386.15,78.91 386.40,77.21 386.65,75.78 386.90,74.17 387.15,74.50 387.40,75.92 387.65,77.32 387.90,78.47 388.15,78.73 388.40,78.25 388.65,77.74 388.90,77.35 389.15,77.13 389.40,76.83 389.65,76.46 389.90,76.03 390.15,75.56 390.40,75.09 390.65,74.56 390.90,74.15 391.15,74.72 391.40,76.08 391.65,77.59 391.90,79.34 392.15,80.21 392.40,80.55 392.65,80.67 392.90,80.72 393.15,80.20 393.40,79.29 393.65,78.26 393.90,77.50 394.15,77.64 394.40,78.51 394.65,78.77 394.90,77.02 395.15,78.96 395.40,78.42 395.65,77.88 395.90,77.34 396.15,76.33 396.40,75.01 396.65,72.98 396.90,70.49 397.15,68.51 397.40,63.53 397.65,57.72 397.90,49.01 398.15,41.69 398.40,41.99 398.65,42.29 398.90,42.59 399.15,42.59 399.40,42.38 399.65,44.97 399.90,42.87 400.15,41.11 400.40,39.67 400.65,38.54 400.90,37.68 401.15,37.07 401.40,36.67 401.65,36.46 401.90,36.39 402.15,36.40 402.40,36.49 402.65,36.74 402.90,37.17 403.15,37.83 403.40,38.74 403.65,39.94 403.90,41.43 404.15,43.26 404.40,42.42 404.65,42.67 404.90,42.92 405.15,42.94 405.40,42.81 405.65,50.39 405.90,55.77 406.15,58.48 406.40,60.19 406.65,62.70 406.90,69.82 407.15,73.87 407.40,75.86 407.65,76.84 407.90,77.14 408.15,77.00 408.40,76.57 408.65,75.98 408.90,75.27 409.15,75.19 409.40,75.55 409.65,75.90 409.90,76.25 410.15,77.40 410.40,78.17 410.65,78.91 410.90,79.83 411.15,79.65 411.40,78.61 411.65,77.69 411.90,76.61 412.15,76.43 412.40,76.82 412.65,77.13 412.90,77.31 413.15,77.64 413.40,78.04 413.65,78.63 413.90,79.36 414.15,79.15 414.40,78.26 414.65,77.40 414.90,76.43 415.15,76.46 415.40,76.97 415.65,77.50 415.90,78.07 416.15,78.40 416.40,78.52 416.65,78.82 416.90,79.14 417.15,79.01 417.40,78.61 417.65,78.16 417.90,77.61 418.15,77.38 418.40,77.65 418.65,77.88 418.90,78.24 419.15,78.20 419.40,77.85 419.65,77.31 419.90,76.86 420.15,76.90 420.40,77.28 420.65,77.67 420.90,78.12 421.15,78.42 421.40,78.77 421.65,79.23 421.90,79.72 422.15,79.79 422.40,79.65 422.65,79.45 422.90,79.15 423.15,79.04 423.40,76.70 423.65,79.20 423.90,79.36 424.15,76.39 424.40,78.07 424.65,77.27 424.90,76.60 425.15,76.65 425.40,77.25 425.65,77.81 425.90,78.38 426.15,78.81 426.40,79.21 426.65,79.46 426.90,77.20 427.15,80.31 427.40,80.80 427.65,81.36 427.90,81.91 428.15,81.77 428.40,81.31 428.65,80.82 428.90,80.15 429.15,79.51 429.40,78.83 429.65,78.36 429.90,77.86 430.15,77.68 430.40,77.61 430.65,77.56 430.90,77.47 431.15,74.03 431.40,73.61 431.65,76.32 431.90,72.82 432.15,75.73 432.40,75.63 432.65,75.65 432.90,75.87 433.15,75.86 433.40,75.76 433.65,75.65 433.90,75.55 434.15,75.46 434.40,75.38 434.65,75.31 434.90,75.23 435.15,74.45 435.40,73.21 435.65,71.82 435.90,70.33 436.15,70.12 436.40,70.75 436.65,71.38 436.90,72.02 437.15,71.48 437.40,65.84 437.65,60.14 437.90,55.12 438.15,50.77 438.40,47.08 438.65,44.01 438.90,41.56 439.15,39.69 439.40,38.39 439.65,37.60 439.90,37.27 440.15,37.30 440.40,37.72 440.65,38.60 440.90,40.02 441.15,42.00 441.40,44.58 441.65,47.76 441.90,51.59 442.15,56.07 442.40,61.23 442.65,67.07 442.90,68.79 443.15,69.52 443.40,70.39 443.65,71.25 443.90,72.12 444.15,73.31 444.40,74.70 444.65,76.09 444.90,77.48 445.15,77.43 445.40,76.42 445.65,75.41 445.90,74.40 446.15,74.47 446.40,75.27 446.65,76.06 446.90,76.85 447.15,77.94 447.40,78.51 447.65,79.04 447.90,79.56 448.15,79.60 448.40,79.46 448.65,79.35 448.90,79.29 449.15,79.49 449.40,79.86 449.65,80.11 449.90,80.28 450.15,80.03 450.40,79.32 450.65,78.43 450.90,77.56 451.15,77.20 451.40,77.22 451.65,77.29 451.90,77.52 452.15,77.52 452.40,77.39 452.65,77.25 452.90,77.11 453.15,77.48 453.40,78.18 453.65,78.89 453.90,79.58 454.15,79.33 454.40,78.46 454.65,77.60 454.90,76.89 455.15,76.56 455.40,76.43 455.65,76.22 455.90,76.12 456.15,76.68 456.40,77.85 456.65,79.06 456.90,80.39 457.15,80.89 457.40,80.97 457.65,81.09 457.90,81.32 458.15,81.51 458.40,81.59 458.65,81.52 458.90,81.43 459.15,81.03 459.40,80.64 459.65,80.35 459.90,80.09 460.15,79.81 460.40,79.53 460.65,79.12 460.90,78.80 461.15,78.38 461.40,77.77 461.65,77.07 461.90,76.37 462.15,76.51 462.40,77.39 462.65,78.39 462.90,79.53 463.15,80.26 463.40,80.65 463.65,81.03 463.90,81.21 464.15,81.23 464.40,77.77 464.65,80.68 464.90,77.31 465.15,79.93 465.40,75.87 465.65,78.21 465.90,77.35 466.15,76.93 466.40,76.69 466.65,76.27 466.90,75.77 467.15,75.89 467.40,76.39 467.65,76.89 467.90,77.66 468.15,78.05 468.40,78.19 468.65,78.29 468.90,78.49 469.15,78.78 469.40,79.27 469.65,79.72 469.90,80.18 470.15,79.78 470.40,79.04 470.65,78.39 470.90,77.84 471.15,77.78 471.40,78.15 471.65,78.49 471.90,78.74 472.15,78.37 472.40,77.67 472.65,77.05 472.90,76.44 473.15,76.78 473.40,77.91 473.65,79.12 473.90,80.35 474.15,80.20 474.40,79.20 474.65,78.15 474.90,77.06 475.15,76.57 475.40,76.79 475.65,76.92 475.90,77.15 476.15,77.40 476.40,77.74 476.65,78.10 476.90,78.46 477.15,78.76 477.40,79.03 477.65,79.27 477.90,79.32 478.15,78.61 478.40,77.28 478.65,76.07 478.90,74.93 479.15,74.99 479.40,75.75 479.65,76.74 479.90,77.66 480.15,76.97 480.40,75.10 480.65,73.25 480.90,71.29 481.15,71.46 481.40,73.05 481.65,74.76 481.90,76.67 482.15,77.83 482.40,78.30 482.65,78.74 482.90,79.16 483.15,76.84 483.40,79.33 483.65,79.45 483.90,77.10 484.15,76.63 484.40,78.44 484.65,77.80 484.90,77.21 485.15,77.01 485.40,77.18 485.65,77.14 485.90,77.15 486.15,76.53 486.40,75.53 486.65,74.46 486.90,73.65 487.15,74.21 487.40,75.69 487.65,77.32 487.90,78.87 488.15,79.62 488.40,79.66 488.65,79.60 488.90,79.58 489.15,79.25 489.40,78.58 489.65,78.01 489.90,77.69 490.15,77.50 490.40,77.52 490.65,77.42 490.90,77.32 491.15,77.24 491.40,77.24 491.65,77.21 491.90,77.27 492.15,77.34 492.40,77.73 492.65,78.33 492.90,78.92 493.15,79.32 493.40,79.64 493.65,79.95 493.90,80.06 494.15,80.15 494.40,80.17 494.65,80.12 494.90,80.20 495.15,80.07 495.40,79.78 495.65,79.45 495.90,79.19 496.15,79.16 496.40,79.30 496.65,79.36 496.90,75.83 497.15,75.73 497.40,75.63 497.65,78.99 497.90,78.92 498.15,78.83 498.40,78.82 498.65,78.74 498.90,78.75 499.15,78.36 499.40,77.66 499.65,76.78 499.90,75.92 500.15,75.90 500.40,74.75 500.65,77.17 500.90,78.07 501.15,77.97 501.40,77.20 501.65,76.53 501.90,75.64 502.15,75.46 502.40,75.73 502.65,76.13 502.90,76.54 503.15,77.05 503.40,77.55 503.65,78.13 503.90,78.73 504.15,79.24 504.40,79.60 504.65,79.92 504.90,80.16 505.15,80.37 505.40,80.54 505.65,80.76 505.90,79.58 506.15,80.45 506.40,79.30 506.65,78.16 506.90,77.04 507.15,76.91 507.40,77.66 507.65,78.22 507.90,78.72 508.15,78.91 508.40,78.90 508.65,78.91 508.90,79.06 509.15,78.93 509.40,78.53 509.65,78.33 509.90,78.12 510.15,77.56 510.40,76.85 510.65,76.12 510.90,75.41 511.15,75.68 511.40,76.75 511.65,77.89 511.90,79.17 512.15,78.95 512.40,77.93 512.5,82.70" fill="#e0304f" fill-opacity="0.07"/>
<polygon points="298.9,82.70 298.90,81.55 299.15,81.62 299.40,81.69 299.65,81.82 299.90,81.88 300.15,81.83 300.40,81.67 300.65,81.46 300.90,81.17 301.15,80.90 301.40,80.60 301.65,80.52 301.90,80.51 302.15,80.58 302.40,80.72 302.65,80.96 302.90,81.11 303.15,81.13 303.40,81.24 303.65,81.25 303.90,81.28 304.15,81.33 304.40,81.48 304.65,81.54 304.90,81.61 305.15,81.65 305.40,81.58 305.65,81.44 305.90,81.31 306.15,81.22 306.40,81.16 306.65,81.22 306.90,81.35 307.15,81.48 307.40,81.68 307.65,81.84 307.90,81.92 308.15,81.96 308.40,82.00 308.65,81.90 308.90,81.79 309.15,81.77 309.40,81.76 309.65,81.79 309.90,81.88 310.15,81.99 310.40,82.07 310.65,82.05 310.90,82.03 311.15,81.94 311.40,81.75 311.65,81.57 311.90,81.46 312.15,81.37 312.40,81.33 312.65,81.37 312.90,81.41 313.15,81.44 313.40,81.44 313.65,81.42 313.90,81.36 314.15,81.25 314.40,81.20 314.65,81.10 314.90,81.09 315.15,81.20 315.40,81.32 315.65,81.49 315.90,81.58 316.15,81.58 316.40,81.37 316.65,81.09 316.90,80.71 317.15,80.39 317.40,80.08 317.65,79.99 317.90,79.98 318.15,80.09 318.40,80.33 318.65,80.65 318.90,80.81 319.15,81.03 319.40,81.13 319.65,81.13 319.90,81.03 320.15,81.07 320.40,81.01 320.65,80.94 320.90,80.82 321.15,80.71 321.40,80.45 321.65,80.27 321.90,80.13 322.15,80.14 322.40,80.21 322.65,80.39 322.90,80.66 323.15,80.98 323.40,81.29 323.65,81.65 323.90,81.94 324.15,82.08 324.40,82.18 324.65,82.22 324.90,82.14 325.15,82.06 325.40,81.95 325.65,81.81 325.90,81.72 326.15,81.75 326.40,81.80 326.65,81.86 326.90,81.99 327.15,81.93 327.40,81.79 327.65,81.59 327.90,81.38 328.15,81.16 328.40,81.10 328.65,81.13 328.90,81.20 329.15,81.37 329.40,81.53 329.65,81.64 329.90,81.69 330.15,81.71 330.40,81.65 330.65,81.59 330.90,81.55 331.15,81.56 331.40,81.65 331.65,81.80 331.90,81.89 332.15,82.03 332.40,82.17 332.65,82.24 332.90,82.19 333.15,82.16 333.40,82.08 333.65,81.89 333.90,81.73 334.15,81.70 334.40,81.72 334.65,81.79 334.90,81.92 335.15,82.00 335.40,81.97 335.65,81.81 335.90,81.62 336.15,81.44 336.40,81.22 336.65,81.10 336.90,81.17 337.15,81.20 337.40,81.31 337.65,81.46 337.90,81.45 338.15,81.29 338.40,81.04 338.65,80.67 338.90,80.28 339.15,80.04 339.40,79.90 339.65,80.04 339.90,80.34 340.15,80.85 340.40,81.35 340.65,81.74 340.90,81.92 341.15,81.98 341.40,81.87 341.65,81.69 341.90,81.58 342.15,81.58 342.40,81.59 342.65,81.67 342.90,81.82 343.15,81.94 343.40,81.93 343.65,81.89 343.90,81.72 344.15,81.45 344.40,81.23 344.65,81.03 344.90,80.90 345.15,80.91 345.40,81.08 345.65,81.25 345.90,81.48 346.15,81.68 346.40,81.81 346.65,81.78 346.90,81.66 347.15,81.54 347.40,81.49 347.65,81.48 347.90,81.56 348.15,81.80 348.40,81.99 348.65,82.09 348.90,82.15 349.15,82.14 349.40,82.01 349.65,81.91 349.90,81.76 350.15,81.67 350.40,81.58 350.65,81.51 350.90,81.52 351.15,81.62 351.40,81.59 351.65,81.59 351.90,81.60 352.15,81.50 352.40,81.36 352.65,81.22 352.90,81.11 353.15,81.08 353.40,81.06 353.65,81.08 353.90,81.23 354.15,81.37 354.40,81.35 354.65,81.37 354.90,81.34 355.15,81.13 355.40,80.94 355.65,80.84 355.90,80.76 356.15,80.82 356.40,81.03 356.65,81.25 356.90,81.50 357.15,81.74 357.40,81.82 357.65,81.87 357.90,81.81 358.15,81.69 358.40,81.57 358.65,81.54 358.90,81.48 359.15,81.55 359.40,81.60 359.65,81.62 359.90,81.53 360.15,81.51 360.40,81.32 360.65,81.17 360.90,81.06 361.15,81.04 361.40,81.11 361.65,81.27 361.90,81.47 362.15,81.71 362.40,81.84 362.65,81.93 362.90,81.96 363.15,81.88 363.40,81.76 363.65,81.75 363.90,81.70 364.15,81.73 364.40,81.83 364.65,82.01 364.90,82.10 365.15,82.21 365.40,82.24 365.65,82.16 365.90,81.96 366.15,81.77 366.40,81.54 366.65,81.34 366.90,81.31 367.15,81.30 367.40,81.36 367.65,81.46 367.90,81.52 368.15,81.51 368.40,81.45 368.65,81.34 368.90,81.17 369.15,81.08 369.40,81.01 369.65,81.03 369.90,81.19 370.15,81.41 370.40,81.58 370.65,81.74 370.90,81.92 371.15,81.95 371.40,81.92 371.65,81.94 371.90,81.93 372.15,81.91 372.40,81.87 372.65,81.89 372.90,81.86 373.15,81.90 373.40,81.79 373.65,81.65 373.90,81.49 374.15,81.19 374.40,80.80 374.65,80.59 374.90,80.40 375.15,80.33 375.40,80.45 375.65,80.61 375.90,80.74 376.15,81.00 376.40,81.11 376.65,81.14 376.90,81.20 377.15,81.23 377.40,81.20 377.65,81.20 377.90,81.36 378.15,81.51 378.40,81.69 378.65,81.91 378.90,82.10 379.15,82.10 379.40,82.10 379.65,82.08 379.90,81.88 380.15,81.76 380.40,81.69 380.65,81.77 380.90,81.82 381.15,82.02 381.40,82.09 381.65,82.18 381.90,82.12 382.15,81.96 382.40,81.68 382.65,81.48 382.90,81.31 383.15,81.22 383.40,81.15 383.65,81.24 383.90,81.34 384.15,81.45 384.40,81.52 384.65,81.55 384.90,81.51 385.15,81.50 385.40,81.33 385.65,81.23 385.90,81.26 386.15,81.41 386.40,81.50 386.65,81.79 386.90,81.95 387.15,82.10 387.40,82.12 387.65,82.11 387.90,81.92 388.15,81.86 388.40,81.78 388.65,81.69 388.90,81.69 389.15,81.76 389.40,81.74 389.65,81.66 389.90,81.53 390.15,81.29 390.40,80.97 390.65,80.62 390.90,80.35 391.15,80.18 391.40,80.19 391.65,80.31 391.90,80.61 392.15,80.89 392.40,81.20 392.65,81.33 392.90,81.42 393.15,81.44 393.40,81.40 393.65,81.28 393.90,81.35 394.15,81.40 394.40,81.51 394.65,81.16 394.90,80.90 395.15,80.63 395.40,80.36 395.65,80.09 395.90,79.82 396.15,79.55 396.40,79.28 396.65,78.48 396.90,77.33 397.15,76.18 397.40,72.51 397.65,68.21 397.90,61.71 398.15,56.06 398.40,56.06 398.65,56.06 398.90,56.06 399.15,56.06 399.40,56.06 399.65,60.09 399.90,64.12 400.15,65.02 400.40,65.92 400.65,65.47 400.90,64.13 401.15,63.18 401.40,62.51 401.65,64.86 401.90,66.43 402.15,66.81 402.40,67.20 402.65,67.23 402.90,67.04 403.15,66.85 403.40,65.56 403.65,63.99 403.90,61.25 404.15,56.75 404.40,55.85 404.65,55.85 404.90,55.85 405.15,55.85 405.40,55.85 405.65,61.69 405.90,65.87 406.15,67.55 406.40,68.16 406.65,69.37 406.90,74.07 407.15,76.92 407.40,78.53 407.65,79.37 407.90,79.69 408.15,80.01 408.40,80.34 408.65,80.53 408.90,80.64 409.15,80.74 409.40,80.85 409.65,80.96 409.90,81.07 410.15,81.54 410.40,81.57 410.65,81.58 410.90,81.73 411.15,81.88 411.40,81.95 411.65,82.11 411.90,82.14 412.15,82.04 412.40,81.82 412.65,81.53 412.90,81.14 413.15,80.85 413.40,80.58 413.65,80.46 413.90,80.45 414.15,80.57 414.40,80.74 414.65,80.92 414.90,81.03 415.15,81.13 415.40,81.06 415.65,81.00 415.90,80.98 416.15,81.04 416.40,81.12 416.65,81.33 416.90,81.57 417.15,81.68 417.40,81.74 417.65,81.76 417.90,81.71 418.15,81.59 418.40,81.63 418.65,81.66 418.90,81.77 419.15,81.96 419.40,82.15 419.65,82.21 419.90,82.33 420.15,82.26 420.40,82.06 420.65,81.87 420.90,81.73 421.15,81.54 421.40,81.45 421.65,81.43 421.90,81.44 422.15,81.46 422.40,81.54 422.65,81.57 422.90,81.52 423.15,81.33 423.40,81.14 423.65,80.85 423.90,80.66 424.15,80.55 424.40,80.58 424.65,80.60 424.90,80.73 425.15,80.84 425.40,81.00 425.65,81.12 425.90,81.24 426.15,81.34 426.40,81.45 426.65,81.46 426.90,81.60 427.15,81.69 427.40,81.81 427.65,81.98 427.90,82.14 428.15,82.11 428.40,82.06 428.65,81.98 428.90,81.77 429.15,81.61 429.40,81.44 429.65,81.44 429.90,81.41 430.15,81.47 430.40,81.50 430.65,81.55 430.90,81.57 431.15,81.49 431.40,81.35 431.65,81.19 431.90,81.11 432.15,81.05 432.40,81.08 432.65,81.19 432.90,81.46 433.15,81.36 433.40,81.07 433.65,80.77 433.90,80.48 434.15,80.15 434.40,79.81 434.65,79.47 434.90,79.13 435.15,78.79 435.40,78.45 435.65,78.00 435.90,77.48 436.15,76.96 436.40,76.44 436.65,75.92 436.90,75.41 437.15,74.89 437.40,74.37 437.65,73.86 437.90,73.34 438.15,72.83 438.40,72.05 438.65,71.21 438.90,70.37 439.15,69.10 439.40,67.53 439.65,65.60 439.90,62.24 440.15,62.92 440.40,66.28 440.65,68.25 440.90,70.22 441.15,70.71 441.40,70.23 441.65,70.50 441.90,71.27 442.15,72.03 442.40,72.83 442.65,73.64 442.90,74.44 443.15,75.14 443.40,75.76 443.65,76.37 443.90,76.99 444.15,77.53 444.40,78.01 444.65,78.50 444.90,78.98 445.15,79.37 445.40,79.69 445.65,80.01 445.90,80.34 446.15,80.56 446.40,80.72 446.65,80.88 446.90,81.05 447.15,81.45 447.40,81.47 447.65,81.45 447.90,81.44 448.15,81.36 448.40,81.36 448.65,81.38 448.90,81.44 449.15,81.58 449.40,81.77 449.65,81.86 449.90,81.90 450.15,81.97 450.40,81.92 450.65,81.74 450.90,81.58 451.15,81.38 451.40,81.20 451.65,81.06 451.90,81.03 452.15,81.07 452.40,81.16 452.65,81.24 452.90,81.33 453.15,81.35 453.40,81.30 453.65,81.27 453.90,81.22 454.15,81.20 454.40,81.22 454.65,81.25 454.90,81.39 455.15,81.49 455.40,81.51 455.65,81.48 455.90,81.53 456.15,81.45 456.40,81.41 456.65,81.40 456.90,81.48 457.15,81.51 457.40,81.62 457.65,81.75 457.90,81.96 458.15,82.12 458.40,82.18 458.65,82.13 458.90,82.07 459.15,81.88 459.40,81.78 459.65,81.75 459.90,81.75 460.15,81.76 460.40,81.79 460.65,81.74 460.90,81.74 461.15,81.75 461.40,81.67 461.65,81.52 461.90,81.37 462.15,81.16 462.40,81.04 462.65,81.01 462.90,81.08 463.15,81.24 463.40,81.41 463.65,81.57 463.90,81.59 464.15,81.62 464.40,81.51 464.65,81.44 464.90,81.40 465.15,81.51 465.40,81.61 465.65,81.78 465.90,81.92 466.15,82.03 466.40,82.05 466.65,81.92 466.90,81.74 467.15,81.54 467.40,81.28 467.65,81.04 467.90,80.99 468.15,81.02 468.40,81.11 468.65,81.16 468.90,81.29 469.15,81.28 469.40,81.27 469.65,81.23 469.90,81.21 470.15,81.07 470.40,81.02 470.65,81.04 470.90,81.14 471.15,81.25 471.40,81.44 471.65,81.61 471.90,81.71 472.15,81.68 472.40,81.61 472.65,81.60 472.90,81.59 473.15,81.58 473.40,81.67 473.65,81.82 473.90,81.99 474.15,82.07 474.40,82.15 474.65,82.19 474.90,82.20 475.15,82.00 475.40,81.90 475.65,81.73 475.90,81.63 476.15,81.57 476.40,81.59 476.65,81.64 476.90,81.67 477.15,81.65 477.40,81.60 477.65,81.53 477.90,81.32 478.15,81.11 478.40,80.83 478.65,80.65 478.90,80.51 479.15,80.49 479.40,80.49 479.65,80.66 479.90,80.77 480.15,80.90 480.40,80.97 480.65,81.04 480.90,81.03 481.15,81.05 481.40,81.09 481.65,81.21 481.90,81.49 482.15,81.78 482.40,81.95 482.65,82.10 482.90,82.23 483.15,82.12 483.40,81.96 483.65,81.85 483.90,81.73 484.15,81.59 484.40,81.61 484.65,81.63 484.90,81.69 485.15,81.68 485.40,81.70 485.65,81.57 485.90,81.48 486.15,81.35 486.40,81.22 486.65,81.04 486.90,81.07 487.15,81.14 487.40,81.26 487.65,81.48 487.90,81.65 488.15,81.83 488.40,81.87 488.65,81.84 488.90,81.84 489.15,81.83 489.40,81.71 489.65,81.67 489.90,81.82 490.15,81.92 490.40,82.07 490.65,82.14 490.90,82.20 491.15,82.03 491.40,81.74 491.65,81.43 491.90,81.19 492.15,80.82 492.40,80.62 492.65,80.57 492.90,80.51 493.15,80.57 493.40,80.76 493.65,80.94 493.90,80.97 494.15,80.98 494.40,80.95 494.65,80.86 494.90,80.87 495.15,81.00 495.40,81.18 495.65,81.33 495.90,81.54 496.15,81.69 496.40,81.83 496.65,81.91 496.90,81.95 497.15,81.90 497.40,81.84 497.65,81.73 497.90,81.70 498.15,81.72 498.40,81.84 498.65,81.91 498.90,82.04 499.15,82.10 499.40,82.09 499.65,81.95 499.90,81.82 500.15,81.64 500.40,81.43 500.65,81.35 500.90,81.41 501.15,81.46 501.40,81.50 501.65,81.62 501.90,81.58 502.15,81.46 502.40,81.28 502.65,81.21 502.90,81.15 503.15,81.20 503.40,81.28 503.65,81.43 503.90,81.58 504.15,81.77 504.40,81.91 504.65,82.02 504.90,82.07 505.15,82.00 505.40,81.86 505.65,81.74 505.90,81.74 506.15,81.71 506.40,81.81 506.65,81.93 506.90,82.05 507.15,82.04 507.40,82.09 507.65,82.01 507.90,81.88 508.15,81.71 508.40,81.50 508.65,81.32 508.90,81.24 509.15,81.24 509.40,81.22 509.65,81.36 509.90,81.48 510.15,81.47 510.40,81.42 510.65,81.35 510.90,81.31 511.15,81.22 511.40,81.21 511.65,81.25 511.90,81.40 512.15,81.40 512.40,81.45 512.5,82.70" fill="#d83a5c" fill-opacity="0.42"/>
<polyline points="396.65,80.79 396.90,80.03 397.15,78.83 397.40,75.91 397.65,72.80 397.90,68.78 398.15,65.75 398.40,66.40 398.65,66.86 398.90,66.87 399.15,66.42 399.40,65.77 399.65,67.79 399.90,70.26 400.15,71.24 400.40,72.44 400.65,72.66 400.90,71.89 401.15,70.90 401.40,69.84 401.65,70.78 401.90,71.66 402.15,72.29 402.40,73.17 402.65,73.72 402.90,73.72 403.15,73.24 403.40,71.80 403.65,70.28 403.90,68.44 404.15,65.99 404.40,66.06 404.65,66.62 404.90,66.79 405.15,66.47 405.40,65.85 405.65,68.90 405.90,71.30 406.15,72.63 406.40,73.62 406.65,74.96 406.90,78.09 407.15,79.59 407.40,79.98 407.65,79.91 407.90,79.86 408.15,80.31 408.40,81.10" fill="none" stroke="#c8002c" stroke-width="0.8" stroke-opacity="0.75"/>
<polyline points="435.15,80.97 435.40,80.73 435.65,79.98 435.90,79.01 436.15,78.23 436.40,77.91 436.65,78.04 436.90,78.37 437.15,78.52 437.40,78.23 437.65,77.48 437.90,76.51 438.15,75.70 438.40,75.16 438.65,75.06 438.90,75.18 439.15,74.90 439.40,74.01 439.65,72.43 439.90,69.70 440.15,69.59 440.40,71.56 440.65,73.15 440.90,75.01 441.15,75.87 441.40,75.70 441.65,75.52 441.90,75.36 442.15,75.28 442.40,75.62 442.65,76.44 442.90,77.57 443.15,78.57 443.40,79.14 443.65,79.22 443.90,78.99 444.15,78.74 444.40,78.82 444.65,79.40 444.90,80.31 445.15,81.14 445.40,81.58 445.65,81.53 445.90,81.13" fill="none" stroke="#c8002c" stroke-width="0.8" stroke-opacity="0.75"/>
<polyline points="396.65,81.45 396.90,80.89 397.15,79.89 397.40,77.59 397.65,75.21 397.90,72.30 398.15,70.23 398.40,70.88 398.65,71.34 398.90,71.35 399.15,70.90 399.40,70.25 399.65,71.59 399.90,73.36 400.15,74.19 400.40,75.25 400.65,75.54 400.90,75.00 401.15,74.17 401.40,73.22 401.65,73.77 401.90,74.38 402.15,74.94 402.40,75.75 402.65,76.30 402.90,76.33 403.15,75.88 403.40,74.66 403.65,73.41 403.90,72.03 404.15,70.35 404.40,70.58 404.65,71.14 404.90,71.30 405.15,70.99 405.40,70.36 405.65,72.42 405.90,74.11 406.15,75.16 406.40,76.04 406.65,77.17 406.90,79.51 407.15,80.52 407.40,80.64 407.65,80.42 407.90,80.32 408.15,80.71 408.40,81.45" fill="none" stroke="#c8002c" stroke-width="0.8" stroke-opacity="0.5"/>
<polyline points="435.15,81.58 435.40,81.41 435.65,80.73 435.90,79.85 436.15,79.16 436.40,78.92 436.65,79.14 436.90,79.56 437.15,79.80 437.40,79.60 437.65,78.93 437.90,78.05 438.15,77.33 438.40,76.92 438.65,76.96 438.90,77.23 439.15,77.16 439.40,76.54 439.65,75.28 439.90,73.13 440.15,72.90 440.40,74.30 440.65,75.56 440.90,77.09 441.15,77.85 441.40,77.77 441.65,77.54 441.90,77.26 442.15,77.05 442.40,77.24 442.65,77.93 442.90,78.92 443.15,79.80 443.40,80.27 443.65,80.24 443.90,79.90 444.15,79.56 444.40,79.57 444.65,80.06 444.90,80.89 445.15,81.66 445.40,81.76 445.65,81.76 445.90,81.48" fill="none" stroke="#c8002c" stroke-width="0.8" stroke-opacity="0.5"/>
<polyline points="298.90,81.55 299.15,81.62 299.40,81.69 299.65,81.82 299.90,81.88 300.15,81.83 300.40,81.67 300.65,81.46 300.90,81.17 301.15,80.90 301.40,80.60 301.65,80.52 301.90,80.51 302.15,80.58 302.40,80.72 302.65,80.96 302.90,81.11 303.15,81.13 303.40,81.24 303.65,81.25 303.90,81.28 304.15,81.33 304.40,81.48 304.65,81.54 304.90,81.61 305.15,81.65 305.40,81.58 305.65,81.44 305.90,81.31 306.15,81.22 306.40,81.16 306.65,81.22 306.90,81.35 307.15,81.48 307.40,81.68 307.65,81.84 307.90,81.92 308.15,81.96 308.40,82.00 308.65,81.90 308.90,81.79 309.15,81.77 309.40,81.76 309.65,81.79 309.90,81.88 310.15,81.99 310.40,82.07 310.65,82.05 310.90,82.03 311.15,81.94 311.40,81.75 311.65,81.57 311.90,81.46 312.15,81.37 312.40,81.33 312.65,81.37 312.90,81.41 313.15,81.44 313.40,81.44 313.65,81.42 313.90,81.36 314.15,81.25 314.40,81.20 314.65,81.10 314.90,81.09 315.15,81.20 315.40,81.32 315.65,81.49 315.90,81.58 316.15,81.58 316.40,81.37 316.65,81.09 316.90,80.71 317.15,80.39 317.40,80.08 317.65,79.99 317.90,79.98 318.15,80.09 318.40,80.33 318.65,80.65 318.90,80.81 319.15,81.03 319.40,81.13 319.65,81.13 319.90,81.03 320.15,81.07 320.40,81.01 320.65,80.94 320.90,80.82 321.15,80.71 321.40,80.45 321.65,80.27 321.90,80.13 322.15,80.14 322.40,80.21 322.65,80.39 322.90,80.66 323.15,80.98 323.40,81.29 323.65,81.65 323.90,81.94 324.15,82.08 324.40,82.18 324.65,82.22 324.90,82.14 325.15,82.06 325.40,81.95 325.65,81.81 325.90,81.72 326.15,81.75 326.40,81.80 326.65,81.86 326.90,81.99 327.15,81.93 327.40,81.79 327.65,81.59 327.90,81.38 328.15,81.16 328.40,81.10 328.65,81.13 328.90,81.20 329.15,81.37 329.40,81.53 329.65,81.64 329.90,81.69 330.15,81.71 330.40,81.65 330.65,81.59 330.90,81.55 331.15,81.56 331.40,81.65 331.65,81.80 331.90,81.89 332.15,82.03 332.40,82.17 332.65,82.24 332.90,82.19 333.15,82.16 333.40,82.08 333.65,81.89 333.90,81.73 334.15,81.70 334.40,81.72 334.65,81.79 334.90,81.92 335.15,82.00 335.40,81.97 335.65,81.81 335.90,81.62 336.15,81.44 336.40,81.22 336.65,81.10 336.90,81.17 337.15,81.20 337.40,81.31 337.65,81.46 337.90,81.45 338.15,81.29 338.40,81.04 338.65,80.67 338.90,80.28 339.15,80.04 339.40,79.90 339.65,80.04 339.90,80.34 340.15,80.85 340.40,81.35 340.65,81.74 340.90,81.92 341.15,81.98 341.40,81.87 341.65,81.69 341.90,81.58 342.15,81.58 342.40,81.59 342.65,81.67 342.90,81.82 343.15,81.94 343.40,81.93 343.65,81.89 343.90,81.72 344.15,81.45 344.40,81.23 344.65,81.03 344.90,80.90 345.15,80.91 345.40,81.08 345.65,81.25 345.90,81.48 346.15,81.68 346.40,81.81 346.65,81.78 346.90,81.66 347.15,81.54 347.40,81.49 347.65,81.48 347.90,81.56 348.15,81.80 348.40,81.99 348.65,82.09 348.90,82.15 349.15,82.14 349.40,82.01 349.65,81.91 349.90,81.76 350.15,81.67 350.40,81.58 350.65,81.51 350.90,81.52 351.15,81.62 351.40,81.59 351.65,81.59 351.90,81.60 352.15,81.50 352.40,81.36 352.65,81.22 352.90,81.11 353.15,81.08 353.40,81.06 353.65,81.08 353.90,81.23 354.15,81.37 354.40,81.35 354.65,81.37 354.90,81.34 355.15,81.13 355.40,80.94 355.65,80.84 355.90,80.76 356.15,80.82 356.40,81.03 356.65,81.25 356.90,81.50 357.15,81.74 357.40,81.82 357.65,81.87 357.90,81.81 358.15,81.69 358.40,81.57 358.65,81.54 358.90,81.48 359.15,81.55 359.40,81.60 359.65,81.62 359.90,81.53 360.15,81.51 360.40,81.32 360.65,81.17 360.90,81.06 361.15,81.04 361.40,81.11 361.65,81.27 361.90,81.47 362.15,81.71 362.40,81.84 362.65,81.93 362.90,81.96 363.15,81.88 363.40,81.76 363.65,81.75 363.90,81.70 364.15,81.73 364.40,81.83 364.65,82.01 364.90,82.10 365.15,82.21 365.40,82.24 365.65,82.16 365.90,81.96 366.15,81.77 366.40,81.54 366.65,81.34 366.90,81.31 367.15,81.30 367.40,81.36 367.65,81.46 367.90,81.52 368.15,81.51 368.40,81.45 368.65,81.34 368.90,81.17 369.15,81.08 369.40,81.01 369.65,81.03 369.90,81.19 370.15,81.41 370.40,81.58 370.65,81.74 370.90,81.92 371.15,81.95 371.40,81.92 371.65,81.94 371.90,81.93 372.15,81.91 372.40,81.87 372.65,81.89 372.90,81.86 373.15,81.90 373.40,81.79 373.65,81.65 373.90,81.49 374.15,81.19 374.40,80.80 374.65,80.59 374.90,80.40 375.15,80.33 375.40,80.45 375.65,80.61 375.90,80.74 376.15,81.00 376.40,81.11 376.65,81.14 376.90,81.20 377.15,81.23 377.40,81.20 377.65,81.20 377.90,81.36 378.15,81.51 378.40,81.69 378.65,81.91 378.90,82.10 379.15,82.10 379.40,82.10 379.65,82.08 379.90,81.88 380.15,81.76 380.40,81.69 380.65,81.77 380.90,81.82 381.15,82.02 381.40,82.09 381.65,82.18 381.90,82.12 382.15,81.96 382.40,81.68 382.65,81.48 382.90,81.31 383.15,81.22 383.40,81.15 383.65,81.24 383.90,81.34 384.15,81.45 384.40,81.52 384.65,81.55 384.90,81.51 385.15,81.50 385.40,81.33 385.65,81.23 385.90,81.26 386.15,81.41 386.40,81.50 386.65,81.79 386.90,81.95 387.15,82.10 387.40,82.12 387.65,82.11 387.90,81.92 388.15,81.86 388.40,81.78 388.65,81.69 388.90,81.69 389.15,81.76 389.40,81.74 389.65,81.66 389.90,81.53 390.15,81.29 390.40,80.97 390.65,80.62 390.90,80.35 391.15,80.18 391.40,80.19 391.65,80.31 391.90,80.61 392.15,80.89 392.40,81.20 392.65,81.33 392.90,81.42 393.15,81.44 393.40,81.40 393.65,81.28 393.90,81.35 394.15,81.40 394.40,81.51 394.65,81.16 394.90,80.90 395.15,80.63 395.40,80.36 395.65,80.09 395.90,79.82 396.15,79.55 396.40,79.28 396.65,78.48 396.90,77.33 397.15,76.18 397.40,72.51 397.65,68.21 397.90,61.71 398.15,56.06 398.40,56.06 398.65,56.06 398.90,56.06 399.15,56.06 399.40,56.06 399.65,60.09 399.90,64.12 400.15,65.02 400.40,65.92 400.65,65.47 400.90,64.13 401.15,63.18 401.40,62.51 401.65,64.86 401.90,66.43 402.15,66.81 402.40,67.20 402.65,67.23 402.90,67.04 403.15,66.85 403.40,65.56 403.65,63.99 403.90,61.25 404.15,56.75 404.40,55.85 404.65,55.85 404.90,55.85 405.15,55.85 405.40,55.85 405.65,61.69 405.90,65.87 406.15,67.55 406.40,68.16 406.65,69.37 406.90,74.07 407.15,76.92 407.40,78.53 407.65,79.37 407.90,79.69 408.15,80.01 408.40,80.34 408.65,80.53 408.90,80.64 409.15,80.74 409.40,80.85 409.65,80.96 409.90,81.07 410.15,81.54 410.40,81.57 410.65,81.58 410.90,81.73 411.15,81.88 411.40,81.95 411.65,82.11 411.90,82.14 412.15,82.04 412.40,81.82 412.65,81.53 412.90,81.14 413.15,80.85 413.40,80.58 413.65,80.46 413.90,80.45 414.15,80.57 414.40,80.74 414.65,80.92 414.90,81.03 415.15,81.13 415.40,81.06 415.65,81.00 415.90,80.98 416.15,81.04 416.40,81.12 416.65,81.33 416.90,81.57 417.15,81.68 417.40,81.74 417.65,81.76 417.90,81.71 418.15,81.59 418.40,81.63 418.65,81.66 418.90,81.77 419.15,81.96 419.40,82.15 419.65,82.21 419.90,82.33 420.15,82.26 420.40,82.06 420.65,81.87 420.90,81.73 421.15,81.54 421.40,81.45 421.65,81.43 421.90,81.44 422.15,81.46 422.40,81.54 422.65,81.57 422.90,81.52 423.15,81.33 423.40,81.14 423.65,80.85 423.90,80.66 424.15,80.55 424.40,80.58 424.65,80.60 424.90,80.73 425.15,80.84 425.40,81.00 425.65,81.12 425.90,81.24 426.15,81.34 426.40,81.45 426.65,81.46 426.90,81.60 427.15,81.69 427.40,81.81 427.65,81.98 427.90,82.14 428.15,82.11 428.40,82.06 428.65,81.98 428.90,81.77 429.15,81.61 429.40,81.44 429.65,81.44 429.90,81.41 430.15,81.47 430.40,81.50 430.65,81.55 430.90,81.57 431.15,81.49 431.40,81.35 431.65,81.19 431.90,81.11 432.15,81.05 432.40,81.08 432.65,81.19 432.90,81.46 433.15,81.36 433.40,81.07 433.65,80.77 433.90,80.48 434.15,80.15 434.40,79.81 434.65,79.47 434.90,79.13 435.15,78.79 435.40,78.45 435.65,78.00 435.90,77.48 436.15,76.96 436.40,76.44 436.65,75.92 436.90,75.41 437.15,74.89 437.40,74.37 437.65,73.86 437.90,73.34 438.15,72.83 438.40,72.05 438.65,71.21 438.90,70.37 439.15,69.10 439.40,67.53 439.65,65.60 439.90,62.24 440.15,62.92 440.40,66.28 440.65,68.25 440.90,70.22 441.15,70.71 441.40,70.23 441.65,70.50 441.90,71.27 442.15,72.03 442.40,72.83 442.65,73.64 442.90,74.44 443.15,75.14 443.40,75.76 443.65,76.37 443.90,76.99 444.15,77.53 444.40,78.01 444.65,78.50 444.90,78.98 445.15,79.37 445.40,79.69 445.65,80.01 445.90,80.34 446.15,80.56 446.40,80.72 446.65,80.88 446.90,81.05 447.15,81.45 447.40,81.47 447.65,81.45 447.90,81.44 448.15,81.36 448.40,81.36 448.65,81.38 448.90,81.44 449.15,81.58 449.40,81.77 449.65,81.86 449.90,81.90 450.15,81.97 450.40,81.92 450.65,81.74 450.90,81.58 451.15,81.38 451.40,81.20 451.65,81.06 451.90,81.03 452.15,81.07 452.40,81.16 452.65,81.24 452.90,81.33 453.15,81.35 453.40,81.30 453.65,81.27 453.90,81.22 454.15,81.20 454.40,81.22 454.65,81.25 454.90,81.39 455.15,81.49 455.40,81.51 455.65,81.48 455.90,81.53 456.15,81.45 456.40,81.41 456.65,81.40 456.90,81.48 457.15,81.51 457.40,81.62 457.65,81.75 457.90,81.96 458.15,82.12 458.40,82.18 458.65,82.13 458.90,82.07 459.15,81.88 459.40,81.78 459.65,81.75 459.90,81.75 460.15,81.76 460.40,81.79 460.65,81.74 460.90,81.74 461.15,81.75 461.40,81.67 461.65,81.52 461.90,81.37 462.15,81.16 462.40,81.04 462.65,81.01 462.90,81.08 463.15,81.24 463.40,81.41 463.65,81.57 463.90,81.59 464.15,81.62 464.40,81.51 464.65,81.44 464.90,81.40 465.15,81.51 465.40,81.61 465.65,81.78 465.90,81.92 466.15,82.03 466.40,82.05 466.65,81.92 466.90,81.74 467.15,81.54 467.40,81.28 467.65,81.04 467.90,80.99 468.15,81.02 468.40,81.11 468.65,81.16 468.90,81.29 469.15,81.28 469.40,81.27 469.65,81.23 469.90,81.21 470.15,81.07 470.40,81.02 470.65,81.04 470.90,81.14 471.15,81.25 471.40,81.44 471.65,81.61 471.90,81.71 472.15,81.68 472.40,81.61 472.65,81.60 472.90,81.59 473.15,81.58 473.40,81.67 473.65,81.82 473.90,81.99 474.15,82.07 474.40,82.15 474.65,82.19 474.90,82.20 475.15,82.00 475.40,81.90 475.65,81.73 475.90,81.63 476.15,81.57 476.40,81.59 476.65,81.64 476.90,81.67 477.15,81.65 477.40,81.60 477.65,81.53 477.90,81.32 478.15,81.11 478.40,80.83 478.65,80.65 478.90,80.51 479.15,80.49 479.40,80.49 479.65,80.66 479.90,80.77 480.15,80.90 480.40,80.97 480.65,81.04 480.90,81.03 481.15,81.05 481.40,81.09 481.65,81.21 481.90,81.49 482.15,81.78 482.40,81.95 482.65,82.10 482.90,82.23 483.15,82.12 483.40,81.96 483.65,81.85 483.90,81.73 484.15,81.59 484.40,81.61 484.65,81.63 484.90,81.69 485.15,81.68 485.40,81.70 485.65,81.57 485.90,81.48 486.15,81.35 486.40,81.22 486.65,81.04 486.90,81.07 487.15,81.14 487.40,81.26 487.65,81.48 487.90,81.65 488.15,81.83 488.40,81.87 488.65,81.84 488.90,81.84 489.15,81.83 489.40,81.71 489.65,81.67 489.90,81.82 490.15,81.92 490.40,82.07 490.65,82.14 490.90,82.20 491.15,82.03 491.40,81.74 491.65,81.43 491.90,81.19 492.15,80.82 492.40,80.62 492.65,80.57 492.90,80.51 493.15,80.57 493.40,80.76 493.65,80.94 493.90,80.97 494.15,80.98 494.40,80.95 494.65,80.86 494.90,80.87 495.15,81.00 495.40,81.18 495.65,81.33 495.90,81.54 496.15,81.69 496.40,81.83 496.65,81.91 496.90,81.95 497.15,81.90 497.40,81.84 497.65,81.73 497.90,81.70 498.15,81.72 498.40,81.84 498.65,81.91 498.90,82.04 499.15,82.10 499.40,82.09 499.65,81.95 499.90,81.82 500.15,81.64 500.40,81.43 500.65,81.35 500.90,81.41 501.15,81.46 501.40,81.50 501.65,81.62 501.90,81.58 502.15,81.46 502.40,81.28 502.65,81.21 502.90,81.15 503.15,81.20 503.40,81.28 503.65,81.43 503.90,81.58 504.15,81.77 504.40,81.91 504.65,82.02 504.90,82.07 505.15,82.00 505.40,81.86 505.65,81.74 505.90,81.74 506.15,81.71 506.40,81.81 506.65,81.93 506.90,82.05 507.15,82.04 507.40,82.09 507.65,82.01 507.90,81.88 508.15,81.71 508.40,81.50 508.65,81.32 508.90,81.24 509.15,81.24 509.40,81.22 509.65,81.36 509.90,81.48 510.15,81.47 510.40,81.42 510.65,81.35 510.90,81.31 511.15,81.22 511.40,81.21 511.65,81.25 511.90,81.40 512.15,81.40 512.40,81.45" fill="none" stroke="#c8002c" stroke-width="1.15" stroke-linejoin="round"/>
<line x1="395.3" y1="31.8" x2="395.3" y2="85.5" stroke="#111" stroke-width="1.15" stroke-dasharray="2.9 2.3" stroke-dashoffset="1.5"/>
<line x1="411.2" y1="31.8" x2="411.2" y2="85.5" stroke="#111" stroke-width="1.15" stroke-dasharray="2.9 2.3" stroke-dashoffset="1.5"/>
<line x1="395.3" y1="104.9" x2="395.3" y2="128.6" stroke="#111" stroke-width="1.15" stroke-dasharray="2.9 2.3"/>
<line x1="411.0" y1="104.6" x2="411.0" y2="114" stroke="#111" stroke-width="1.15" stroke-dasharray="2.9 2.3"/>
<line x1="411.0" y1="120.5" x2="411.0" y2="127.5" stroke="#111" stroke-width="1.15" stroke-dasharray="2.9 2.3"/>
<line x1="299.1" y1="118.0" x2="441.5" y2="118.0" stroke="#111" stroke-width="1.15"/>
<rect x="299.1" y="116.1" width="4.5" height="3.8" fill="#231f20"/>
<rect x="440.2" y="116.5" width="2.0" height="3.0" fill="#231f20"/>
<path d="M308.82,118.00 L310.07,116.75 L311.20,117.25 L311.20,118.75 L310.07,119.25 Z" fill="#111"/>
<path d="M317.12,118.00 L318.38,116.75 L319.50,117.25 L319.50,118.75 L318.38,119.25 Z" fill="#111"/>
<path d="M322.12,118.00 L323.38,116.75 L324.50,117.25 L324.50,118.75 L323.38,119.25 Z" fill="#111"/>
<path d="M329.82,118.00 L331.07,116.75 L332.20,117.25 L332.20,118.75 L331.07,119.25 Z" fill="#111"/>
<path d="M339.43,118.00 L340.68,116.75 L341.80,117.25 L341.80,118.75 L340.68,119.25 Z" fill="#111"/>
<path d="M344.82,118.00 L346.07,116.75 L347.20,117.25 L347.20,118.75 L346.07,119.25 Z" fill="#111"/>
<path d="M349.43,118.00 L350.68,116.75 L351.80,117.25 L351.80,118.75 L350.68,119.25 Z" fill="#111"/>
<path d="M354.02,118.00 L355.27,116.75 L356.40,117.25 L356.40,118.75 L355.27,119.25 Z" fill="#111"/>
<path d="M359.43,118.00 L360.68,116.75 L361.80,117.25 L361.80,118.75 L360.68,119.25 Z" fill="#111"/>
<path d="M364.82,118.00 L366.07,116.75 L367.20,117.25 L367.20,118.75 L366.07,119.25 Z" fill="#111"/>
<path d="M368.93,118.00 L370.18,116.75 L371.30,117.25 L371.30,118.75 L370.18,119.25 Z" fill="#111"/>
<path d="M374.02,118.00 L375.27,116.75 L376.40,117.25 L376.40,118.75 L375.27,119.25 Z" fill="#111"/>
<path d="M378.62,118.00 L379.88,116.75 L381.00,117.25 L381.00,118.75 L379.88,119.25 Z" fill="#111"/>
<path d="M383.23,118.00 L384.48,116.75 L385.60,117.25 L385.60,118.75 L384.48,119.25 Z" fill="#111"/>
<path d="M398.93,118.00 L400.18,116.75 L401.30,117.25 L401.30,118.75 L400.18,119.25 Z" fill="#111"/>
<path d="M403.23,118.00 L404.48,116.75 L405.60,117.25 L405.60,118.75 L404.48,119.25 Z" fill="#111"/>
<path d="M407.62,118.00 L408.88,116.75 L410.00,117.25 L410.00,118.75 L408.88,119.25 Z" fill="#111"/>
<path d="M411.43,118.00 L412.68,116.75 L413.80,117.25 L413.80,118.75 L412.68,119.25 Z" fill="#111"/>
<path d="M416.62,118.00 L417.88,116.75 L419.00,117.25 L419.00,118.75 L417.88,119.25 Z" fill="#111"/>
<path d="M426.82,118.00 L428.07,116.75 L429.20,117.25 L429.20,118.75 L428.07,119.25 Z" fill="#111"/>
<path d="M434.52,118.00 L435.77,116.75 L436.90,117.25 L436.90,118.75 L435.77,119.25 Z" fill="#111"/>
<rect x="313.90" y="116.70" width="0.6" height="2.6" fill="#555"/>
<rect x="324.50" y="116.70" width="0.6" height="2.6" fill="#555"/>
<rect x="335.70" y="116.70" width="0.6" height="2.6" fill="#555"/>
<rect x="388.90" y="116.70" width="0.6" height="2.6" fill="#555"/>
<rect x="414.90" y="116.70" width="0.6" height="2.6" fill="#555"/>
<rect x="420.70" y="116.70" width="0.6" height="2.6" fill="#555"/>
<path d="M395,112.7 L395,115.5 Q395,118 399.3,118 M399.3,112.1 L399.3,118 M403.6,112.1 L403.6,115.5 Q403.6,118 399.3,118" stroke="#d0103a" stroke-width="0.8" fill="none"/>
<circle cx="395" cy="112.7" r="1.3" fill="#d0103a"/>
<circle cx="399.3" cy="112.1" r="1.3" fill="#d0103a"/>
<circle cx="403.6" cy="112.1" r="1.3" fill="#d0103a"/>
<text x="402.1" y="109.5" font-size="7.9" fill="#231f20" stroke="#231f20" stroke-width="0.14"><tspan font-style="italic">WT1</tspan>: +14141 to +14145</text>
<text x="443.40" y="120.80" font-size="7.8" text-anchor="start" fill="#231f20" font-style="italic" stroke="#231f20" stroke-width="0.14">WT1</text>
<text x="412.10" y="128.50" font-size="7.5" text-anchor="start" fill="#231f20" font-style="italic" stroke="#231f20" stroke-width="0.14">WT1-AS</text>
<line x1="442.3" y1="125.4" x2="512.3" y2="125.4" stroke="#111" stroke-width="1.1"/>
<rect x="442.3" y="124.0" width="1.6" height="2.8" fill="#231f20"/>
<line x1="512.3" y1="124.10000000000001" x2="512.3" y2="126.7" stroke="#231f20" stroke-width="0.7"/>
<path d="M445.68,125.40 L446.88,124.20 L447.96,124.68 L447.96,126.12 L446.88,126.60 Z" fill="#111"/>
<path d="M450.18,125.40 L451.38,124.20 L452.46,124.68 L452.46,126.12 L451.38,126.60 Z" fill="#111"/>
<path d="M454.68,125.40 L455.88,124.20 L456.96,124.68 L456.96,126.12 L455.88,126.60 Z" fill="#111"/>
<path d="M459.18,125.40 L460.38,124.20 L461.46,124.68 L461.46,126.12 L460.38,126.60 Z" fill="#111"/>
<path d="M463.68,125.40 L464.88,124.20 L465.96,124.68 L465.96,126.12 L464.88,126.60 Z" fill="#111"/>
<path d="M468.18,125.40 L469.38,124.20 L470.46,124.68 L470.46,126.12 L469.38,126.60 Z" fill="#111"/>
<path d="M472.68,125.40 L473.88,124.20 L474.96,124.68 L474.96,126.12 L473.88,126.60 Z" fill="#111"/>
<path d="M477.18,125.40 L478.38,124.20 L479.46,124.68 L479.46,126.12 L478.38,126.60 Z" fill="#111"/>
<path d="M481.68,125.40 L482.88,124.20 L483.96,124.68 L483.96,126.12 L482.88,126.60 Z" fill="#111"/>
<path d="M486.18,125.40 L487.38,124.20 L488.46,124.68 L488.46,126.12 L487.38,126.60 Z" fill="#111"/>
<path d="M490.68,125.40 L491.88,124.20 L492.96,124.68 L492.96,126.12 L491.88,126.60 Z" fill="#111"/>
<path d="M500.68,125.40 L501.88,124.20 L502.96,124.68 L502.96,126.12 L501.88,126.60 Z" fill="#111"/>
<path d="M505.18,125.40 L506.38,124.20 L507.46,124.68 L507.46,126.12 L506.38,126.60 Z" fill="#111"/>
<circle cx="497" cy="125.4" r="1.5" fill="#231f20"/>
<text x="7.00" y="158.10" font-size="12" text-anchor="start" fill="#231f20" font-weight="bold">C</text>
<path d="M16.3,178.3 L16.3,181.8 L65.6,181.8 L65.6,178.3" stroke="#4a4a4a" stroke-width="1.1" fill="none"/>
<text x="41.10" y="179.10" font-size="7.7" text-anchor="middle" fill="#231f20"  stroke="#231f20" stroke-width="0.14">10 K</text>
<line x1="12.2" y1="199.5" x2="241.9" y2="199.5" stroke="#111" stroke-width="1.1"/>
<rect x="12.2" y="197.8" width="6.8" height="3.4" fill="#231f20"/>
<rect x="238" y="197.9" width="3.9" height="3.2" fill="#231f20"/>
<path d="M29.01,199.50 L30.46,198.05 L31.76,198.63 L31.76,200.37 L30.46,200.95 Z" fill="#111"/>
<path d="M40.61,199.50 L42.05,198.05 L43.36,198.63 L43.36,200.37 L42.05,200.95 Z" fill="#111"/>
<path d="M48.01,199.50 L49.45,198.05 L50.76,198.63 L50.76,200.37 L49.45,200.95 Z" fill="#111"/>
<path d="M63.81,199.50 L65.26,198.05 L66.56,198.63 L66.56,200.37 L65.26,200.95 Z" fill="#111"/>
<path d="M78.61,199.50 L80.06,198.05 L81.36,198.63 L81.36,200.37 L80.06,200.95 Z" fill="#111"/>
<path d="M86.11,199.50 L87.56,198.05 L88.86,198.63 L88.86,200.37 L87.56,200.95 Z" fill="#111"/>
<path d="M94.61,199.50 L96.06,198.05 L97.36,198.63 L97.36,200.37 L96.06,200.95 Z" fill="#111"/>
<path d="M102.11,199.50 L103.56,198.05 L104.86,198.63 L104.86,200.37 L103.56,200.95 Z" fill="#111"/>
<path d="M110.31,199.50 L111.76,198.05 L113.06,198.63 L113.06,200.37 L111.76,200.95 Z" fill="#111"/>
<path d="M117.61,199.50 L119.06,198.05 L120.36,198.63 L120.36,200.37 L119.06,200.95 Z" fill="#111"/>
<path d="M126.31,199.50 L127.76,198.05 L129.06,198.63 L129.06,200.37 L127.76,200.95 Z" fill="#111"/>
<path d="M133.41,199.50 L134.85,198.05 L136.16,198.63 L136.16,200.37 L134.85,200.95 Z" fill="#111"/>
<path d="M141.91,199.50 L143.35,198.05 L144.66,198.63 L144.66,200.37 L143.35,200.95 Z" fill="#111"/>
<path d="M166.50,199.50 L167.95,198.05 L169.26,198.63 L169.26,200.37 L167.95,200.95 Z" fill="#111"/>
<path d="M180.10,199.50 L181.55,198.05 L182.86,198.63 L182.86,200.37 L181.55,200.95 Z" fill="#111"/>
<path d="M187.31,199.50 L188.75,198.05 L190.06,198.63 L190.06,200.37 L188.75,200.95 Z" fill="#111"/>
<path d="M194.21,199.50 L195.66,198.05 L196.96,198.63 L196.96,200.37 L195.66,200.95 Z" fill="#111"/>
<path d="M201.50,199.50 L202.95,198.05 L204.26,198.63 L204.26,200.37 L202.95,200.95 Z" fill="#111"/>
<path d="M217.60,199.50 L219.05,198.05 L220.36,198.63 L220.36,200.37 L219.05,200.95 Z" fill="#111"/>
<path d="M229.41,199.50 L230.85,198.05 L232.16,198.63 L232.16,200.37 L230.85,200.95 Z" fill="#111"/>
<rect x="33.00" y="197.60" width="1.0" height="3.8" fill="#555"/>
<rect x="35.30" y="197.60" width="1.0" height="3.8" fill="#555"/>
<rect x="53.00" y="197.60" width="1.0" height="3.8" fill="#231f20"/>
<rect x="70.50" y="197.60" width="1.0" height="3.8" fill="#888"/>
<rect x="150.00" y="197.60" width="1.0" height="3.8" fill="#888"/>
<rect x="154.10" y="197.60" width="1.0" height="3.8" fill="#555"/>
<rect x="154.90" y="197.60" width="1.0" height="3.8" fill="#231f20"/>
<rect x="204.90" y="197.60" width="1.0" height="3.8" fill="#777"/>
<rect x="207.70" y="197.60" width="1.0" height="3.8" fill="#231f20"/>
<path d="M111.7,186 L111.7,190.9 L174.7,197.3" stroke="#231f20" stroke-width="0.9" fill="none"/>
<path d="M143,186 L143,190.5 L174.7,197.0" stroke="#231f20" stroke-width="0.9" fill="none"/>
<line x1="174.7" y1="185" x2="174.7" y2="209.2" stroke="#444" stroke-width="1.2"/>
<path d="M56.3,220.8 L174.7,209.2 L232.7,220.5" stroke="#333" stroke-width="0.9" fill="none"/>
<circle cx="111.7" cy="184.3" r="3.15" fill="#d0103a"/>
<text x="111.7" y="186.03" font-size="4.8" text-anchor="middle" fill="#fff" stroke="none">1</text>
<circle cx="143.0" cy="184.3" r="3.15" fill="#d0103a"/>
<text x="143.0" y="186.03" font-size="4.8" text-anchor="middle" fill="#fff" stroke="none">1</text>
<circle cx="174.5" cy="160.1" r="3.15" fill="#d0103a"/>
<text x="174.5" y="161.83" font-size="4.8" text-anchor="middle" fill="#fff" stroke="none">1</text>
<circle cx="174.5" cy="169.6" r="3.2" fill="#d0103a"/>
<text x="174.5" y="171.33" font-size="4.8" text-anchor="middle" fill="#fff" stroke="none">3</text>
<circle cx="174.7" cy="181.9" r="5.0" fill="#0f4c81"/>
<text x="174.7" y="184.24" font-size="6.5" text-anchor="middle" fill="#fff" stroke="none">8</text>
<text x="116.00" y="186.40" font-size="6.5" text-anchor="start" fill="#231f20"  stroke="#231f20" stroke-width="0.14">95C&gt;A</text>
<text x="146.70" y="186.40" font-size="6.5" text-anchor="start" fill="#231f20"  stroke="#231f20" stroke-width="0.14">96C&gt;A</text>
<text x="179.10" y="162.20" font-size="6.5" text-anchor="start" fill="#231f20"  stroke="#231f20" stroke-width="0.14">97G&gt;A</text>
<text x="179.30" y="171.70" font-size="6.5" text-anchor="start" fill="#231f20"  stroke="#231f20" stroke-width="0.14">97G&gt;T</text>
<text x="181.80" y="184.30" font-size="6.5" text-anchor="start" fill="#231f20"  stroke="#231f20" stroke-width="0.14">97G&gt;A</text>
<circle cx="226.9" cy="172.3" r="2" fill="#d0103a"/>
<circle cx="226.9" cy="181.7" r="2" fill="#0f4c81"/>
<text x="231.60" y="174.60" font-size="7.4" text-anchor="start" fill="#231f20"  stroke="#231f20" stroke-width="0.14">Somatic</text>
<text x="231.60" y="184.20" font-size="7.4" text-anchor="start" fill="#231f20"  stroke="#231f20" stroke-width="0.14">Germline</text>
<text x="245.80" y="201.40" font-size="7.3" text-anchor="start" fill="#231f20" font-style="italic" stroke="#231f20" stroke-width="0.14">WT1</text>
<rect x="6.9" y="221" width="260.9" height="54.7" fill="#c5d5e1"/>
<text x="12.90" y="229.40" font-size="6.3" text-anchor="start" fill="#231f20"  stroke="#231f20" stroke-width="0.14">Reference sequence</text>
<text x="80.80" y="229.40" font-size="6.26" text-anchor="start" fill="#231f20"  stroke="#231f20" stroke-width="0.14">CATTTCAGCTCCAACCGTCTAACTCTGCCTGTTCGGA</text>
<text x="10.10" y="239.90" font-size="6.3" text-anchor="start" fill="#231f20"  stroke="#231f20" stroke-width="0.14">Chr11:32421395_C&gt;A:</text>
<text x="80.8" y="239.9" font-size="6.26" fill="#231f20" stroke="#231f20" stroke-width="0.14">CATTTCAGCTCCAA<tspan fill="#e0243e" stroke="#e0243e" stroke-width="0.14">A</tspan>CGTCTAACTCTGCCTGTTCGGA</text>
<text x="244.50" y="239.90" font-size="6.3" text-anchor="start" fill="#231f20"  stroke="#231f20" stroke-width="0.14">(N = 1)</text>
<text x="10.10" y="250.35" font-size="6.3" text-anchor="start" fill="#231f20"  stroke="#231f20" stroke-width="0.14">Chr11:32421396_C&gt;A:</text>
<text x="80.8" y="250.35" font-size="6.26" fill="#231f20" stroke="#231f20" stroke-width="0.14">CATTTCAGCTCCAAC<tspan fill="#e0243e" stroke="#e0243e" stroke-width="0.14">A</tspan>GTCTAACTCTGCCTGTTCGGA</text>
<text x="244.50" y="250.35" font-size="6.3" text-anchor="start" fill="#231f20"  stroke="#231f20" stroke-width="0.14">(N = 1)</text>
<text x="10.10" y="260.80" font-size="6.3" text-anchor="start" fill="#231f20"  stroke="#231f20" stroke-width="0.14">Chr11:32421397_G&gt;T:</text>
<text x="80.8" y="260.8" font-size="6.26" fill="#231f20" stroke="#231f20" stroke-width="0.14">CATTTCAGCTCCAACC<tspan fill="#e0243e" stroke="#e0243e" stroke-width="0.14">T</tspan>TCTAACTCTGCCTGTTCGGA</text>
<text x="244.50" y="260.80" font-size="6.3" text-anchor="start" fill="#231f20"  stroke="#231f20" stroke-width="0.14">(N = 3)</text>
<text x="10.10" y="271.25" font-size="6.3" text-anchor="start" fill="#231f20"  stroke="#231f20" stroke-width="0.14">Chr11:32421397_G&gt;A:</text>
<text x="80.8" y="271.25" font-size="6.26" fill="#231f20" stroke="#231f20" stroke-width="0.14">CATTTCAGCTCCAACC<tspan fill="#e0243e" stroke="#e0243e" stroke-width="0.14">A</tspan>TCTAACTCTGCCTGTTCGGA</text>
<text x="244.50" y="271.25" font-size="6.3" text-anchor="start" fill="#231f20"  stroke="#231f20" stroke-width="0.14">(N = 9)</text>
<text x="281.40" y="157.90" font-size="12" text-anchor="start" fill="#231f20" font-weight="bold">D</text>
<text x="322.10" y="167.10" font-size="8.0" text-anchor="start" fill="#231f20"  stroke="#231f20" stroke-width="0.14">Alt freq of Chr11:32421397_G&gt;A (rs191528827)</text>
<rect x="321.6" y="175.2" width="172.0" height="14.5" fill="#0f4c81"/>
<rect x="321.6" y="191.3" width="59.4" height="14.4" fill="#85a6c6"/>
<text x="319.00" y="184.80" font-size="7.6" text-anchor="end" fill="#231f20"  stroke="#231f20" stroke-width="0.14">APLs</text>
<text x="319.00" y="200.40" font-size="7.7" text-anchor="end" fill="#231f20" textLength="37.6" lengthAdjust="spacingAndGlyphs" stroke="#231f20" stroke-width="0.14">ChinaMAP</text>
<text x="397.00" y="185.10" font-size="8.0" text-anchor="start" fill="#d6e0ec"  stroke="#d6e0ec" stroke-width="0.14">8/338</text>
<text x="330.90" y="200.50" font-size="8.0" text-anchor="start" fill="#231f20"  stroke="#231f20" stroke-width="0.14">173/21176</text>
<line x1="317.8" y1="210" x2="506.7" y2="210" stroke="#111" stroke-width="1.25"/>
<line x1="321.50" y1="210" x2="321.50" y2="212.5" stroke="#231f20" stroke-width="0.9"/>
<text x="321.50" y="221.80" font-size="7.6" text-anchor="middle" fill="#231f20"  stroke="#231f20" stroke-width="0.14">0.000</text>
<line x1="357.90" y1="210" x2="357.90" y2="212.5" stroke="#231f20" stroke-width="0.9"/>
<text x="357.90" y="221.80" font-size="7.6" text-anchor="middle" fill="#231f20"  stroke="#231f20" stroke-width="0.14">0.005</text>
<line x1="394.30" y1="210" x2="394.30" y2="212.5" stroke="#231f20" stroke-width="0.9"/>
<text x="394.30" y="221.80" font-size="7.6" text-anchor="middle" fill="#231f20"  stroke="#231f20" stroke-width="0.14">0.010</text>
<line x1="430.70" y1="210" x2="430.70" y2="212.5" stroke="#231f20" stroke-width="0.9"/>
<text x="430.70" y="221.80" font-size="7.6" text-anchor="middle" fill="#231f20"  stroke="#231f20" stroke-width="0.14">0.015</text>
<line x1="467.10" y1="210" x2="467.10" y2="212.5" stroke="#231f20" stroke-width="0.9"/>
<text x="467.10" y="221.80" font-size="7.6" text-anchor="middle" fill="#231f20"  stroke="#231f20" stroke-width="0.14">0.020</text>
<line x1="503.50" y1="210" x2="503.50" y2="212.5" stroke="#231f20" stroke-width="0.9"/>
<text x="503.50" y="221.80" font-size="7.6" text-anchor="middle" fill="#231f20"  stroke="#231f20" stroke-width="0.14">0.025</text>
<line x1="351.55" y1="236.6" x2="351.55" y2="264.2" stroke="#111" stroke-width="1.1" stroke-dasharray="2.8 1.9"/>
<line x1="363.3" y1="249.5" x2="500.9" y2="249.5" stroke="#3a6ea5" stroke-width="0.9"/>
<line x1="363.3" y1="246.8" x2="363.3" y2="252.3" stroke="#3a6ea5" stroke-width="0.9"/>
<line x1="500.9" y1="246.8" x2="500.9" y2="252.3" stroke="#3a6ea5" stroke-width="0.9"/>
<path d="M410.3,245.1 L414.2,249.2 L410.3,253.1 L406.4,249.2 Z" fill="#0f4c81"/>
<text x="352.40" y="241.20" font-size="7.6" text-anchor="start" fill="#231f20"  stroke="#231f20" stroke-width="0.14">1.4107</text>
<text x="398.00" y="241.60" font-size="7.6" text-anchor="start" fill="#d2304d"  stroke="#d2304d" stroke-width="0.14">2.8902</text>
<text x="489.00" y="241.80" font-size="7.8" text-anchor="start" fill="#231f20"  stroke="#231f20" stroke-width="0.14">5.9209</text>
<line x1="316.9" y1="264.2" x2="507.6" y2="264.2" stroke="#111" stroke-width="1.25"/>
<line x1="321.10" y1="264.2" x2="321.10" y2="266.8" stroke="#231f20" stroke-width="0.9"/>
<text x="321.10" y="276.40" font-size="7.6" text-anchor="middle" fill="#231f20"  stroke="#231f20" stroke-width="0.14">0</text>
<line x1="382.00" y1="264.2" x2="382.00" y2="266.8" stroke="#231f20" stroke-width="0.9"/>
<text x="382.00" y="276.40" font-size="7.6" text-anchor="middle" fill="#231f20"  stroke="#231f20" stroke-width="0.14">2</text>
<line x1="442.90" y1="264.2" x2="442.90" y2="266.8" stroke="#231f20" stroke-width="0.9"/>
<text x="442.90" y="276.40" font-size="7.6" text-anchor="middle" fill="#231f20"  stroke="#231f20" stroke-width="0.14">4</text>
<line x1="503.80" y1="264.2" x2="503.80" y2="266.8" stroke="#231f20" stroke-width="0.9"/>
<text x="503.80" y="276.40" font-size="7.6" text-anchor="middle" fill="#231f20"  stroke="#231f20" stroke-width="0.14">6</text>
<text x="349.20" y="288.70" font-size="7.86" text-anchor="start" fill="#231f20"  stroke="#231f20" stroke-width="0.14">Odds ratio (95% CI) of rs191528827</text>
<rect x="0.5" y="0.5" width="519" height="296" fill="none" stroke="#000" stroke-width="1"/>
</svg>
</body></html>
